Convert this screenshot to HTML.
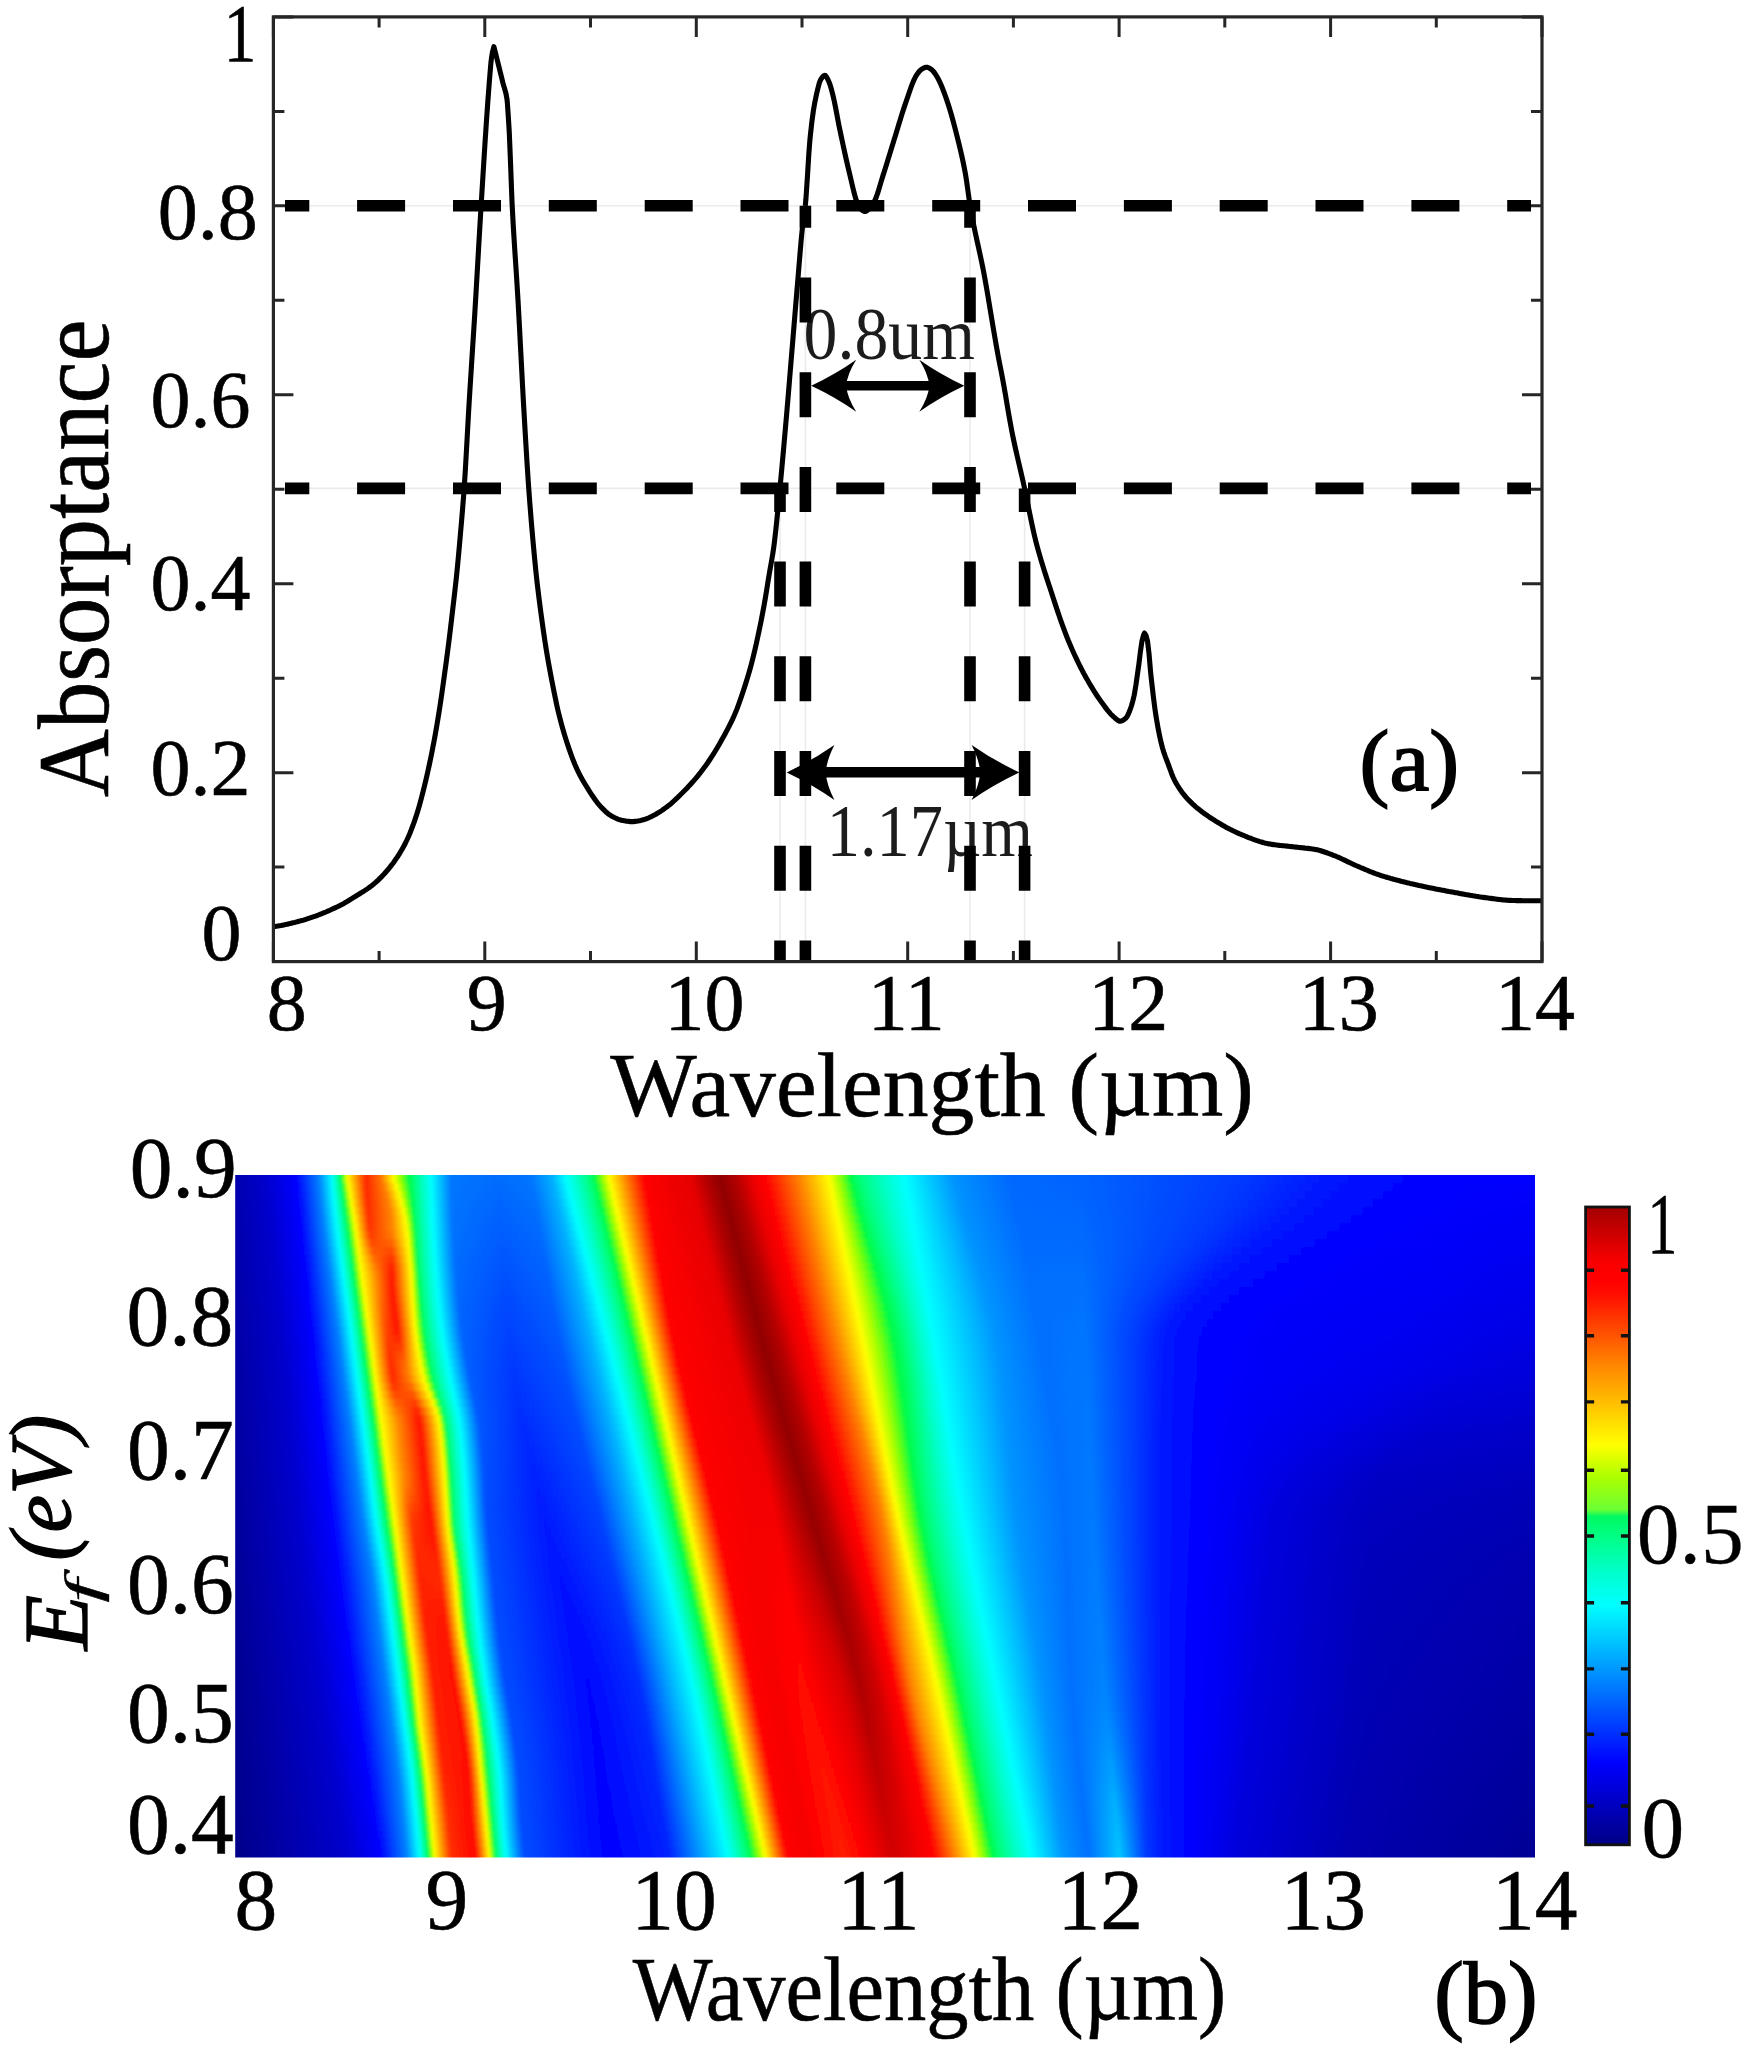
<!DOCTYPE html>
<html lang="en"><head><meta charset="utf-8"><title>Absorptance figure</title>
<style>html,body{margin:0;padding:0;background:#fff}svg{display:block;filter:blur(0.55px)}</style></head>
<body>
<svg width="1747" height="2051" viewBox="0 0 1747 2051" font-family='"Liberation Serif", serif'>
<defs>
<clipPath id="hclip"><rect x="235.2" y="1175.0" width="1299.8" height="682.4"/></clipPath>
<filter id="hblur" x="-2%" y="-4%" width="104%" height="108%"><feGaussianBlur stdDeviation="1.6"/></filter>
<linearGradient id="h0"><stop offset="0.0061" stop-color="#0000ae"/><stop offset="0.0293" stop-color="#0000cd"/><stop offset="0.0521" stop-color="#0000ff"/><stop offset="0.0697" stop-color="#0080ff"/><stop offset="0.0796" stop-color="#00ffff"/><stop offset="0.0822" stop-color="#00ffc8"/><stop offset="0.0848" stop-color="#00ff82"/><stop offset="0.0854" stop-color="#00fe6f"/><stop offset="0.0869" stop-color="#00fc46"/><stop offset="0.0883" stop-color="#5fff14"/><stop offset="0.0897" stop-color="#afff00"/><stop offset="0.0913" stop-color="#ffff00"/><stop offset="0.1055" stop-color="#ff2400"/><stop offset="0.1172" stop-color="#ff7500"/><stop offset="0.1264" stop-color="#ffff00"/><stop offset="0.1306" stop-color="#afff00"/><stop offset="0.1342" stop-color="#5fff14"/><stop offset="0.1378" stop-color="#00fc46"/><stop offset="0.1414" stop-color="#00fe6f"/><stop offset="0.1429" stop-color="#00ff82"/><stop offset="0.1490" stop-color="#00ffc8"/><stop offset="0.1550" stop-color="#00ffff"/><stop offset="0.1702" stop-color="#0075ff"/><stop offset="0.2062" stop-color="#006cff"/><stop offset="0.2310" stop-color="#0074ff"/><stop offset="0.2475" stop-color="#00b2ff"/><stop offset="0.2575" stop-color="#00ffff"/><stop offset="0.2658" stop-color="#00ffc8"/><stop offset="0.2742" stop-color="#00ff82"/><stop offset="0.2763" stop-color="#00fe6f"/><stop offset="0.2797" stop-color="#00fc46"/><stop offset="0.2831" stop-color="#5fff14"/><stop offset="0.2865" stop-color="#afff00"/><stop offset="0.2905" stop-color="#ffff00"/><stop offset="0.3034" stop-color="#ff8000"/><stop offset="0.3168" stop-color="#ff0000"/><stop offset="0.3368" stop-color="#ef0000"/><stop offset="0.3530" stop-color="#e50000"/><stop offset="0.3641" stop-color="#b30000"/><stop offset="0.3748" stop-color="#8f0000"/><stop offset="0.3868" stop-color="#b30000"/><stop offset="0.3990" stop-color="#eb0000"/><stop offset="0.4088" stop-color="#ff0000"/><stop offset="0.4344" stop-color="#ff8000"/><stop offset="0.4577" stop-color="#ffff00"/><stop offset="0.4637" stop-color="#afff00"/><stop offset="0.4689" stop-color="#5fff14"/><stop offset="0.4740" stop-color="#00fc46"/><stop offset="0.4792" stop-color="#00fe6f"/><stop offset="0.4832" stop-color="#00ff82"/><stop offset="0.4993" stop-color="#00ffc8"/><stop offset="0.5151" stop-color="#00ffff"/><stop offset="0.5518" stop-color="#0094ff"/><stop offset="0.5958" stop-color="#0068ff"/><stop offset="0.6474" stop-color="#0064ff"/><stop offset="0.7728" stop-color="#0038ff"/><stop offset="0.8312" stop-color="#0019ff"/><stop offset="0.8725" stop-color="#000aff"/><stop offset="0.9128" stop-color="#0003ff"/><stop offset="0.9400" stop-color="#0000ff"/><stop offset="0.9420" stop-color="#0000ff"/><stop offset="0.9526" stop-color="#0000fe"/><stop offset="0.9696" stop-color="#0000fe"/><stop offset="0.9939" stop-color="#0000fe"/></linearGradient>
<linearGradient id="h1"><stop offset="0.0061" stop-color="#0000ad"/><stop offset="0.0299" stop-color="#0000cd"/><stop offset="0.0527" stop-color="#0000ff"/><stop offset="0.0703" stop-color="#0080ff"/><stop offset="0.0801" stop-color="#00ffff"/><stop offset="0.0828" stop-color="#00ffc8"/><stop offset="0.0856" stop-color="#00ff82"/><stop offset="0.0863" stop-color="#00fe6f"/><stop offset="0.0877" stop-color="#00fc46"/><stop offset="0.0892" stop-color="#5fff14"/><stop offset="0.0907" stop-color="#afff00"/><stop offset="0.0924" stop-color="#ffff00"/><stop offset="0.1057" stop-color="#ff2400"/><stop offset="0.1193" stop-color="#ff7c00"/><stop offset="0.1286" stop-color="#ffff00"/><stop offset="0.1323" stop-color="#afff00"/><stop offset="0.1355" stop-color="#5fff14"/><stop offset="0.1387" stop-color="#00fc46"/><stop offset="0.1418" stop-color="#00fe6f"/><stop offset="0.1433" stop-color="#00ff82"/><stop offset="0.1493" stop-color="#00ffc8"/><stop offset="0.1552" stop-color="#00ffff"/><stop offset="0.1703" stop-color="#0075ff"/><stop offset="0.2066" stop-color="#006aff"/><stop offset="0.2321" stop-color="#0073ff"/><stop offset="0.2489" stop-color="#00b2ff"/><stop offset="0.2591" stop-color="#00ffff"/><stop offset="0.2673" stop-color="#00ffc8"/><stop offset="0.2757" stop-color="#00ff82"/><stop offset="0.2778" stop-color="#00fe6f"/><stop offset="0.2812" stop-color="#00fc46"/><stop offset="0.2845" stop-color="#5fff14"/><stop offset="0.2879" stop-color="#afff00"/><stop offset="0.2919" stop-color="#ffff00"/><stop offset="0.3047" stop-color="#ff8000"/><stop offset="0.3179" stop-color="#ff0000"/><stop offset="0.3381" stop-color="#ef0000"/><stop offset="0.3545" stop-color="#e50000"/><stop offset="0.3657" stop-color="#b30000"/><stop offset="0.3763" stop-color="#8f0000"/><stop offset="0.3884" stop-color="#b30000"/><stop offset="0.4006" stop-color="#eb0000"/><stop offset="0.4104" stop-color="#ff0000"/><stop offset="0.4359" stop-color="#ff8000"/><stop offset="0.4590" stop-color="#ffff00"/><stop offset="0.4651" stop-color="#afff00"/><stop offset="0.4704" stop-color="#5fff14"/><stop offset="0.4756" stop-color="#00fc46"/><stop offset="0.4809" stop-color="#00fe6f"/><stop offset="0.4848" stop-color="#00ff82"/><stop offset="0.5007" stop-color="#00ffc8"/><stop offset="0.5162" stop-color="#00ffff"/><stop offset="0.5534" stop-color="#0094ff"/><stop offset="0.5969" stop-color="#0068ff"/><stop offset="0.6477" stop-color="#0065ff"/><stop offset="0.7689" stop-color="#0038ff"/><stop offset="0.8254" stop-color="#0019ff"/><stop offset="0.8655" stop-color="#000aff"/><stop offset="0.9050" stop-color="#0003ff"/><stop offset="0.9304" stop-color="#0000ff"/><stop offset="0.9347" stop-color="#0000fe"/><stop offset="0.9497" stop-color="#0000fd"/><stop offset="0.9688" stop-color="#0000fd"/><stop offset="0.9939" stop-color="#0000fc"/></linearGradient>
<linearGradient id="h2"><stop offset="0.0061" stop-color="#0000ad"/><stop offset="0.0305" stop-color="#0000cd"/><stop offset="0.0533" stop-color="#0000ff"/><stop offset="0.0708" stop-color="#0080ff"/><stop offset="0.0807" stop-color="#00ffff"/><stop offset="0.0835" stop-color="#00ffc8"/><stop offset="0.0864" stop-color="#00ff82"/><stop offset="0.0871" stop-color="#00fe6f"/><stop offset="0.0886" stop-color="#00fc46"/><stop offset="0.0901" stop-color="#5fff14"/><stop offset="0.0916" stop-color="#afff00"/><stop offset="0.0934" stop-color="#ffff00"/><stop offset="0.1060" stop-color="#ff2600"/><stop offset="0.1213" stop-color="#ff8000"/><stop offset="0.1306" stop-color="#ffff00"/><stop offset="0.1339" stop-color="#afff00"/><stop offset="0.1367" stop-color="#5fff14"/><stop offset="0.1395" stop-color="#00fc46"/><stop offset="0.1422" stop-color="#00fe6f"/><stop offset="0.1437" stop-color="#00ff82"/><stop offset="0.1496" stop-color="#00ffc8"/><stop offset="0.1554" stop-color="#00ffff"/><stop offset="0.1705" stop-color="#0074ff"/><stop offset="0.2070" stop-color="#0068ff"/><stop offset="0.2331" stop-color="#0071ff"/><stop offset="0.2503" stop-color="#00b2ff"/><stop offset="0.2606" stop-color="#00ffff"/><stop offset="0.2688" stop-color="#00ffc8"/><stop offset="0.2771" stop-color="#00ff82"/><stop offset="0.2792" stop-color="#00fe6f"/><stop offset="0.2826" stop-color="#00fc46"/><stop offset="0.2860" stop-color="#5fff14"/><stop offset="0.2893" stop-color="#afff00"/><stop offset="0.2933" stop-color="#ffff00"/><stop offset="0.3059" stop-color="#ff8000"/><stop offset="0.3190" stop-color="#ff0000"/><stop offset="0.3394" stop-color="#f00000"/><stop offset="0.3559" stop-color="#e50000"/><stop offset="0.3673" stop-color="#b30000"/><stop offset="0.3779" stop-color="#8f0000"/><stop offset="0.3900" stop-color="#b30000"/><stop offset="0.4022" stop-color="#eb0000"/><stop offset="0.4120" stop-color="#ff0000"/><stop offset="0.4373" stop-color="#ff8000"/><stop offset="0.4602" stop-color="#ffff00"/><stop offset="0.4665" stop-color="#afff00"/><stop offset="0.4718" stop-color="#5fff14"/><stop offset="0.4772" stop-color="#00fc46"/><stop offset="0.4826" stop-color="#00fe6f"/><stop offset="0.4864" stop-color="#00ff82"/><stop offset="0.5020" stop-color="#00ffc8"/><stop offset="0.5173" stop-color="#00ffff"/><stop offset="0.5550" stop-color="#0094ff"/><stop offset="0.5979" stop-color="#0069ff"/><stop offset="0.6479" stop-color="#0065ff"/><stop offset="0.7650" stop-color="#0038ff"/><stop offset="0.8197" stop-color="#0019ff"/><stop offset="0.8585" stop-color="#000aff"/><stop offset="0.8972" stop-color="#0003ff"/><stop offset="0.9210" stop-color="#0000ff"/><stop offset="0.9273" stop-color="#0000fe"/><stop offset="0.9467" stop-color="#0000fd"/><stop offset="0.9680" stop-color="#0000fc"/><stop offset="0.9939" stop-color="#0000fb"/></linearGradient>
<linearGradient id="h3"><stop offset="0.0061" stop-color="#0000ad"/><stop offset="0.0312" stop-color="#0000cd"/><stop offset="0.0540" stop-color="#0000ff"/><stop offset="0.0715" stop-color="#0080ff"/><stop offset="0.0813" stop-color="#00ffff"/><stop offset="0.0842" stop-color="#00ffc8"/><stop offset="0.0871" stop-color="#00ff82"/><stop offset="0.0879" stop-color="#00fe6f"/><stop offset="0.0895" stop-color="#00fc46"/><stop offset="0.0910" stop-color="#5fff14"/><stop offset="0.0926" stop-color="#afff00"/><stop offset="0.0944" stop-color="#ffff00"/><stop offset="0.1064" stop-color="#ff2700"/><stop offset="0.1230" stop-color="#ff8300"/><stop offset="0.1325" stop-color="#ffff00"/><stop offset="0.1353" stop-color="#afff00"/><stop offset="0.1378" stop-color="#5fff14"/><stop offset="0.1402" stop-color="#00fc46"/><stop offset="0.1427" stop-color="#00fe6f"/><stop offset="0.1441" stop-color="#00ff82"/><stop offset="0.1499" stop-color="#00ffc8"/><stop offset="0.1556" stop-color="#00ffff"/><stop offset="0.1708" stop-color="#0074ff"/><stop offset="0.2074" stop-color="#0065ff"/><stop offset="0.2342" stop-color="#0070ff"/><stop offset="0.2518" stop-color="#00b2ff"/><stop offset="0.2622" stop-color="#00ffff"/><stop offset="0.2703" stop-color="#00ffc8"/><stop offset="0.2786" stop-color="#00ff82"/><stop offset="0.2806" stop-color="#00fe6f"/><stop offset="0.2840" stop-color="#00fc46"/><stop offset="0.2874" stop-color="#5fff14"/><stop offset="0.2908" stop-color="#afff00"/><stop offset="0.2947" stop-color="#ffff00"/><stop offset="0.3072" stop-color="#ff8000"/><stop offset="0.3201" stop-color="#ff0000"/><stop offset="0.3406" stop-color="#f00000"/><stop offset="0.3574" stop-color="#e60000"/><stop offset="0.3688" stop-color="#b30000"/><stop offset="0.3795" stop-color="#8f0000"/><stop offset="0.3916" stop-color="#b30000"/><stop offset="0.4038" stop-color="#eb0000"/><stop offset="0.4135" stop-color="#ff0000"/><stop offset="0.4387" stop-color="#ff8000"/><stop offset="0.4615" stop-color="#ffff00"/><stop offset="0.4679" stop-color="#afff00"/><stop offset="0.4733" stop-color="#5fff14"/><stop offset="0.4788" stop-color="#00fc46"/><stop offset="0.4842" stop-color="#00fe6f"/><stop offset="0.4881" stop-color="#00ff82"/><stop offset="0.5034" stop-color="#00ffc8"/><stop offset="0.5184" stop-color="#00ffff"/><stop offset="0.5566" stop-color="#0094ff"/><stop offset="0.5990" stop-color="#0069ff"/><stop offset="0.6482" stop-color="#0066ff"/><stop offset="0.7611" stop-color="#0038ff"/><stop offset="0.8139" stop-color="#0019ff"/><stop offset="0.8516" stop-color="#000aff"/><stop offset="0.8893" stop-color="#0003ff"/><stop offset="0.9118" stop-color="#0000ff"/><stop offset="0.9199" stop-color="#0000fe"/><stop offset="0.9438" stop-color="#0000fc"/><stop offset="0.9671" stop-color="#0000fb"/><stop offset="0.9939" stop-color="#0000fa"/></linearGradient>
<linearGradient id="h4"><stop offset="0.0061" stop-color="#0000ac"/><stop offset="0.0318" stop-color="#0000cd"/><stop offset="0.0546" stop-color="#0000ff"/><stop offset="0.0721" stop-color="#0080ff"/><stop offset="0.0820" stop-color="#00ffff"/><stop offset="0.0849" stop-color="#00ffc8"/><stop offset="0.0879" stop-color="#00ff82"/><stop offset="0.0887" stop-color="#00fe6f"/><stop offset="0.0903" stop-color="#00fc46"/><stop offset="0.0919" stop-color="#5fff14"/><stop offset="0.0935" stop-color="#afff00"/><stop offset="0.0954" stop-color="#ffff00"/><stop offset="0.1069" stop-color="#ff2900"/><stop offset="0.1243" stop-color="#ff8400"/><stop offset="0.1341" stop-color="#ffff00"/><stop offset="0.1366" stop-color="#afff00"/><stop offset="0.1388" stop-color="#5fff14"/><stop offset="0.1409" stop-color="#00fc46"/><stop offset="0.1431" stop-color="#00fe6f"/><stop offset="0.1445" stop-color="#00ff82"/><stop offset="0.1503" stop-color="#00ffc8"/><stop offset="0.1559" stop-color="#00ffff"/><stop offset="0.1710" stop-color="#0073ff"/><stop offset="0.2078" stop-color="#0063ff"/><stop offset="0.2352" stop-color="#006eff"/><stop offset="0.2532" stop-color="#00b2ff"/><stop offset="0.2638" stop-color="#00ffff"/><stop offset="0.2718" stop-color="#00ffc8"/><stop offset="0.2800" stop-color="#00ff82"/><stop offset="0.2821" stop-color="#00fe6f"/><stop offset="0.2854" stop-color="#00fc46"/><stop offset="0.2888" stop-color="#5fff14"/><stop offset="0.2922" stop-color="#afff00"/><stop offset="0.2961" stop-color="#ffff00"/><stop offset="0.3085" stop-color="#ff8000"/><stop offset="0.3212" stop-color="#ff0000"/><stop offset="0.3419" stop-color="#f00000"/><stop offset="0.3589" stop-color="#e60000"/><stop offset="0.3704" stop-color="#b30000"/><stop offset="0.3810" stop-color="#8f0000"/><stop offset="0.3932" stop-color="#b30000"/><stop offset="0.4054" stop-color="#eb0000"/><stop offset="0.4151" stop-color="#ff0000"/><stop offset="0.4402" stop-color="#ff8000"/><stop offset="0.4627" stop-color="#ffff00"/><stop offset="0.4692" stop-color="#afff00"/><stop offset="0.4748" stop-color="#5fff14"/><stop offset="0.4804" stop-color="#00fc46"/><stop offset="0.4860" stop-color="#00fe6f"/><stop offset="0.4897" stop-color="#00ff82"/><stop offset="0.5048" stop-color="#00ffc8"/><stop offset="0.5195" stop-color="#00ffff"/><stop offset="0.5582" stop-color="#0094ff"/><stop offset="0.6001" stop-color="#006aff"/><stop offset="0.6484" stop-color="#0067ff"/><stop offset="0.7570" stop-color="#0038ff"/><stop offset="0.8076" stop-color="#0019ff"/><stop offset="0.8441" stop-color="#000aff"/><stop offset="0.8810" stop-color="#0003ff"/><stop offset="0.9023" stop-color="#0000ff"/><stop offset="0.9120" stop-color="#0000fe"/><stop offset="0.9409" stop-color="#0000fb"/><stop offset="0.9663" stop-color="#0000fa"/><stop offset="0.9939" stop-color="#0000f8"/></linearGradient>
<linearGradient id="h5"><stop offset="0.0061" stop-color="#0000ac"/><stop offset="0.0324" stop-color="#0000cd"/><stop offset="0.0552" stop-color="#0000ff"/><stop offset="0.0728" stop-color="#0080ff"/><stop offset="0.0826" stop-color="#00ffff"/><stop offset="0.0857" stop-color="#00ffc8"/><stop offset="0.0887" stop-color="#00ff82"/><stop offset="0.0895" stop-color="#00fe6f"/><stop offset="0.0911" stop-color="#00fc46"/><stop offset="0.0928" stop-color="#5fff14"/><stop offset="0.0944" stop-color="#afff00"/><stop offset="0.0964" stop-color="#ffff00"/><stop offset="0.1074" stop-color="#ff2c00"/><stop offset="0.1251" stop-color="#ff8500"/><stop offset="0.1354" stop-color="#ffff00"/><stop offset="0.1377" stop-color="#afff00"/><stop offset="0.1396" stop-color="#5fff14"/><stop offset="0.1415" stop-color="#00fc46"/><stop offset="0.1435" stop-color="#00fe6f"/><stop offset="0.1449" stop-color="#00ff82"/><stop offset="0.1506" stop-color="#00ffc8"/><stop offset="0.1562" stop-color="#00ffff"/><stop offset="0.1713" stop-color="#0072ff"/><stop offset="0.2082" stop-color="#0061ff"/><stop offset="0.2363" stop-color="#006dff"/><stop offset="0.2546" stop-color="#00b2ff"/><stop offset="0.2654" stop-color="#00ffff"/><stop offset="0.2734" stop-color="#00ffc8"/><stop offset="0.2815" stop-color="#00ff82"/><stop offset="0.2835" stop-color="#00fe6f"/><stop offset="0.2869" stop-color="#00fc46"/><stop offset="0.2902" stop-color="#5fff14"/><stop offset="0.2936" stop-color="#afff00"/><stop offset="0.2975" stop-color="#ffff00"/><stop offset="0.3097" stop-color="#ff8000"/><stop offset="0.3222" stop-color="#ff0000"/><stop offset="0.3432" stop-color="#f00000"/><stop offset="0.3604" stop-color="#e60000"/><stop offset="0.3719" stop-color="#b30000"/><stop offset="0.3826" stop-color="#8f0000"/><stop offset="0.3948" stop-color="#b30000"/><stop offset="0.4070" stop-color="#eb0000"/><stop offset="0.4167" stop-color="#ff0000"/><stop offset="0.4416" stop-color="#ff8000"/><stop offset="0.4640" stop-color="#ffff00"/><stop offset="0.4706" stop-color="#afff00"/><stop offset="0.4763" stop-color="#5fff14"/><stop offset="0.4820" stop-color="#00fc46"/><stop offset="0.4877" stop-color="#00fe6f"/><stop offset="0.4914" stop-color="#00ff82"/><stop offset="0.5062" stop-color="#00ffc8"/><stop offset="0.5206" stop-color="#00ffff"/><stop offset="0.5599" stop-color="#0094ff"/><stop offset="0.6011" stop-color="#006aff"/><stop offset="0.6487" stop-color="#0068ff"/><stop offset="0.7524" stop-color="#0038ff"/><stop offset="0.8009" stop-color="#0019ff"/><stop offset="0.8360" stop-color="#000aff"/><stop offset="0.8720" stop-color="#0003ff"/><stop offset="0.8923" stop-color="#0000ff"/><stop offset="0.9037" stop-color="#0000fd"/><stop offset="0.9380" stop-color="#0000fb"/><stop offset="0.9655" stop-color="#0000f8"/><stop offset="0.9939" stop-color="#0000f7"/></linearGradient>
<linearGradient id="h6"><stop offset="0.0061" stop-color="#0000ab"/><stop offset="0.0331" stop-color="#0000cd"/><stop offset="0.0559" stop-color="#0000ff"/><stop offset="0.0734" stop-color="#0080ff"/><stop offset="0.0833" stop-color="#00ffff"/><stop offset="0.0864" stop-color="#00ffc8"/><stop offset="0.0895" stop-color="#00ff82"/><stop offset="0.0903" stop-color="#00fe6f"/><stop offset="0.0920" stop-color="#00fc46"/><stop offset="0.0936" stop-color="#5fff14"/><stop offset="0.0953" stop-color="#afff00"/><stop offset="0.0973" stop-color="#ffff00"/><stop offset="0.1079" stop-color="#ff2f00"/><stop offset="0.1252" stop-color="#ff8400"/><stop offset="0.1364" stop-color="#ffff00"/><stop offset="0.1385" stop-color="#afff00"/><stop offset="0.1403" stop-color="#5fff14"/><stop offset="0.1421" stop-color="#00fc46"/><stop offset="0.1439" stop-color="#00fe6f"/><stop offset="0.1453" stop-color="#00ff82"/><stop offset="0.1509" stop-color="#00ffc8"/><stop offset="0.1565" stop-color="#00ffff"/><stop offset="0.1716" stop-color="#0072ff"/><stop offset="0.2086" stop-color="#005eff"/><stop offset="0.2373" stop-color="#006bff"/><stop offset="0.2561" stop-color="#00b2ff"/><stop offset="0.2669" stop-color="#00ffff"/><stop offset="0.2749" stop-color="#00ffc8"/><stop offset="0.2829" stop-color="#00ff82"/><stop offset="0.2850" stop-color="#00fe6f"/><stop offset="0.2883" stop-color="#00fc46"/><stop offset="0.2917" stop-color="#5fff14"/><stop offset="0.2950" stop-color="#afff00"/><stop offset="0.2989" stop-color="#ffff00"/><stop offset="0.3110" stop-color="#ff8000"/><stop offset="0.3233" stop-color="#ff0000"/><stop offset="0.3444" stop-color="#f10000"/><stop offset="0.3618" stop-color="#e60000"/><stop offset="0.3735" stop-color="#b30000"/><stop offset="0.3842" stop-color="#8f0000"/><stop offset="0.3964" stop-color="#b30000"/><stop offset="0.4086" stop-color="#eb0000"/><stop offset="0.4182" stop-color="#ff0000"/><stop offset="0.4430" stop-color="#ff8000"/><stop offset="0.4653" stop-color="#ffff00"/><stop offset="0.4721" stop-color="#afff00"/><stop offset="0.4779" stop-color="#5fff14"/><stop offset="0.4837" stop-color="#00fc46"/><stop offset="0.4896" stop-color="#00fe6f"/><stop offset="0.4932" stop-color="#00ff82"/><stop offset="0.5076" stop-color="#00ffc8"/><stop offset="0.5218" stop-color="#00ffff"/><stop offset="0.5616" stop-color="#0094ff"/><stop offset="0.6022" stop-color="#006bff"/><stop offset="0.6489" stop-color="#0069ff"/><stop offset="0.7476" stop-color="#0038ff"/><stop offset="0.7938" stop-color="#0019ff"/><stop offset="0.8274" stop-color="#000aff"/><stop offset="0.8625" stop-color="#0003ff"/><stop offset="0.8820" stop-color="#0000ff"/><stop offset="0.8951" stop-color="#0000fd"/><stop offset="0.9352" stop-color="#0000fa"/><stop offset="0.9648" stop-color="#0000f7"/><stop offset="0.9939" stop-color="#0000f6"/></linearGradient>
<linearGradient id="h7"><stop offset="0.0061" stop-color="#0000ab"/><stop offset="0.0337" stop-color="#0000cd"/><stop offset="0.0565" stop-color="#0000ff"/><stop offset="0.0742" stop-color="#0080ff"/><stop offset="0.0841" stop-color="#00ffff"/><stop offset="0.0872" stop-color="#00ffc8"/><stop offset="0.0903" stop-color="#00ff82"/><stop offset="0.0911" stop-color="#00fe6f"/><stop offset="0.0928" stop-color="#00fc46"/><stop offset="0.0945" stop-color="#5fff14"/><stop offset="0.0962" stop-color="#afff00"/><stop offset="0.0981" stop-color="#ffff00"/><stop offset="0.1086" stop-color="#ff3900"/><stop offset="0.1252" stop-color="#ff7900"/><stop offset="0.1372" stop-color="#ffff00"/><stop offset="0.1392" stop-color="#afff00"/><stop offset="0.1409" stop-color="#5fff14"/><stop offset="0.1426" stop-color="#00fc46"/><stop offset="0.1443" stop-color="#00fe6f"/><stop offset="0.1457" stop-color="#00ff82"/><stop offset="0.1513" stop-color="#00ffc8"/><stop offset="0.1568" stop-color="#00ffff"/><stop offset="0.1719" stop-color="#0071ff"/><stop offset="0.2090" stop-color="#005cff"/><stop offset="0.2383" stop-color="#006aff"/><stop offset="0.2575" stop-color="#00b2ff"/><stop offset="0.2685" stop-color="#00ffff"/><stop offset="0.2764" stop-color="#00ffc8"/><stop offset="0.2844" stop-color="#00ff82"/><stop offset="0.2864" stop-color="#00fe6f"/><stop offset="0.2897" stop-color="#00fc46"/><stop offset="0.2931" stop-color="#5fff14"/><stop offset="0.2965" stop-color="#afff00"/><stop offset="0.3004" stop-color="#ffff00"/><stop offset="0.3122" stop-color="#ff8000"/><stop offset="0.3244" stop-color="#ff0000"/><stop offset="0.3457" stop-color="#f10000"/><stop offset="0.3633" stop-color="#e70000"/><stop offset="0.3750" stop-color="#b30000"/><stop offset="0.3857" stop-color="#8f0000"/><stop offset="0.3980" stop-color="#b30000"/><stop offset="0.4102" stop-color="#eb0000"/><stop offset="0.4198" stop-color="#ff0000"/><stop offset="0.4444" stop-color="#ff8000"/><stop offset="0.4665" stop-color="#ffff00"/><stop offset="0.4735" stop-color="#afff00"/><stop offset="0.4795" stop-color="#5fff14"/><stop offset="0.4854" stop-color="#00fc46"/><stop offset="0.4914" stop-color="#00fe6f"/><stop offset="0.4949" stop-color="#00ff82"/><stop offset="0.5090" stop-color="#00ffc8"/><stop offset="0.5229" stop-color="#00ffff"/><stop offset="0.5634" stop-color="#0094ff"/><stop offset="0.6033" stop-color="#006bff"/><stop offset="0.6492" stop-color="#006aff"/><stop offset="0.7426" stop-color="#0038ff"/><stop offset="0.7865" stop-color="#0019ff"/><stop offset="0.8185" stop-color="#000aff"/><stop offset="0.8527" stop-color="#0003ff"/><stop offset="0.8715" stop-color="#0000ff"/><stop offset="0.8861" stop-color="#0000fd"/><stop offset="0.9324" stop-color="#0000f9"/><stop offset="0.9641" stop-color="#0000f6"/><stop offset="0.9939" stop-color="#0000f4"/></linearGradient>
<linearGradient id="h8"><stop offset="0.0061" stop-color="#0000aa"/><stop offset="0.0344" stop-color="#0000cd"/><stop offset="0.0571" stop-color="#0000ff"/><stop offset="0.0750" stop-color="#0080ff"/><stop offset="0.0848" stop-color="#00ffff"/><stop offset="0.0879" stop-color="#00ffc8"/><stop offset="0.0911" stop-color="#00ff82"/><stop offset="0.0919" stop-color="#00fe6f"/><stop offset="0.0936" stop-color="#00fc46"/><stop offset="0.0953" stop-color="#5fff14"/><stop offset="0.0970" stop-color="#afff00"/><stop offset="0.0989" stop-color="#ffff00"/><stop offset="0.1095" stop-color="#ff4900"/><stop offset="0.1252" stop-color="#ff6400"/><stop offset="0.1379" stop-color="#ffff00"/><stop offset="0.1398" stop-color="#afff00"/><stop offset="0.1414" stop-color="#5fff14"/><stop offset="0.1430" stop-color="#00fc46"/><stop offset="0.1447" stop-color="#00fe6f"/><stop offset="0.1461" stop-color="#00ff82"/><stop offset="0.1517" stop-color="#00ffc8"/><stop offset="0.1572" stop-color="#00ffff"/><stop offset="0.1722" stop-color="#0070ff"/><stop offset="0.2093" stop-color="#005aff"/><stop offset="0.2393" stop-color="#0068ff"/><stop offset="0.2589" stop-color="#00b2ff"/><stop offset="0.2701" stop-color="#00ffff"/><stop offset="0.2779" stop-color="#00ffc8"/><stop offset="0.2858" stop-color="#00ff82"/><stop offset="0.2878" stop-color="#00fe6f"/><stop offset="0.2912" stop-color="#00fc46"/><stop offset="0.2945" stop-color="#5fff14"/><stop offset="0.2979" stop-color="#afff00"/><stop offset="0.3018" stop-color="#ffff00"/><stop offset="0.3135" stop-color="#ff8000"/><stop offset="0.3254" stop-color="#ff0000"/><stop offset="0.3469" stop-color="#f20000"/><stop offset="0.3648" stop-color="#e70000"/><stop offset="0.3766" stop-color="#b30000"/><stop offset="0.3873" stop-color="#8f0000"/><stop offset="0.3996" stop-color="#b30000"/><stop offset="0.4118" stop-color="#eb0000"/><stop offset="0.4214" stop-color="#ff0000"/><stop offset="0.4458" stop-color="#ff8000"/><stop offset="0.4678" stop-color="#ffff00"/><stop offset="0.4749" stop-color="#afff00"/><stop offset="0.4810" stop-color="#5fff14"/><stop offset="0.4872" stop-color="#00fc46"/><stop offset="0.4933" stop-color="#00fe6f"/><stop offset="0.4967" stop-color="#00ff82"/><stop offset="0.5105" stop-color="#00ffc8"/><stop offset="0.5240" stop-color="#00ffff"/><stop offset="0.5652" stop-color="#0094ff"/><stop offset="0.6044" stop-color="#006cff"/><stop offset="0.6495" stop-color="#006bff"/><stop offset="0.7375" stop-color="#0038ff"/><stop offset="0.7789" stop-color="#0019ff"/><stop offset="0.8094" stop-color="#000aff"/><stop offset="0.8426" stop-color="#0003ff"/><stop offset="0.8608" stop-color="#0000ff"/><stop offset="0.8770" stop-color="#0000fd"/><stop offset="0.9296" stop-color="#0000f9"/><stop offset="0.9635" stop-color="#0000f5"/><stop offset="0.9939" stop-color="#0000f3"/></linearGradient>
<linearGradient id="h9"><stop offset="0.0061" stop-color="#0000aa"/><stop offset="0.0350" stop-color="#0000cd"/><stop offset="0.0577" stop-color="#0000ff"/><stop offset="0.0758" stop-color="#0080ff"/><stop offset="0.0857" stop-color="#00ffff"/><stop offset="0.0888" stop-color="#00ffc8"/><stop offset="0.0919" stop-color="#00ff82"/><stop offset="0.0927" stop-color="#00fe6f"/><stop offset="0.0944" stop-color="#00fc46"/><stop offset="0.0961" stop-color="#5fff14"/><stop offset="0.0978" stop-color="#afff00"/><stop offset="0.0997" stop-color="#ffff00"/><stop offset="0.1106" stop-color="#ff5b00"/><stop offset="0.1252" stop-color="#ff4a00"/><stop offset="0.1385" stop-color="#ffff00"/><stop offset="0.1403" stop-color="#afff00"/><stop offset="0.1419" stop-color="#5fff14"/><stop offset="0.1435" stop-color="#00fc46"/><stop offset="0.1450" stop-color="#00fe6f"/><stop offset="0.1464" stop-color="#00ff82"/><stop offset="0.1521" stop-color="#00ffc8"/><stop offset="0.1576" stop-color="#00ffff"/><stop offset="0.1726" stop-color="#006fff"/><stop offset="0.2097" stop-color="#0057ff"/><stop offset="0.2403" stop-color="#0067ff"/><stop offset="0.2604" stop-color="#00b2ff"/><stop offset="0.2717" stop-color="#00ffff"/><stop offset="0.2794" stop-color="#00ffc8"/><stop offset="0.2873" stop-color="#00ff82"/><stop offset="0.2893" stop-color="#00fe6f"/><stop offset="0.2926" stop-color="#00fc46"/><stop offset="0.2960" stop-color="#5fff14"/><stop offset="0.2993" stop-color="#afff00"/><stop offset="0.3032" stop-color="#ffff00"/><stop offset="0.3147" stop-color="#ff8000"/><stop offset="0.3265" stop-color="#ff0000"/><stop offset="0.3481" stop-color="#f20000"/><stop offset="0.3662" stop-color="#e70000"/><stop offset="0.3781" stop-color="#b30000"/><stop offset="0.3888" stop-color="#8f0000"/><stop offset="0.4012" stop-color="#b30000"/><stop offset="0.4134" stop-color="#eb0000"/><stop offset="0.4229" stop-color="#ff0000"/><stop offset="0.4473" stop-color="#ff8000"/><stop offset="0.4691" stop-color="#ffff00"/><stop offset="0.4764" stop-color="#afff00"/><stop offset="0.4826" stop-color="#5fff14"/><stop offset="0.4889" stop-color="#00fc46"/><stop offset="0.4951" stop-color="#00fe6f"/><stop offset="0.4985" stop-color="#00ff82"/><stop offset="0.5119" stop-color="#00ffc8"/><stop offset="0.5251" stop-color="#00ffff"/><stop offset="0.5670" stop-color="#0094ff"/><stop offset="0.6055" stop-color="#006cff"/><stop offset="0.6497" stop-color="#006cff"/><stop offset="0.7323" stop-color="#0038ff"/><stop offset="0.7713" stop-color="#0019ff"/><stop offset="0.8002" stop-color="#000aff"/><stop offset="0.8324" stop-color="#0003ff"/><stop offset="0.8500" stop-color="#0000ff"/><stop offset="0.8678" stop-color="#0000fc"/><stop offset="0.9269" stop-color="#0000f8"/><stop offset="0.9628" stop-color="#0000f4"/><stop offset="0.9939" stop-color="#0000f2"/></linearGradient>
<linearGradient id="h10"><stop offset="0.0061" stop-color="#0000a9"/><stop offset="0.0357" stop-color="#0000cd"/><stop offset="0.0584" stop-color="#0000ff"/><stop offset="0.0766" stop-color="#0080ff"/><stop offset="0.0865" stop-color="#00ffff"/><stop offset="0.0896" stop-color="#00ffc8"/><stop offset="0.0927" stop-color="#00ff82"/><stop offset="0.0935" stop-color="#00fe6f"/><stop offset="0.0952" stop-color="#00fc46"/><stop offset="0.0969" stop-color="#5fff14"/><stop offset="0.0985" stop-color="#afff00"/><stop offset="0.1005" stop-color="#ffff00"/><stop offset="0.1117" stop-color="#ff6d00"/><stop offset="0.1252" stop-color="#ff3100"/><stop offset="0.1390" stop-color="#ffff00"/><stop offset="0.1408" stop-color="#afff00"/><stop offset="0.1423" stop-color="#5fff14"/><stop offset="0.1439" stop-color="#00fc46"/><stop offset="0.1454" stop-color="#00fe6f"/><stop offset="0.1468" stop-color="#00ff82"/><stop offset="0.1525" stop-color="#00ffc8"/><stop offset="0.1580" stop-color="#00ffff"/><stop offset="0.1730" stop-color="#006dff"/><stop offset="0.2100" stop-color="#0055ff"/><stop offset="0.2413" stop-color="#0065ff"/><stop offset="0.2618" stop-color="#00b2ff"/><stop offset="0.2733" stop-color="#00ffff"/><stop offset="0.2809" stop-color="#00ffc8"/><stop offset="0.2888" stop-color="#00ff82"/><stop offset="0.2907" stop-color="#00fe6f"/><stop offset="0.2940" stop-color="#00fc46"/><stop offset="0.2974" stop-color="#5fff14"/><stop offset="0.3007" stop-color="#afff00"/><stop offset="0.3046" stop-color="#ffff00"/><stop offset="0.3159" stop-color="#ff8000"/><stop offset="0.3275" stop-color="#ff0000"/><stop offset="0.3494" stop-color="#f20000"/><stop offset="0.3677" stop-color="#e80000"/><stop offset="0.3797" stop-color="#b30000"/><stop offset="0.3904" stop-color="#8f0000"/><stop offset="0.4028" stop-color="#b30000"/><stop offset="0.4150" stop-color="#eb0000"/><stop offset="0.4245" stop-color="#ff0000"/><stop offset="0.4487" stop-color="#ff8000"/><stop offset="0.4703" stop-color="#ffff00"/><stop offset="0.4778" stop-color="#afff00"/><stop offset="0.4842" stop-color="#5fff14"/><stop offset="0.4906" stop-color="#00fc46"/><stop offset="0.4970" stop-color="#00fe6f"/><stop offset="0.5003" stop-color="#00ff82"/><stop offset="0.5134" stop-color="#00ffc8"/><stop offset="0.5262" stop-color="#00ffff"/><stop offset="0.5688" stop-color="#0094ff"/><stop offset="0.6066" stop-color="#006dff"/><stop offset="0.6500" stop-color="#006dff"/><stop offset="0.7272" stop-color="#0038ff"/><stop offset="0.7637" stop-color="#0019ff"/><stop offset="0.7910" stop-color="#000aff"/><stop offset="0.8223" stop-color="#0003ff"/><stop offset="0.8393" stop-color="#0000ff"/><stop offset="0.8586" stop-color="#0000fc"/><stop offset="0.9241" stop-color="#0000f7"/><stop offset="0.9621" stop-color="#0000f3"/><stop offset="0.9939" stop-color="#0000f1"/></linearGradient>
<linearGradient id="h11"><stop offset="0.0061" stop-color="#0000a9"/><stop offset="0.0363" stop-color="#0000cd"/><stop offset="0.0590" stop-color="#0000ff"/><stop offset="0.0775" stop-color="#0080ff"/><stop offset="0.0873" stop-color="#00ffff"/><stop offset="0.0904" stop-color="#00ffc8"/><stop offset="0.0935" stop-color="#00ff82"/><stop offset="0.0943" stop-color="#00fe6f"/><stop offset="0.0960" stop-color="#00fc46"/><stop offset="0.0976" stop-color="#5fff14"/><stop offset="0.0993" stop-color="#afff00"/><stop offset="0.1013" stop-color="#ffff00"/><stop offset="0.1128" stop-color="#ff7a00"/><stop offset="0.1252" stop-color="#ff1d00"/><stop offset="0.1395" stop-color="#ffff00"/><stop offset="0.1413" stop-color="#afff00"/><stop offset="0.1428" stop-color="#5fff14"/><stop offset="0.1443" stop-color="#00fc46"/><stop offset="0.1458" stop-color="#00fe6f"/><stop offset="0.1473" stop-color="#00ff82"/><stop offset="0.1529" stop-color="#00ffc8"/><stop offset="0.1584" stop-color="#00ffff"/><stop offset="0.1734" stop-color="#006cff"/><stop offset="0.2104" stop-color="#0053ff"/><stop offset="0.2423" stop-color="#0064ff"/><stop offset="0.2632" stop-color="#00b2ff"/><stop offset="0.2749" stop-color="#00ffff"/><stop offset="0.2825" stop-color="#00ffc8"/><stop offset="0.2902" stop-color="#00ff82"/><stop offset="0.2921" stop-color="#00fe6f"/><stop offset="0.2955" stop-color="#00fc46"/><stop offset="0.2988" stop-color="#5fff14"/><stop offset="0.3022" stop-color="#afff00"/><stop offset="0.3060" stop-color="#ffff00"/><stop offset="0.3172" stop-color="#ff8000"/><stop offset="0.3286" stop-color="#ff0000"/><stop offset="0.3506" stop-color="#f30000"/><stop offset="0.3692" stop-color="#e80000"/><stop offset="0.3812" stop-color="#b30000"/><stop offset="0.3919" stop-color="#8f0000"/><stop offset="0.4044" stop-color="#b30000"/><stop offset="0.4166" stop-color="#eb0000"/><stop offset="0.4261" stop-color="#ff0000"/><stop offset="0.4501" stop-color="#ff8000"/><stop offset="0.4716" stop-color="#ffff00"/><stop offset="0.4792" stop-color="#afff00"/><stop offset="0.4858" stop-color="#5fff14"/><stop offset="0.4923" stop-color="#00fc46"/><stop offset="0.4989" stop-color="#00fe6f"/><stop offset="0.5021" stop-color="#00ff82"/><stop offset="0.5148" stop-color="#00ffc8"/><stop offset="0.5273" stop-color="#00ffff"/><stop offset="0.5706" stop-color="#0094ff"/><stop offset="0.6077" stop-color="#006dff"/><stop offset="0.6502" stop-color="#006eff"/><stop offset="0.7221" stop-color="#0038ff"/><stop offset="0.7562" stop-color="#0019ff"/><stop offset="0.7819" stop-color="#000aff"/><stop offset="0.8123" stop-color="#0003ff"/><stop offset="0.8288" stop-color="#0000ff"/><stop offset="0.8495" stop-color="#0000fc"/><stop offset="0.9213" stop-color="#0000f7"/><stop offset="0.9614" stop-color="#0000f2"/><stop offset="0.9939" stop-color="#0000ef"/></linearGradient>
<linearGradient id="h12"><stop offset="0.0061" stop-color="#0000a9"/><stop offset="0.0370" stop-color="#0000cd"/><stop offset="0.0596" stop-color="#0000ff"/><stop offset="0.0783" stop-color="#0080ff"/><stop offset="0.0882" stop-color="#00ffff"/><stop offset="0.0912" stop-color="#00ffc8"/><stop offset="0.0943" stop-color="#00ff82"/><stop offset="0.0951" stop-color="#00fe6f"/><stop offset="0.0968" stop-color="#00fc46"/><stop offset="0.0985" stop-color="#5fff14"/><stop offset="0.1001" stop-color="#afff00"/><stop offset="0.1021" stop-color="#ffff00"/><stop offset="0.1138" stop-color="#ff8000"/><stop offset="0.1252" stop-color="#ff1400"/><stop offset="0.1400" stop-color="#ffff00"/><stop offset="0.1418" stop-color="#afff00"/><stop offset="0.1433" stop-color="#5fff14"/><stop offset="0.1448" stop-color="#00fc46"/><stop offset="0.1463" stop-color="#00fe6f"/><stop offset="0.1477" stop-color="#00ff82"/><stop offset="0.1534" stop-color="#00ffc8"/><stop offset="0.1589" stop-color="#00ffff"/><stop offset="0.1739" stop-color="#006bff"/><stop offset="0.2108" stop-color="#0050ff"/><stop offset="0.2433" stop-color="#0062ff"/><stop offset="0.2647" stop-color="#00b2ff"/><stop offset="0.2765" stop-color="#00ffff"/><stop offset="0.2840" stop-color="#00ffc8"/><stop offset="0.2917" stop-color="#00ff82"/><stop offset="0.2936" stop-color="#00fe6f"/><stop offset="0.2969" stop-color="#00fc46"/><stop offset="0.3002" stop-color="#5fff14"/><stop offset="0.3036" stop-color="#afff00"/><stop offset="0.3075" stop-color="#ffff00"/><stop offset="0.3184" stop-color="#ff8000"/><stop offset="0.3296" stop-color="#ff0000"/><stop offset="0.3519" stop-color="#f30000"/><stop offset="0.3707" stop-color="#e80000"/><stop offset="0.3827" stop-color="#b30000"/><stop offset="0.3935" stop-color="#8f0000"/><stop offset="0.4060" stop-color="#b30000"/><stop offset="0.4182" stop-color="#eb0000"/><stop offset="0.4276" stop-color="#ff0000"/><stop offset="0.4515" stop-color="#ff8000"/><stop offset="0.4729" stop-color="#ffff00"/><stop offset="0.4807" stop-color="#afff00"/><stop offset="0.4873" stop-color="#5fff14"/><stop offset="0.4940" stop-color="#00fc46"/><stop offset="0.5007" stop-color="#00fe6f"/><stop offset="0.5038" stop-color="#00ff82"/><stop offset="0.5162" stop-color="#00ffc8"/><stop offset="0.5284" stop-color="#00ffff"/><stop offset="0.5723" stop-color="#0094ff"/><stop offset="0.6088" stop-color="#006eff"/><stop offset="0.6505" stop-color="#006fff"/><stop offset="0.7172" stop-color="#0038ff"/><stop offset="0.7489" stop-color="#0019ff"/><stop offset="0.7732" stop-color="#000aff"/><stop offset="0.8026" stop-color="#0003ff"/><stop offset="0.8186" stop-color="#0000ff"/><stop offset="0.8407" stop-color="#0000fc"/><stop offset="0.9185" stop-color="#0000f6"/><stop offset="0.9607" stop-color="#0000f1"/><stop offset="0.9939" stop-color="#0000ee"/></linearGradient>
<linearGradient id="h13"><stop offset="0.0061" stop-color="#0000a8"/><stop offset="0.0376" stop-color="#0000cd"/><stop offset="0.0603" stop-color="#0000ff"/><stop offset="0.0791" stop-color="#0080ff"/><stop offset="0.0890" stop-color="#00ffff"/><stop offset="0.0920" stop-color="#00ffc8"/><stop offset="0.0952" stop-color="#00ff82"/><stop offset="0.0959" stop-color="#00fe6f"/><stop offset="0.0976" stop-color="#00fc46"/><stop offset="0.0993" stop-color="#5fff14"/><stop offset="0.1009" stop-color="#afff00"/><stop offset="0.1029" stop-color="#ffff00"/><stop offset="0.1148" stop-color="#ff7d00"/><stop offset="0.1254" stop-color="#ff1300"/><stop offset="0.1404" stop-color="#ffff00"/><stop offset="0.1422" stop-color="#afff00"/><stop offset="0.1437" stop-color="#5fff14"/><stop offset="0.1453" stop-color="#00fc46"/><stop offset="0.1468" stop-color="#00fe6f"/><stop offset="0.1482" stop-color="#00ff82"/><stop offset="0.1539" stop-color="#00ffc8"/><stop offset="0.1594" stop-color="#00ffff"/><stop offset="0.1744" stop-color="#006aff"/><stop offset="0.2112" stop-color="#004eff"/><stop offset="0.2444" stop-color="#0061ff"/><stop offset="0.2661" stop-color="#00b2ff"/><stop offset="0.2780" stop-color="#00ffff"/><stop offset="0.2855" stop-color="#00ffc8"/><stop offset="0.2931" stop-color="#00ff82"/><stop offset="0.2950" stop-color="#00fe6f"/><stop offset="0.2983" stop-color="#00fc46"/><stop offset="0.3017" stop-color="#5fff14"/><stop offset="0.3050" stop-color="#afff00"/><stop offset="0.3089" stop-color="#ffff00"/><stop offset="0.3197" stop-color="#ff8000"/><stop offset="0.3307" stop-color="#ff0000"/><stop offset="0.3531" stop-color="#f30000"/><stop offset="0.3721" stop-color="#e80000"/><stop offset="0.3843" stop-color="#b30000"/><stop offset="0.3951" stop-color="#8f0000"/><stop offset="0.4076" stop-color="#b30000"/><stop offset="0.4198" stop-color="#eb0000"/><stop offset="0.4292" stop-color="#ff0000"/><stop offset="0.4529" stop-color="#ff8000"/><stop offset="0.4741" stop-color="#ffff00"/><stop offset="0.4821" stop-color="#afff00"/><stop offset="0.4889" stop-color="#5fff14"/><stop offset="0.4957" stop-color="#00fc46"/><stop offset="0.5025" stop-color="#00fe6f"/><stop offset="0.5055" stop-color="#00ff82"/><stop offset="0.5177" stop-color="#00ffc8"/><stop offset="0.5295" stop-color="#00ffff"/><stop offset="0.5741" stop-color="#0094ff"/><stop offset="0.6098" stop-color="#006eff"/><stop offset="0.6507" stop-color="#0070ff"/><stop offset="0.7125" stop-color="#0038ff"/><stop offset="0.7420" stop-color="#0019ff"/><stop offset="0.7648" stop-color="#000aff"/><stop offset="0.7934" stop-color="#0003ff"/><stop offset="0.8088" stop-color="#0000ff"/><stop offset="0.8322" stop-color="#0000fb"/><stop offset="0.9157" stop-color="#0000f6"/><stop offset="0.9600" stop-color="#0000f0"/><stop offset="0.9939" stop-color="#0000ed"/></linearGradient>
<linearGradient id="h14"><stop offset="0.0061" stop-color="#0000a8"/><stop offset="0.0383" stop-color="#0000cd"/><stop offset="0.0609" stop-color="#0000ff"/><stop offset="0.0799" stop-color="#0080ff"/><stop offset="0.0898" stop-color="#00ffff"/><stop offset="0.0929" stop-color="#00ffc8"/><stop offset="0.0960" stop-color="#00ff82"/><stop offset="0.0967" stop-color="#00fe6f"/><stop offset="0.0984" stop-color="#00fc46"/><stop offset="0.1001" stop-color="#5fff14"/><stop offset="0.1017" stop-color="#afff00"/><stop offset="0.1037" stop-color="#ffff00"/><stop offset="0.1158" stop-color="#ff7600"/><stop offset="0.1258" stop-color="#ff1200"/><stop offset="0.1408" stop-color="#ffff00"/><stop offset="0.1426" stop-color="#afff00"/><stop offset="0.1442" stop-color="#5fff14"/><stop offset="0.1458" stop-color="#00fc46"/><stop offset="0.1473" stop-color="#00fe6f"/><stop offset="0.1487" stop-color="#00ff82"/><stop offset="0.1544" stop-color="#00ffc8"/><stop offset="0.1599" stop-color="#00ffff"/><stop offset="0.1749" stop-color="#0069ff"/><stop offset="0.2116" stop-color="#004cff"/><stop offset="0.2454" stop-color="#0060ff"/><stop offset="0.2675" stop-color="#00b2ff"/><stop offset="0.2796" stop-color="#00ffff"/><stop offset="0.2870" stop-color="#00ffc8"/><stop offset="0.2946" stop-color="#00ff82"/><stop offset="0.2965" stop-color="#00fe6f"/><stop offset="0.2998" stop-color="#00fc46"/><stop offset="0.3031" stop-color="#5fff14"/><stop offset="0.3064" stop-color="#afff00"/><stop offset="0.3103" stop-color="#ffff00"/><stop offset="0.3209" stop-color="#ff8000"/><stop offset="0.3318" stop-color="#ff0000"/><stop offset="0.3544" stop-color="#f40000"/><stop offset="0.3736" stop-color="#e90000"/><stop offset="0.3858" stop-color="#b30000"/><stop offset="0.3966" stop-color="#8f0000"/><stop offset="0.4092" stop-color="#b30000"/><stop offset="0.4214" stop-color="#eb0000"/><stop offset="0.4308" stop-color="#ff0000"/><stop offset="0.4544" stop-color="#ff8000"/><stop offset="0.4754" stop-color="#ffff00"/><stop offset="0.4835" stop-color="#afff00"/><stop offset="0.4904" stop-color="#5fff14"/><stop offset="0.4973" stop-color="#00fc46"/><stop offset="0.5043" stop-color="#00fe6f"/><stop offset="0.5072" stop-color="#00ff82"/><stop offset="0.5190" stop-color="#00ffc8"/><stop offset="0.5307" stop-color="#00ffff"/><stop offset="0.5757" stop-color="#0094ff"/><stop offset="0.6109" stop-color="#006fff"/><stop offset="0.6510" stop-color="#0071ff"/><stop offset="0.7082" stop-color="#0038ff"/><stop offset="0.7356" stop-color="#0019ff"/><stop offset="0.7570" stop-color="#000aff"/><stop offset="0.7847" stop-color="#0002ff"/><stop offset="0.7995" stop-color="#0000ff"/><stop offset="0.8241" stop-color="#0000fb"/><stop offset="0.9128" stop-color="#0000f5"/><stop offset="0.9592" stop-color="#0000ef"/><stop offset="0.9939" stop-color="#0000eb"/></linearGradient>
<linearGradient id="h15"><stop offset="0.0061" stop-color="#0000a7"/><stop offset="0.0389" stop-color="#0000cd"/><stop offset="0.0615" stop-color="#0000ff"/><stop offset="0.0808" stop-color="#0080ff"/><stop offset="0.0906" stop-color="#00ffff"/><stop offset="0.0937" stop-color="#00ffc8"/><stop offset="0.0968" stop-color="#00ff82"/><stop offset="0.0976" stop-color="#00fe6f"/><stop offset="0.0992" stop-color="#00fc46"/><stop offset="0.1009" stop-color="#5fff14"/><stop offset="0.1026" stop-color="#afff00"/><stop offset="0.1045" stop-color="#ffff00"/><stop offset="0.1168" stop-color="#ff6d00"/><stop offset="0.1264" stop-color="#ff1100"/><stop offset="0.1411" stop-color="#ffff00"/><stop offset="0.1430" stop-color="#afff00"/><stop offset="0.1447" stop-color="#5fff14"/><stop offset="0.1463" stop-color="#00fc46"/><stop offset="0.1479" stop-color="#00fe6f"/><stop offset="0.1493" stop-color="#00ff82"/><stop offset="0.1550" stop-color="#00ffc8"/><stop offset="0.1605" stop-color="#00ffff"/><stop offset="0.1755" stop-color="#0067ff"/><stop offset="0.2120" stop-color="#0049ff"/><stop offset="0.2465" stop-color="#005eff"/><stop offset="0.2690" stop-color="#00b2ff"/><stop offset="0.2812" stop-color="#00ffff"/><stop offset="0.2885" stop-color="#00ffc8"/><stop offset="0.2960" stop-color="#00ff82"/><stop offset="0.2979" stop-color="#00fe6f"/><stop offset="0.3012" stop-color="#00fc46"/><stop offset="0.3045" stop-color="#5fff14"/><stop offset="0.3078" stop-color="#afff00"/><stop offset="0.3117" stop-color="#ffff00"/><stop offset="0.3222" stop-color="#ff8000"/><stop offset="0.3329" stop-color="#ff0000"/><stop offset="0.3557" stop-color="#f40000"/><stop offset="0.3751" stop-color="#e90000"/><stop offset="0.3874" stop-color="#b30000"/><stop offset="0.3982" stop-color="#8f0000"/><stop offset="0.4108" stop-color="#b30000"/><stop offset="0.4230" stop-color="#eb0000"/><stop offset="0.4324" stop-color="#ff0000"/><stop offset="0.4558" stop-color="#ff8000"/><stop offset="0.4766" stop-color="#ffff00"/><stop offset="0.4848" stop-color="#afff00"/><stop offset="0.4919" stop-color="#5fff14"/><stop offset="0.4989" stop-color="#00fc46"/><stop offset="0.5060" stop-color="#00fe6f"/><stop offset="0.5089" stop-color="#00ff82"/><stop offset="0.5204" stop-color="#00ffc8"/><stop offset="0.5318" stop-color="#00ffff"/><stop offset="0.5773" stop-color="#0094ff"/><stop offset="0.6120" stop-color="#006fff"/><stop offset="0.6512" stop-color="#0072ff"/><stop offset="0.7042" stop-color="#0038ff"/><stop offset="0.7296" stop-color="#0019ff"/><stop offset="0.7499" stop-color="#000aff"/><stop offset="0.7767" stop-color="#0002ff"/><stop offset="0.7908" stop-color="#0000ff"/><stop offset="0.8166" stop-color="#0000fb"/><stop offset="0.9098" stop-color="#0000f4"/><stop offset="0.9584" stop-color="#0000ee"/><stop offset="0.9939" stop-color="#0000ea"/></linearGradient>
<linearGradient id="h16"><stop offset="0.0061" stop-color="#0000a7"/><stop offset="0.0395" stop-color="#0000cd"/><stop offset="0.0622" stop-color="#0000ff"/><stop offset="0.0816" stop-color="#0080ff"/><stop offset="0.0915" stop-color="#00ffff"/><stop offset="0.0945" stop-color="#00ffc8"/><stop offset="0.0976" stop-color="#00ff82"/><stop offset="0.0984" stop-color="#00fe6f"/><stop offset="0.1001" stop-color="#00fc46"/><stop offset="0.1017" stop-color="#5fff14"/><stop offset="0.1034" stop-color="#afff00"/><stop offset="0.1053" stop-color="#ffff00"/><stop offset="0.1178" stop-color="#ff6200"/><stop offset="0.1272" stop-color="#ff1000"/><stop offset="0.1415" stop-color="#ffff00"/><stop offset="0.1435" stop-color="#afff00"/><stop offset="0.1451" stop-color="#5fff14"/><stop offset="0.1468" stop-color="#00fc46"/><stop offset="0.1485" stop-color="#00fe6f"/><stop offset="0.1499" stop-color="#00ff82"/><stop offset="0.1556" stop-color="#00ffc8"/><stop offset="0.1611" stop-color="#00ffff"/><stop offset="0.1761" stop-color="#0066ff"/><stop offset="0.2124" stop-color="#0047ff"/><stop offset="0.2475" stop-color="#005dff"/><stop offset="0.2704" stop-color="#00b2ff"/><stop offset="0.2828" stop-color="#00ffff"/><stop offset="0.2900" stop-color="#00ffc8"/><stop offset="0.2975" stop-color="#00ff82"/><stop offset="0.2993" stop-color="#00fe6f"/><stop offset="0.3026" stop-color="#00fc46"/><stop offset="0.3059" stop-color="#5fff14"/><stop offset="0.3093" stop-color="#afff00"/><stop offset="0.3131" stop-color="#ffff00"/><stop offset="0.3235" stop-color="#ff8000"/><stop offset="0.3340" stop-color="#ff0000"/><stop offset="0.3569" stop-color="#f40000"/><stop offset="0.3766" stop-color="#e90000"/><stop offset="0.3890" stop-color="#b30000"/><stop offset="0.3998" stop-color="#8f0000"/><stop offset="0.4124" stop-color="#b30000"/><stop offset="0.4246" stop-color="#eb0000"/><stop offset="0.4339" stop-color="#ff0000"/><stop offset="0.4572" stop-color="#ff8000"/><stop offset="0.4779" stop-color="#ffff00"/><stop offset="0.4862" stop-color="#afff00"/><stop offset="0.4933" stop-color="#5fff14"/><stop offset="0.5005" stop-color="#00fc46"/><stop offset="0.5076" stop-color="#00fe6f"/><stop offset="0.5104" stop-color="#00ff82"/><stop offset="0.5217" stop-color="#00ffc8"/><stop offset="0.5328" stop-color="#00ffff"/><stop offset="0.5789" stop-color="#0094ff"/><stop offset="0.6130" stop-color="#006fff"/><stop offset="0.6515" stop-color="#0072ff"/><stop offset="0.7007" stop-color="#0038ff"/><stop offset="0.7243" stop-color="#0019ff"/><stop offset="0.7435" stop-color="#000aff"/><stop offset="0.7695" stop-color="#0002ff"/><stop offset="0.7830" stop-color="#0000ff"/><stop offset="0.8097" stop-color="#0000fa"/><stop offset="0.9068" stop-color="#0000f4"/><stop offset="0.9575" stop-color="#0000ec"/><stop offset="0.9939" stop-color="#0000e8"/></linearGradient>
<linearGradient id="h17"><stop offset="0.0061" stop-color="#0000a6"/><stop offset="0.0402" stop-color="#0000cd"/><stop offset="0.0628" stop-color="#0000ff"/><stop offset="0.0824" stop-color="#0080ff"/><stop offset="0.0923" stop-color="#00ffff"/><stop offset="0.0953" stop-color="#00ffc8"/><stop offset="0.0984" stop-color="#00ff82"/><stop offset="0.0992" stop-color="#00fe6f"/><stop offset="0.1009" stop-color="#00fc46"/><stop offset="0.1025" stop-color="#5fff14"/><stop offset="0.1042" stop-color="#afff00"/><stop offset="0.1061" stop-color="#ffff00"/><stop offset="0.1188" stop-color="#ff5800"/><stop offset="0.1280" stop-color="#ff1000"/><stop offset="0.1419" stop-color="#ffff00"/><stop offset="0.1439" stop-color="#afff00"/><stop offset="0.1457" stop-color="#5fff14"/><stop offset="0.1474" stop-color="#00fc46"/><stop offset="0.1492" stop-color="#00fe6f"/><stop offset="0.1506" stop-color="#00ff82"/><stop offset="0.1563" stop-color="#00ffc8"/><stop offset="0.1618" stop-color="#00ffff"/><stop offset="0.1767" stop-color="#0065ff"/><stop offset="0.2129" stop-color="#0045ff"/><stop offset="0.2486" stop-color="#005bff"/><stop offset="0.2718" stop-color="#00b2ff"/><stop offset="0.2843" stop-color="#00ffff"/><stop offset="0.2916" stop-color="#00ffc8"/><stop offset="0.2989" stop-color="#00ff82"/><stop offset="0.3008" stop-color="#00fe6f"/><stop offset="0.3041" stop-color="#00fc46"/><stop offset="0.3074" stop-color="#5fff14"/><stop offset="0.3107" stop-color="#afff00"/><stop offset="0.3145" stop-color="#ffff00"/><stop offset="0.3248" stop-color="#ff8000"/><stop offset="0.3351" stop-color="#ff0000"/><stop offset="0.3582" stop-color="#f40000"/><stop offset="0.3780" stop-color="#e90000"/><stop offset="0.3905" stop-color="#b30000"/><stop offset="0.4014" stop-color="#8f0000"/><stop offset="0.4140" stop-color="#b30000"/><stop offset="0.4262" stop-color="#eb0000"/><stop offset="0.4355" stop-color="#ff0000"/><stop offset="0.4587" stop-color="#ff8000"/><stop offset="0.4791" stop-color="#ffff00"/><stop offset="0.4875" stop-color="#afff00"/><stop offset="0.4947" stop-color="#5fff14"/><stop offset="0.5019" stop-color="#00fc46"/><stop offset="0.5091" stop-color="#00fe6f"/><stop offset="0.5119" stop-color="#00ff82"/><stop offset="0.5230" stop-color="#00ffc8"/><stop offset="0.5339" stop-color="#00ffff"/><stop offset="0.5803" stop-color="#0094ff"/><stop offset="0.6140" stop-color="#0070ff"/><stop offset="0.6517" stop-color="#0073ff"/><stop offset="0.6976" stop-color="#0038ff"/><stop offset="0.7198" stop-color="#0019ff"/><stop offset="0.7381" stop-color="#000aff"/><stop offset="0.7633" stop-color="#0002ff"/><stop offset="0.7760" stop-color="#0000ff"/><stop offset="0.8035" stop-color="#0000fa"/><stop offset="0.9037" stop-color="#0000f3"/><stop offset="0.9565" stop-color="#0000eb"/><stop offset="0.9939" stop-color="#0000e7"/></linearGradient>
<linearGradient id="h18"><stop offset="0.0061" stop-color="#0000a6"/><stop offset="0.0408" stop-color="#0000cd"/><stop offset="0.0634" stop-color="#0000ff"/><stop offset="0.0832" stop-color="#0080ff"/><stop offset="0.0931" stop-color="#00ffff"/><stop offset="0.0962" stop-color="#00ffc8"/><stop offset="0.0993" stop-color="#00ff82"/><stop offset="0.1000" stop-color="#00fe6f"/><stop offset="0.1017" stop-color="#00fc46"/><stop offset="0.1034" stop-color="#5fff14"/><stop offset="0.1050" stop-color="#afff00"/><stop offset="0.1070" stop-color="#ffff00"/><stop offset="0.1197" stop-color="#ff4e00"/><stop offset="0.1288" stop-color="#ff0f00"/><stop offset="0.1424" stop-color="#ffff00"/><stop offset="0.1445" stop-color="#afff00"/><stop offset="0.1463" stop-color="#5fff14"/><stop offset="0.1481" stop-color="#00fc46"/><stop offset="0.1499" stop-color="#00fe6f"/><stop offset="0.1513" stop-color="#00ff82"/><stop offset="0.1570" stop-color="#00ffc8"/><stop offset="0.1625" stop-color="#00ffff"/><stop offset="0.1774" stop-color="#0064ff"/><stop offset="0.2134" stop-color="#0043ff"/><stop offset="0.2497" stop-color="#005aff"/><stop offset="0.2733" stop-color="#00b2ff"/><stop offset="0.2859" stop-color="#00ffff"/><stop offset="0.2931" stop-color="#00ffc8"/><stop offset="0.3004" stop-color="#00ff82"/><stop offset="0.3022" stop-color="#00fe6f"/><stop offset="0.3055" stop-color="#00fc46"/><stop offset="0.3088" stop-color="#5fff14"/><stop offset="0.3121" stop-color="#afff00"/><stop offset="0.3159" stop-color="#ffff00"/><stop offset="0.3261" stop-color="#ff8000"/><stop offset="0.3363" stop-color="#ff0000"/><stop offset="0.3595" stop-color="#f50000"/><stop offset="0.3795" stop-color="#ea0000"/><stop offset="0.3921" stop-color="#b30000"/><stop offset="0.4030" stop-color="#8f0000"/><stop offset="0.4156" stop-color="#b30000"/><stop offset="0.4278" stop-color="#eb0000"/><stop offset="0.4371" stop-color="#ff0000"/><stop offset="0.4601" stop-color="#ff8000"/><stop offset="0.4804" stop-color="#ffff00"/><stop offset="0.4889" stop-color="#afff00"/><stop offset="0.4961" stop-color="#5fff14"/><stop offset="0.5034" stop-color="#00fc46"/><stop offset="0.5106" stop-color="#00fe6f"/><stop offset="0.5133" stop-color="#00ff82"/><stop offset="0.5243" stop-color="#00ffc8"/><stop offset="0.5350" stop-color="#00ffff"/><stop offset="0.5817" stop-color="#0094ff"/><stop offset="0.6151" stop-color="#0070ff"/><stop offset="0.6520" stop-color="#0074ff"/><stop offset="0.6952" stop-color="#0038ff"/><stop offset="0.7161" stop-color="#0019ff"/><stop offset="0.7337" stop-color="#000aff"/><stop offset="0.7582" stop-color="#0002ff"/><stop offset="0.7701" stop-color="#0000ff"/><stop offset="0.7982" stop-color="#0000fa"/><stop offset="0.9006" stop-color="#0000f2"/><stop offset="0.9555" stop-color="#0000ea"/><stop offset="0.9939" stop-color="#0000e6"/></linearGradient>
<linearGradient id="h19"><stop offset="0.0061" stop-color="#0000a6"/><stop offset="0.0414" stop-color="#0000cd"/><stop offset="0.0641" stop-color="#0000ff"/><stop offset="0.0841" stop-color="#0080ff"/><stop offset="0.0939" stop-color="#00ffff"/><stop offset="0.0970" stop-color="#00ffc8"/><stop offset="0.1001" stop-color="#00ff82"/><stop offset="0.1009" stop-color="#00fe6f"/><stop offset="0.1025" stop-color="#00fc46"/><stop offset="0.1042" stop-color="#5fff14"/><stop offset="0.1058" stop-color="#afff00"/><stop offset="0.1078" stop-color="#ffff00"/><stop offset="0.1206" stop-color="#ff4700"/><stop offset="0.1298" stop-color="#ff1400"/><stop offset="0.1430" stop-color="#ffff00"/><stop offset="0.1451" stop-color="#afff00"/><stop offset="0.1470" stop-color="#5fff14"/><stop offset="0.1488" stop-color="#00fc46"/><stop offset="0.1507" stop-color="#00fe6f"/><stop offset="0.1521" stop-color="#00ff82"/><stop offset="0.1578" stop-color="#00ffc8"/><stop offset="0.1633" stop-color="#00ffff"/><stop offset="0.1782" stop-color="#0063ff"/><stop offset="0.2139" stop-color="#0041ff"/><stop offset="0.2509" stop-color="#0059ff"/><stop offset="0.2747" stop-color="#00b2ff"/><stop offset="0.2874" stop-color="#00ffff"/><stop offset="0.2946" stop-color="#00ffc8"/><stop offset="0.3018" stop-color="#00ff82"/><stop offset="0.3036" stop-color="#00fe6f"/><stop offset="0.3069" stop-color="#00fc46"/><stop offset="0.3102" stop-color="#5fff14"/><stop offset="0.3135" stop-color="#afff00"/><stop offset="0.3173" stop-color="#ffff00"/><stop offset="0.3274" stop-color="#ff8000"/><stop offset="0.3374" stop-color="#ff0000"/><stop offset="0.3608" stop-color="#f50000"/><stop offset="0.3810" stop-color="#ea0000"/><stop offset="0.3937" stop-color="#b30000"/><stop offset="0.4046" stop-color="#8f0000"/><stop offset="0.4172" stop-color="#b30000"/><stop offset="0.4295" stop-color="#eb0000"/><stop offset="0.4386" stop-color="#ff0000"/><stop offset="0.4616" stop-color="#ff8000"/><stop offset="0.4816" stop-color="#ffff00"/><stop offset="0.4901" stop-color="#afff00"/><stop offset="0.4974" stop-color="#5fff14"/><stop offset="0.5047" stop-color="#00fc46"/><stop offset="0.5120" stop-color="#00fe6f"/><stop offset="0.5147" stop-color="#00ff82"/><stop offset="0.5255" stop-color="#00ffc8"/><stop offset="0.5361" stop-color="#00ffff"/><stop offset="0.5829" stop-color="#0094ff"/><stop offset="0.6160" stop-color="#0070ff"/><stop offset="0.6522" stop-color="#0074ff"/><stop offset="0.6935" stop-color="#0038ff"/><stop offset="0.7134" stop-color="#0019ff"/><stop offset="0.7304" stop-color="#000aff"/><stop offset="0.7542" stop-color="#0002ff"/><stop offset="0.7653" stop-color="#0000ff"/><stop offset="0.7938" stop-color="#0000fa"/><stop offset="0.8973" stop-color="#0000f1"/><stop offset="0.9543" stop-color="#0000e9"/><stop offset="0.9939" stop-color="#0000e4"/></linearGradient>
<linearGradient id="h20"><stop offset="0.0061" stop-color="#0000a5"/><stop offset="0.0420" stop-color="#0000cd"/><stop offset="0.0647" stop-color="#0000ff"/><stop offset="0.0849" stop-color="#0080ff"/><stop offset="0.0947" stop-color="#00ffff"/><stop offset="0.0978" stop-color="#00ffc8"/><stop offset="0.1009" stop-color="#00ff82"/><stop offset="0.1017" stop-color="#00fe6f"/><stop offset="0.1033" stop-color="#00fc46"/><stop offset="0.1050" stop-color="#5fff14"/><stop offset="0.1066" stop-color="#afff00"/><stop offset="0.1086" stop-color="#ffff00"/><stop offset="0.1215" stop-color="#ff3e00"/><stop offset="0.1309" stop-color="#ff2400"/><stop offset="0.1438" stop-color="#ffff00"/><stop offset="0.1459" stop-color="#afff00"/><stop offset="0.1478" stop-color="#5fff14"/><stop offset="0.1497" stop-color="#00fc46"/><stop offset="0.1516" stop-color="#00fe6f"/><stop offset="0.1530" stop-color="#00ff82"/><stop offset="0.1587" stop-color="#00ffc8"/><stop offset="0.1642" stop-color="#00ffff"/><stop offset="0.1791" stop-color="#0062ff"/><stop offset="0.2145" stop-color="#003fff"/><stop offset="0.2520" stop-color="#0058ff"/><stop offset="0.2762" stop-color="#00b2ff"/><stop offset="0.2890" stop-color="#00ffff"/><stop offset="0.2961" stop-color="#00ffc8"/><stop offset="0.3033" stop-color="#00ff82"/><stop offset="0.3051" stop-color="#00fe6f"/><stop offset="0.3083" stop-color="#00fc46"/><stop offset="0.3116" stop-color="#5fff14"/><stop offset="0.3149" stop-color="#afff00"/><stop offset="0.3188" stop-color="#ffff00"/><stop offset="0.3287" stop-color="#ff8000"/><stop offset="0.3386" stop-color="#ff0000"/><stop offset="0.3621" stop-color="#f50000"/><stop offset="0.3825" stop-color="#ea0000"/><stop offset="0.3953" stop-color="#b30000"/><stop offset="0.4062" stop-color="#8f0000"/><stop offset="0.4189" stop-color="#b30000"/><stop offset="0.4311" stop-color="#eb0000"/><stop offset="0.4402" stop-color="#ff0000"/><stop offset="0.4631" stop-color="#ff8000"/><stop offset="0.4829" stop-color="#ffff00"/><stop offset="0.4914" stop-color="#afff00"/><stop offset="0.4987" stop-color="#5fff14"/><stop offset="0.5059" stop-color="#00fc46"/><stop offset="0.5132" stop-color="#00fe6f"/><stop offset="0.5159" stop-color="#00ff82"/><stop offset="0.5266" stop-color="#00ffc8"/><stop offset="0.5371" stop-color="#00ffff"/><stop offset="0.5840" stop-color="#0094ff"/><stop offset="0.6170" stop-color="#0070ff"/><stop offset="0.6525" stop-color="#0075ff"/><stop offset="0.6924" stop-color="#0038ff"/><stop offset="0.7117" stop-color="#0019ff"/><stop offset="0.7285" stop-color="#000aff"/><stop offset="0.7517" stop-color="#0002ff"/><stop offset="0.7619" stop-color="#0000ff"/><stop offset="0.7905" stop-color="#0000f9"/><stop offset="0.8939" stop-color="#0000f1"/><stop offset="0.9531" stop-color="#0000e7"/><stop offset="0.9939" stop-color="#0000e2"/></linearGradient>
<linearGradient id="h21"><stop offset="0.0061" stop-color="#0000a5"/><stop offset="0.0426" stop-color="#0000cd"/><stop offset="0.0654" stop-color="#0000ff"/><stop offset="0.0856" stop-color="#0080ff"/><stop offset="0.0955" stop-color="#00ffff"/><stop offset="0.0986" stop-color="#00ffc8"/><stop offset="0.1017" stop-color="#00ff82"/><stop offset="0.1025" stop-color="#00fe6f"/><stop offset="0.1041" stop-color="#00fc46"/><stop offset="0.1058" stop-color="#5fff14"/><stop offset="0.1074" stop-color="#afff00"/><stop offset="0.1094" stop-color="#ffff00"/><stop offset="0.1224" stop-color="#ff3500"/><stop offset="0.1323" stop-color="#ff3c00"/><stop offset="0.1447" stop-color="#ffff00"/><stop offset="0.1469" stop-color="#afff00"/><stop offset="0.1488" stop-color="#5fff14"/><stop offset="0.1506" stop-color="#00fc46"/><stop offset="0.1525" stop-color="#00fe6f"/><stop offset="0.1539" stop-color="#00ff82"/><stop offset="0.1596" stop-color="#00ffc8"/><stop offset="0.1652" stop-color="#00ffff"/><stop offset="0.1801" stop-color="#0061ff"/><stop offset="0.2151" stop-color="#003dff"/><stop offset="0.2532" stop-color="#0056ff"/><stop offset="0.2776" stop-color="#00b2ff"/><stop offset="0.2906" stop-color="#00ffff"/><stop offset="0.2976" stop-color="#00ffc8"/><stop offset="0.3047" stop-color="#00ff82"/><stop offset="0.3065" stop-color="#00fe6f"/><stop offset="0.3098" stop-color="#00fc46"/><stop offset="0.3130" stop-color="#5fff14"/><stop offset="0.3163" stop-color="#afff00"/><stop offset="0.3202" stop-color="#ffff00"/><stop offset="0.3300" stop-color="#ff8000"/><stop offset="0.3399" stop-color="#ff0000"/><stop offset="0.3635" stop-color="#f50000"/><stop offset="0.3840" stop-color="#eb0000"/><stop offset="0.3970" stop-color="#b30000"/><stop offset="0.4078" stop-color="#8f0000"/><stop offset="0.4205" stop-color="#b30000"/><stop offset="0.4327" stop-color="#eb0000"/><stop offset="0.4418" stop-color="#ff0000"/><stop offset="0.4646" stop-color="#ff8000"/><stop offset="0.4841" stop-color="#ffff00"/><stop offset="0.4926" stop-color="#afff00"/><stop offset="0.4998" stop-color="#5fff14"/><stop offset="0.5071" stop-color="#00fc46"/><stop offset="0.5143" stop-color="#00fe6f"/><stop offset="0.5170" stop-color="#00ff82"/><stop offset="0.5277" stop-color="#00ffc8"/><stop offset="0.5382" stop-color="#00ffff"/><stop offset="0.5850" stop-color="#0094ff"/><stop offset="0.6180" stop-color="#0070ff"/><stop offset="0.6527" stop-color="#0075ff"/><stop offset="0.6922" stop-color="#0038ff"/><stop offset="0.7111" stop-color="#0019ff"/><stop offset="0.7279" stop-color="#000aff"/><stop offset="0.7505" stop-color="#0002ff"/><stop offset="0.7598" stop-color="#0000ff"/><stop offset="0.7882" stop-color="#0000f9"/><stop offset="0.8904" stop-color="#0000f0"/><stop offset="0.9518" stop-color="#0000e6"/><stop offset="0.9939" stop-color="#0000e1"/></linearGradient>
<linearGradient id="h22"><stop offset="0.0061" stop-color="#0000a4"/><stop offset="0.0431" stop-color="#0000cd"/><stop offset="0.0660" stop-color="#0000ff"/><stop offset="0.0864" stop-color="#0080ff"/><stop offset="0.0963" stop-color="#00ffff"/><stop offset="0.0994" stop-color="#00ffc8"/><stop offset="0.1025" stop-color="#00ff82"/><stop offset="0.1033" stop-color="#00fe6f"/><stop offset="0.1049" stop-color="#00fc46"/><stop offset="0.1066" stop-color="#5fff14"/><stop offset="0.1083" stop-color="#afff00"/><stop offset="0.1102" stop-color="#ffff00"/><stop offset="0.1232" stop-color="#ff2d00"/><stop offset="0.1338" stop-color="#ff5600"/><stop offset="0.1458" stop-color="#ffff00"/><stop offset="0.1479" stop-color="#afff00"/><stop offset="0.1498" stop-color="#5fff14"/><stop offset="0.1517" stop-color="#00fc46"/><stop offset="0.1536" stop-color="#00fe6f"/><stop offset="0.1550" stop-color="#00ff82"/><stop offset="0.1607" stop-color="#00ffc8"/><stop offset="0.1663" stop-color="#00ffff"/><stop offset="0.1811" stop-color="#0060ff"/><stop offset="0.2158" stop-color="#003bff"/><stop offset="0.2545" stop-color="#0055ff"/><stop offset="0.2791" stop-color="#00b2ff"/><stop offset="0.2921" stop-color="#00ffff"/><stop offset="0.2991" stop-color="#00ffc8"/><stop offset="0.3061" stop-color="#00ff82"/><stop offset="0.3079" stop-color="#00fe6f"/><stop offset="0.3112" stop-color="#00fc46"/><stop offset="0.3145" stop-color="#5fff14"/><stop offset="0.3177" stop-color="#afff00"/><stop offset="0.3216" stop-color="#ffff00"/><stop offset="0.3314" stop-color="#ff8000"/><stop offset="0.3412" stop-color="#ff0000"/><stop offset="0.3648" stop-color="#f50000"/><stop offset="0.3855" stop-color="#eb0000"/><stop offset="0.3986" stop-color="#b30000"/><stop offset="0.4095" stop-color="#8f0000"/><stop offset="0.4222" stop-color="#b30000"/><stop offset="0.4343" stop-color="#eb0000"/><stop offset="0.4434" stop-color="#ff0000"/><stop offset="0.4661" stop-color="#ff8000"/><stop offset="0.4854" stop-color="#ffff00"/><stop offset="0.4938" stop-color="#afff00"/><stop offset="0.5010" stop-color="#5fff14"/><stop offset="0.5082" stop-color="#00fc46"/><stop offset="0.5154" stop-color="#00fe6f"/><stop offset="0.5180" stop-color="#00ff82"/><stop offset="0.5287" stop-color="#00ffc8"/><stop offset="0.5392" stop-color="#00ffff"/><stop offset="0.5859" stop-color="#0094ff"/><stop offset="0.6189" stop-color="#0070ff"/><stop offset="0.6530" stop-color="#0076ff"/><stop offset="0.6922" stop-color="#0038ff"/><stop offset="0.7109" stop-color="#0019ff"/><stop offset="0.7277" stop-color="#000aff"/><stop offset="0.7499" stop-color="#0002ff"/><stop offset="0.7582" stop-color="#0000ff"/><stop offset="0.7864" stop-color="#0000f9"/><stop offset="0.8866" stop-color="#0000ef"/><stop offset="0.9498" stop-color="#0000e4"/><stop offset="0.9939" stop-color="#0000df"/></linearGradient>
<linearGradient id="h23"><stop offset="0.0061" stop-color="#0000a4"/><stop offset="0.0437" stop-color="#0000cd"/><stop offset="0.0667" stop-color="#0000ff"/><stop offset="0.0872" stop-color="#0080ff"/><stop offset="0.0971" stop-color="#00ffff"/><stop offset="0.1002" stop-color="#00ffc8"/><stop offset="0.1033" stop-color="#00ff82"/><stop offset="0.1041" stop-color="#00fe6f"/><stop offset="0.1057" stop-color="#00fc46"/><stop offset="0.1074" stop-color="#5fff14"/><stop offset="0.1091" stop-color="#afff00"/><stop offset="0.1110" stop-color="#ffff00"/><stop offset="0.1241" stop-color="#ff2700"/><stop offset="0.1353" stop-color="#ff6c00"/><stop offset="0.1469" stop-color="#ffff00"/><stop offset="0.1491" stop-color="#afff00"/><stop offset="0.1510" stop-color="#5fff14"/><stop offset="0.1528" stop-color="#00fc46"/><stop offset="0.1547" stop-color="#00fe6f"/><stop offset="0.1561" stop-color="#00ff82"/><stop offset="0.1618" stop-color="#00ffc8"/><stop offset="0.1674" stop-color="#00ffff"/><stop offset="0.1822" stop-color="#005fff"/><stop offset="0.2165" stop-color="#0039ff"/><stop offset="0.2557" stop-color="#0054ff"/><stop offset="0.2805" stop-color="#00b2ff"/><stop offset="0.2936" stop-color="#00ffff"/><stop offset="0.3005" stop-color="#00ffc8"/><stop offset="0.3076" stop-color="#00ff82"/><stop offset="0.3093" stop-color="#00fe6f"/><stop offset="0.3126" stop-color="#00fc46"/><stop offset="0.3159" stop-color="#5fff14"/><stop offset="0.3191" stop-color="#afff00"/><stop offset="0.3230" stop-color="#ffff00"/><stop offset="0.3327" stop-color="#ff8000"/><stop offset="0.3425" stop-color="#ff0000"/><stop offset="0.3662" stop-color="#f50000"/><stop offset="0.3871" stop-color="#eb0000"/><stop offset="0.4003" stop-color="#b30000"/><stop offset="0.4112" stop-color="#8f0000"/><stop offset="0.4239" stop-color="#b30000"/><stop offset="0.4359" stop-color="#eb0000"/><stop offset="0.4450" stop-color="#ff0000"/><stop offset="0.4677" stop-color="#ff8000"/><stop offset="0.4866" stop-color="#ffff00"/><stop offset="0.4949" stop-color="#afff00"/><stop offset="0.5021" stop-color="#5fff14"/><stop offset="0.5092" stop-color="#00fc46"/><stop offset="0.5163" stop-color="#00fe6f"/><stop offset="0.5190" stop-color="#00ff82"/><stop offset="0.5297" stop-color="#00ffc8"/><stop offset="0.5402" stop-color="#00ffff"/><stop offset="0.5867" stop-color="#0094ff"/><stop offset="0.6199" stop-color="#0070ff"/><stop offset="0.6532" stop-color="#0076ff"/><stop offset="0.6922" stop-color="#0038ff"/><stop offset="0.7107" stop-color="#0019ff"/><stop offset="0.7276" stop-color="#000aff"/><stop offset="0.7493" stop-color="#0002ff"/><stop offset="0.7567" stop-color="#0000ff"/><stop offset="0.7847" stop-color="#0000f8"/><stop offset="0.8823" stop-color="#0000ee"/><stop offset="0.9470" stop-color="#0000e3"/><stop offset="0.9939" stop-color="#0000dd"/></linearGradient>
<linearGradient id="h24"><stop offset="0.0061" stop-color="#0000a3"/><stop offset="0.0442" stop-color="#0000cd"/><stop offset="0.0673" stop-color="#0000ff"/><stop offset="0.0880" stop-color="#0080ff"/><stop offset="0.0979" stop-color="#00ffff"/><stop offset="0.1010" stop-color="#00ffc8"/><stop offset="0.1041" stop-color="#00ff82"/><stop offset="0.1049" stop-color="#00fe6f"/><stop offset="0.1065" stop-color="#00fc46"/><stop offset="0.1082" stop-color="#5fff14"/><stop offset="0.1099" stop-color="#afff00"/><stop offset="0.1118" stop-color="#ffff00"/><stop offset="0.1249" stop-color="#ff2400"/><stop offset="0.1368" stop-color="#ff7900"/><stop offset="0.1482" stop-color="#ffff00"/><stop offset="0.1504" stop-color="#afff00"/><stop offset="0.1522" stop-color="#5fff14"/><stop offset="0.1540" stop-color="#00fc46"/><stop offset="0.1559" stop-color="#00fe6f"/><stop offset="0.1573" stop-color="#00ff82"/><stop offset="0.1630" stop-color="#00ffc8"/><stop offset="0.1685" stop-color="#00ffff"/><stop offset="0.1833" stop-color="#005eff"/><stop offset="0.2174" stop-color="#0037ff"/><stop offset="0.2570" stop-color="#0053ff"/><stop offset="0.2820" stop-color="#00b2ff"/><stop offset="0.2952" stop-color="#00ffff"/><stop offset="0.3020" stop-color="#00ffc8"/><stop offset="0.3090" stop-color="#00ff82"/><stop offset="0.3108" stop-color="#00fe6f"/><stop offset="0.3140" stop-color="#00fc46"/><stop offset="0.3173" stop-color="#5fff14"/><stop offset="0.3205" stop-color="#afff00"/><stop offset="0.3243" stop-color="#ffff00"/><stop offset="0.3341" stop-color="#ff8000"/><stop offset="0.3438" stop-color="#ff0000"/><stop offset="0.3676" stop-color="#f50000"/><stop offset="0.3887" stop-color="#ec0000"/><stop offset="0.4020" stop-color="#b30000"/><stop offset="0.4128" stop-color="#8f0000"/><stop offset="0.4255" stop-color="#b30000"/><stop offset="0.4376" stop-color="#eb0000"/><stop offset="0.4466" stop-color="#ff0000"/><stop offset="0.4693" stop-color="#ff8000"/><stop offset="0.4878" stop-color="#ffff00"/><stop offset="0.4960" stop-color="#afff00"/><stop offset="0.5031" stop-color="#5fff14"/><stop offset="0.5102" stop-color="#00fc46"/><stop offset="0.5173" stop-color="#00fe6f"/><stop offset="0.5199" stop-color="#00ff82"/><stop offset="0.5307" stop-color="#00ffc8"/><stop offset="0.5412" stop-color="#00ffff"/><stop offset="0.5875" stop-color="#0094ff"/><stop offset="0.6209" stop-color="#0070ff"/><stop offset="0.6535" stop-color="#0076ff"/><stop offset="0.6922" stop-color="#0038ff"/><stop offset="0.7106" stop-color="#0019ff"/><stop offset="0.7274" stop-color="#000aff"/><stop offset="0.7487" stop-color="#0002ff"/><stop offset="0.7552" stop-color="#0000ff"/><stop offset="0.7831" stop-color="#0000f8"/><stop offset="0.8777" stop-color="#0000ed"/><stop offset="0.9437" stop-color="#0000e1"/><stop offset="0.9939" stop-color="#0000db"/></linearGradient>
<linearGradient id="h25"><stop offset="0.0061" stop-color="#0000a3"/><stop offset="0.0447" stop-color="#0000cd"/><stop offset="0.0679" stop-color="#0000ff"/><stop offset="0.0888" stop-color="#0080ff"/><stop offset="0.0987" stop-color="#00ffff"/><stop offset="0.1018" stop-color="#00ffc8"/><stop offset="0.1049" stop-color="#00ff82"/><stop offset="0.1057" stop-color="#00fe6f"/><stop offset="0.1073" stop-color="#00fc46"/><stop offset="0.1090" stop-color="#5fff14"/><stop offset="0.1107" stop-color="#afff00"/><stop offset="0.1126" stop-color="#ffff00"/><stop offset="0.1257" stop-color="#ff2600"/><stop offset="0.1382" stop-color="#ff7800"/><stop offset="0.1497" stop-color="#ffff00"/><stop offset="0.1518" stop-color="#afff00"/><stop offset="0.1536" stop-color="#5fff14"/><stop offset="0.1554" stop-color="#00fc46"/><stop offset="0.1572" stop-color="#00fe6f"/><stop offset="0.1586" stop-color="#00ff82"/><stop offset="0.1642" stop-color="#00ffc8"/><stop offset="0.1697" stop-color="#00ffff"/><stop offset="0.1844" stop-color="#005dff"/><stop offset="0.2183" stop-color="#0035ff"/><stop offset="0.2584" stop-color="#0052ff"/><stop offset="0.2834" stop-color="#00b2ff"/><stop offset="0.2967" stop-color="#00ffff"/><stop offset="0.3035" stop-color="#00ffc8"/><stop offset="0.3105" stop-color="#00ff82"/><stop offset="0.3122" stop-color="#00fe6f"/><stop offset="0.3154" stop-color="#00fc46"/><stop offset="0.3187" stop-color="#5fff14"/><stop offset="0.3219" stop-color="#afff00"/><stop offset="0.3257" stop-color="#ffff00"/><stop offset="0.3355" stop-color="#ff8000"/><stop offset="0.3452" stop-color="#ff0000"/><stop offset="0.3691" stop-color="#f50000"/><stop offset="0.3903" stop-color="#ec0000"/><stop offset="0.4036" stop-color="#b30000"/><stop offset="0.4145" stop-color="#8f0000"/><stop offset="0.4272" stop-color="#b30000"/><stop offset="0.4392" stop-color="#eb0000"/><stop offset="0.4481" stop-color="#ff0000"/><stop offset="0.4709" stop-color="#ff8000"/><stop offset="0.4890" stop-color="#ffff00"/><stop offset="0.4971" stop-color="#afff00"/><stop offset="0.5041" stop-color="#5fff14"/><stop offset="0.5111" stop-color="#00fc46"/><stop offset="0.5181" stop-color="#00fe6f"/><stop offset="0.5208" stop-color="#00ff82"/><stop offset="0.5316" stop-color="#00ffc8"/><stop offset="0.5422" stop-color="#00ffff"/><stop offset="0.5882" stop-color="#0094ff"/><stop offset="0.6219" stop-color="#0070ff"/><stop offset="0.6537" stop-color="#0077ff"/><stop offset="0.6922" stop-color="#0038ff"/><stop offset="0.7104" stop-color="#0019ff"/><stop offset="0.7273" stop-color="#000aff"/><stop offset="0.7482" stop-color="#0002ff"/><stop offset="0.7538" stop-color="#0000ff"/><stop offset="0.7816" stop-color="#0000f8"/><stop offset="0.8728" stop-color="#0000ec"/><stop offset="0.9397" stop-color="#0000df"/><stop offset="0.9939" stop-color="#0000d9"/></linearGradient>
<linearGradient id="h26"><stop offset="0.0061" stop-color="#0000a2"/><stop offset="0.0452" stop-color="#0000cd"/><stop offset="0.0686" stop-color="#0000ff"/><stop offset="0.0897" stop-color="#0080ff"/><stop offset="0.0995" stop-color="#00ffff"/><stop offset="0.1026" stop-color="#00ffc8"/><stop offset="0.1057" stop-color="#00ff82"/><stop offset="0.1065" stop-color="#00fe6f"/><stop offset="0.1082" stop-color="#00fc46"/><stop offset="0.1098" stop-color="#5fff14"/><stop offset="0.1115" stop-color="#afff00"/><stop offset="0.1135" stop-color="#ffff00"/><stop offset="0.1265" stop-color="#ff3400"/><stop offset="0.1398" stop-color="#ff6900"/><stop offset="0.1517" stop-color="#ffff00"/><stop offset="0.1537" stop-color="#afff00"/><stop offset="0.1554" stop-color="#5fff14"/><stop offset="0.1571" stop-color="#00fc46"/><stop offset="0.1588" stop-color="#00fe6f"/><stop offset="0.1602" stop-color="#00ff82"/><stop offset="0.1656" stop-color="#00ffc8"/><stop offset="0.1710" stop-color="#00ffff"/><stop offset="0.1857" stop-color="#005cff"/><stop offset="0.2193" stop-color="#0033ff"/><stop offset="0.2597" stop-color="#0051ff"/><stop offset="0.2849" stop-color="#00b2ff"/><stop offset="0.2982" stop-color="#00ffff"/><stop offset="0.3050" stop-color="#00ffc8"/><stop offset="0.3119" stop-color="#00ff82"/><stop offset="0.3136" stop-color="#00fe6f"/><stop offset="0.3169" stop-color="#00fc46"/><stop offset="0.3201" stop-color="#5fff14"/><stop offset="0.3233" stop-color="#afff00"/><stop offset="0.3271" stop-color="#ffff00"/><stop offset="0.3369" stop-color="#ff8000"/><stop offset="0.3467" stop-color="#ff0000"/><stop offset="0.3705" stop-color="#f50000"/><stop offset="0.3919" stop-color="#ed0000"/><stop offset="0.4053" stop-color="#b30000"/><stop offset="0.4162" stop-color="#900000"/><stop offset="0.4289" stop-color="#b30000"/><stop offset="0.4408" stop-color="#eb0000"/><stop offset="0.4497" stop-color="#ff0000"/><stop offset="0.4725" stop-color="#ff8000"/><stop offset="0.4902" stop-color="#ffff00"/><stop offset="0.4982" stop-color="#afff00"/><stop offset="0.5051" stop-color="#5fff14"/><stop offset="0.5120" stop-color="#00fc46"/><stop offset="0.5189" stop-color="#00fe6f"/><stop offset="0.5217" stop-color="#00ff82"/><stop offset="0.5325" stop-color="#00ffc8"/><stop offset="0.5432" stop-color="#00ffff"/><stop offset="0.5889" stop-color="#0094ff"/><stop offset="0.6228" stop-color="#0070ff"/><stop offset="0.6539" stop-color="#0077ff"/><stop offset="0.6922" stop-color="#0038ff"/><stop offset="0.7102" stop-color="#0019ff"/><stop offset="0.7272" stop-color="#000aff"/><stop offset="0.7478" stop-color="#0001ff"/><stop offset="0.7526" stop-color="#0000ff"/><stop offset="0.7802" stop-color="#0000f7"/><stop offset="0.8676" stop-color="#0000eb"/><stop offset="0.9352" stop-color="#0000dd"/><stop offset="0.9939" stop-color="#0000d7"/></linearGradient>
<linearGradient id="h27"><stop offset="0.0061" stop-color="#0000a2"/><stop offset="0.0458" stop-color="#0000cd"/><stop offset="0.0692" stop-color="#0000ff"/><stop offset="0.0905" stop-color="#0080ff"/><stop offset="0.1004" stop-color="#00ffff"/><stop offset="0.1034" stop-color="#00ffc8"/><stop offset="0.1066" stop-color="#00ff82"/><stop offset="0.1073" stop-color="#00fe6f"/><stop offset="0.1090" stop-color="#00fc46"/><stop offset="0.1107" stop-color="#5fff14"/><stop offset="0.1123" stop-color="#afff00"/><stop offset="0.1143" stop-color="#ffff00"/><stop offset="0.1272" stop-color="#ff4a00"/><stop offset="0.1415" stop-color="#ff5300"/><stop offset="0.1542" stop-color="#ffff00"/><stop offset="0.1560" stop-color="#afff00"/><stop offset="0.1576" stop-color="#5fff14"/><stop offset="0.1591" stop-color="#00fc46"/><stop offset="0.1607" stop-color="#00fe6f"/><stop offset="0.1620" stop-color="#00ff82"/><stop offset="0.1672" stop-color="#00ffc8"/><stop offset="0.1723" stop-color="#00ffff"/><stop offset="0.1870" stop-color="#005bff"/><stop offset="0.2204" stop-color="#0031ff"/><stop offset="0.2611" stop-color="#0050ff"/><stop offset="0.2864" stop-color="#00b2ff"/><stop offset="0.2998" stop-color="#00ffff"/><stop offset="0.3065" stop-color="#00ffc8"/><stop offset="0.3133" stop-color="#00ff82"/><stop offset="0.3150" stop-color="#00fe6f"/><stop offset="0.3183" stop-color="#00fc46"/><stop offset="0.3215" stop-color="#5fff14"/><stop offset="0.3247" stop-color="#afff00"/><stop offset="0.3285" stop-color="#ffff00"/><stop offset="0.3384" stop-color="#ff8000"/><stop offset="0.3481" stop-color="#ff0000"/><stop offset="0.3720" stop-color="#f50000"/><stop offset="0.3935" stop-color="#ed0000"/><stop offset="0.4071" stop-color="#b30000"/><stop offset="0.4179" stop-color="#900000"/><stop offset="0.4306" stop-color="#b30000"/><stop offset="0.4425" stop-color="#eb0000"/><stop offset="0.4513" stop-color="#ff0000"/><stop offset="0.4742" stop-color="#ff8000"/><stop offset="0.4914" stop-color="#ffff00"/><stop offset="0.4993" stop-color="#afff00"/><stop offset="0.5061" stop-color="#5fff14"/><stop offset="0.5129" stop-color="#00fc46"/><stop offset="0.5197" stop-color="#00fe6f"/><stop offset="0.5224" stop-color="#00ff82"/><stop offset="0.5334" stop-color="#00ffc8"/><stop offset="0.5442" stop-color="#00ffff"/><stop offset="0.5896" stop-color="#0094ff"/><stop offset="0.6238" stop-color="#0070ff"/><stop offset="0.6542" stop-color="#0077ff"/><stop offset="0.6922" stop-color="#0038ff"/><stop offset="0.7101" stop-color="#0019ff"/><stop offset="0.7271" stop-color="#000aff"/><stop offset="0.7473" stop-color="#0001ff"/><stop offset="0.7514" stop-color="#0000ff"/><stop offset="0.7789" stop-color="#0000f7"/><stop offset="0.8623" stop-color="#0000ea"/><stop offset="0.9304" stop-color="#0000db"/><stop offset="0.9939" stop-color="#0000d4"/></linearGradient>
<linearGradient id="h28"><stop offset="0.0061" stop-color="#0000a1"/><stop offset="0.0463" stop-color="#0000cd"/><stop offset="0.0699" stop-color="#0000ff"/><stop offset="0.0913" stop-color="#0080ff"/><stop offset="0.1012" stop-color="#00ffff"/><stop offset="0.1043" stop-color="#00ffc8"/><stop offset="0.1074" stop-color="#00ff82"/><stop offset="0.1082" stop-color="#00fe6f"/><stop offset="0.1098" stop-color="#00fc46"/><stop offset="0.1115" stop-color="#5fff14"/><stop offset="0.1132" stop-color="#afff00"/><stop offset="0.1151" stop-color="#ffff00"/><stop offset="0.1280" stop-color="#ff6200"/><stop offset="0.1431" stop-color="#ff3900"/><stop offset="0.1567" stop-color="#ffff00"/><stop offset="0.1583" stop-color="#afff00"/><stop offset="0.1598" stop-color="#5fff14"/><stop offset="0.1612" stop-color="#00fc46"/><stop offset="0.1626" stop-color="#00fe6f"/><stop offset="0.1639" stop-color="#00ff82"/><stop offset="0.1688" stop-color="#00ffc8"/><stop offset="0.1737" stop-color="#00ffff"/><stop offset="0.1884" stop-color="#005aff"/><stop offset="0.2215" stop-color="#0030ff"/><stop offset="0.2625" stop-color="#004fff"/><stop offset="0.2878" stop-color="#00b2ff"/><stop offset="0.3013" stop-color="#00ffff"/><stop offset="0.3080" stop-color="#00ffc8"/><stop offset="0.3148" stop-color="#00ff82"/><stop offset="0.3165" stop-color="#00fe6f"/><stop offset="0.3197" stop-color="#00fc46"/><stop offset="0.3229" stop-color="#5fff14"/><stop offset="0.3261" stop-color="#afff00"/><stop offset="0.3299" stop-color="#ffff00"/><stop offset="0.3398" stop-color="#ff8000"/><stop offset="0.3496" stop-color="#ff0000"/><stop offset="0.3735" stop-color="#f50000"/><stop offset="0.3951" stop-color="#ed0000"/><stop offset="0.4088" stop-color="#b30000"/><stop offset="0.4197" stop-color="#900000"/><stop offset="0.4323" stop-color="#b40000"/><stop offset="0.4441" stop-color="#eb0000"/><stop offset="0.4529" stop-color="#ff0000"/><stop offset="0.4758" stop-color="#ff8000"/><stop offset="0.4926" stop-color="#ffff00"/><stop offset="0.5004" stop-color="#afff00"/><stop offset="0.5071" stop-color="#5fff14"/><stop offset="0.5138" stop-color="#00fc46"/><stop offset="0.5204" stop-color="#00fe6f"/><stop offset="0.5232" stop-color="#00ff82"/><stop offset="0.5343" stop-color="#00ffc8"/><stop offset="0.5451" stop-color="#00ffff"/><stop offset="0.5902" stop-color="#0094ff"/><stop offset="0.6248" stop-color="#0070ff"/><stop offset="0.6544" stop-color="#0077ff"/><stop offset="0.6922" stop-color="#0038ff"/><stop offset="0.7099" stop-color="#0019ff"/><stop offset="0.7271" stop-color="#000aff"/><stop offset="0.7470" stop-color="#0001ff"/><stop offset="0.7503" stop-color="#0000ff"/><stop offset="0.7777" stop-color="#0000f6"/><stop offset="0.8568" stop-color="#0000e8"/><stop offset="0.9252" stop-color="#0000d8"/><stop offset="0.9939" stop-color="#0000d2"/></linearGradient>
<linearGradient id="h29"><stop offset="0.0061" stop-color="#0000a1"/><stop offset="0.0468" stop-color="#0000cd"/><stop offset="0.0705" stop-color="#0000ff"/><stop offset="0.0921" stop-color="#0080ff"/><stop offset="0.1020" stop-color="#00ffff"/><stop offset="0.1051" stop-color="#00ffc8"/><stop offset="0.1082" stop-color="#00ff82"/><stop offset="0.1090" stop-color="#00fe6f"/><stop offset="0.1107" stop-color="#00fc46"/><stop offset="0.1123" stop-color="#5fff14"/><stop offset="0.1140" stop-color="#afff00"/><stop offset="0.1159" stop-color="#ffff00"/><stop offset="0.1287" stop-color="#ff7800"/><stop offset="0.1447" stop-color="#ff2200"/><stop offset="0.1589" stop-color="#ffff00"/><stop offset="0.1605" stop-color="#afff00"/><stop offset="0.1618" stop-color="#5fff14"/><stop offset="0.1631" stop-color="#00fc46"/><stop offset="0.1644" stop-color="#00fe6f"/><stop offset="0.1656" stop-color="#00ff82"/><stop offset="0.1703" stop-color="#00ffc8"/><stop offset="0.1750" stop-color="#00ffff"/><stop offset="0.1896" stop-color="#0059ff"/><stop offset="0.2227" stop-color="#002eff"/><stop offset="0.2640" stop-color="#004eff"/><stop offset="0.2893" stop-color="#00b2ff"/><stop offset="0.3028" stop-color="#00ffff"/><stop offset="0.3095" stop-color="#00ffc8"/><stop offset="0.3162" stop-color="#00ff82"/><stop offset="0.3179" stop-color="#00fe6f"/><stop offset="0.3211" stop-color="#00fc46"/><stop offset="0.3243" stop-color="#5fff14"/><stop offset="0.3275" stop-color="#afff00"/><stop offset="0.3313" stop-color="#ffff00"/><stop offset="0.3412" stop-color="#ff8000"/><stop offset="0.3511" stop-color="#ff0000"/><stop offset="0.3750" stop-color="#f50000"/><stop offset="0.3967" stop-color="#ee0000"/><stop offset="0.4105" stop-color="#b40000"/><stop offset="0.4214" stop-color="#900000"/><stop offset="0.4340" stop-color="#b40000"/><stop offset="0.4458" stop-color="#eb0000"/><stop offset="0.4545" stop-color="#ff0000"/><stop offset="0.4775" stop-color="#ff8000"/><stop offset="0.4937" stop-color="#ffff00"/><stop offset="0.5014" stop-color="#afff00"/><stop offset="0.5080" stop-color="#5fff14"/><stop offset="0.5146" stop-color="#00fc46"/><stop offset="0.5212" stop-color="#00fe6f"/><stop offset="0.5240" stop-color="#00ff82"/><stop offset="0.5351" stop-color="#00ffc8"/><stop offset="0.5461" stop-color="#00ffff"/><stop offset="0.5908" stop-color="#0094ff"/><stop offset="0.6258" stop-color="#0070ff"/><stop offset="0.6546" stop-color="#0078ff"/><stop offset="0.6922" stop-color="#0038ff"/><stop offset="0.7098" stop-color="#0019ff"/><stop offset="0.7270" stop-color="#000aff"/><stop offset="0.7466" stop-color="#0001ff"/><stop offset="0.7492" stop-color="#0000ff"/><stop offset="0.7765" stop-color="#0000f6"/><stop offset="0.8513" stop-color="#0000e7"/><stop offset="0.9198" stop-color="#0000d6"/><stop offset="0.9939" stop-color="#0000cf"/></linearGradient>
<linearGradient id="h30"><stop offset="0.0061" stop-color="#0000a0"/><stop offset="0.0472" stop-color="#0000cd"/><stop offset="0.0712" stop-color="#0000ff"/><stop offset="0.0930" stop-color="#0080ff"/><stop offset="0.1028" stop-color="#00ffff"/><stop offset="0.1059" stop-color="#00ffc8"/><stop offset="0.1090" stop-color="#00ff82"/><stop offset="0.1098" stop-color="#00fe6f"/><stop offset="0.1115" stop-color="#00fc46"/><stop offset="0.1131" stop-color="#5fff14"/><stop offset="0.1148" stop-color="#afff00"/><stop offset="0.1168" stop-color="#ffff00"/><stop offset="0.1294" stop-color="#ff8700"/><stop offset="0.1459" stop-color="#ff1200"/><stop offset="0.1607" stop-color="#ffff00"/><stop offset="0.1622" stop-color="#afff00"/><stop offset="0.1634" stop-color="#5fff14"/><stop offset="0.1646" stop-color="#00fc46"/><stop offset="0.1658" stop-color="#00fe6f"/><stop offset="0.1670" stop-color="#00ff82"/><stop offset="0.1716" stop-color="#00ffc8"/><stop offset="0.1761" stop-color="#00ffff"/><stop offset="0.1907" stop-color="#0058ff"/><stop offset="0.2240" stop-color="#002cff"/><stop offset="0.2654" stop-color="#004dff"/><stop offset="0.2908" stop-color="#00b2ff"/><stop offset="0.3044" stop-color="#00ffff"/><stop offset="0.3109" stop-color="#00ffc8"/><stop offset="0.3176" stop-color="#00ff82"/><stop offset="0.3193" stop-color="#00fe6f"/><stop offset="0.3225" stop-color="#00fc46"/><stop offset="0.3257" stop-color="#5fff14"/><stop offset="0.3289" stop-color="#afff00"/><stop offset="0.3327" stop-color="#ffff00"/><stop offset="0.3427" stop-color="#ff8000"/><stop offset="0.3526" stop-color="#ff0000"/><stop offset="0.3765" stop-color="#f50000"/><stop offset="0.3984" stop-color="#ee0000"/><stop offset="0.4122" stop-color="#b40000"/><stop offset="0.4231" stop-color="#900000"/><stop offset="0.4357" stop-color="#b40000"/><stop offset="0.4474" stop-color="#eb0000"/><stop offset="0.4561" stop-color="#ff0000"/><stop offset="0.4792" stop-color="#ff8000"/><stop offset="0.4949" stop-color="#ffff00"/><stop offset="0.5025" stop-color="#afff00"/><stop offset="0.5089" stop-color="#5fff14"/><stop offset="0.5154" stop-color="#00fc46"/><stop offset="0.5219" stop-color="#00fe6f"/><stop offset="0.5247" stop-color="#00ff82"/><stop offset="0.5360" stop-color="#00ffc8"/><stop offset="0.5471" stop-color="#00ffff"/><stop offset="0.5914" stop-color="#0094ff"/><stop offset="0.6268" stop-color="#0070ff"/><stop offset="0.6549" stop-color="#0078ff"/><stop offset="0.6922" stop-color="#0038ff"/><stop offset="0.7096" stop-color="#0019ff"/><stop offset="0.7269" stop-color="#000aff"/><stop offset="0.7463" stop-color="#0001ff"/><stop offset="0.7483" stop-color="#0000ff"/><stop offset="0.7754" stop-color="#0000f5"/><stop offset="0.8457" stop-color="#0000e6"/><stop offset="0.9142" stop-color="#0000d4"/><stop offset="0.9939" stop-color="#0000cd"/></linearGradient>
<linearGradient id="h31"><stop offset="0.0061" stop-color="#0000a0"/><stop offset="0.0477" stop-color="#0000cd"/><stop offset="0.0718" stop-color="#0000ff"/><stop offset="0.0938" stop-color="#0080ff"/><stop offset="0.1037" stop-color="#00ffff"/><stop offset="0.1067" stop-color="#00ffc8"/><stop offset="0.1098" stop-color="#00ff82"/><stop offset="0.1106" stop-color="#00fe6f"/><stop offset="0.1123" stop-color="#00fc46"/><stop offset="0.1140" stop-color="#5fff14"/><stop offset="0.1156" stop-color="#afff00"/><stop offset="0.1176" stop-color="#ffff00"/><stop offset="0.1301" stop-color="#ff8a00"/><stop offset="0.1468" stop-color="#ff0f00"/><stop offset="0.1618" stop-color="#ffff00"/><stop offset="0.1632" stop-color="#afff00"/><stop offset="0.1644" stop-color="#5fff14"/><stop offset="0.1656" stop-color="#00fc46"/><stop offset="0.1668" stop-color="#00fe6f"/><stop offset="0.1680" stop-color="#00ff82"/><stop offset="0.1725" stop-color="#00ffc8"/><stop offset="0.1769" stop-color="#00ffff"/><stop offset="0.1916" stop-color="#0057ff"/><stop offset="0.2253" stop-color="#002aff"/><stop offset="0.2669" stop-color="#004cff"/><stop offset="0.2922" stop-color="#00b2ff"/><stop offset="0.3059" stop-color="#00ffff"/><stop offset="0.3124" stop-color="#00ffc8"/><stop offset="0.3191" stop-color="#00ff82"/><stop offset="0.3207" stop-color="#00fe6f"/><stop offset="0.3239" stop-color="#00fc46"/><stop offset="0.3271" stop-color="#5fff14"/><stop offset="0.3303" stop-color="#afff00"/><stop offset="0.3340" stop-color="#ffff00"/><stop offset="0.3441" stop-color="#ff8000"/><stop offset="0.3541" stop-color="#ff0000"/><stop offset="0.3780" stop-color="#f50000"/><stop offset="0.4000" stop-color="#ef0000"/><stop offset="0.4140" stop-color="#b40000"/><stop offset="0.4248" stop-color="#910000"/><stop offset="0.4375" stop-color="#b40000"/><stop offset="0.4490" stop-color="#eb0000"/><stop offset="0.4577" stop-color="#ff0000"/><stop offset="0.4809" stop-color="#ff8000"/><stop offset="0.4961" stop-color="#ffff00"/><stop offset="0.5035" stop-color="#afff00"/><stop offset="0.5099" stop-color="#5fff14"/><stop offset="0.5162" stop-color="#00fc46"/><stop offset="0.5225" stop-color="#00fe6f"/><stop offset="0.5254" stop-color="#00ff82"/><stop offset="0.5368" stop-color="#00ffc8"/><stop offset="0.5480" stop-color="#00ffff"/><stop offset="0.5919" stop-color="#0094ff"/><stop offset="0.6277" stop-color="#0070ff"/><stop offset="0.6551" stop-color="#0078ff"/><stop offset="0.6922" stop-color="#0038ff"/><stop offset="0.7095" stop-color="#0019ff"/><stop offset="0.7268" stop-color="#000aff"/><stop offset="0.7460" stop-color="#0001ff"/><stop offset="0.7474" stop-color="#0000ff"/><stop offset="0.7744" stop-color="#0000f5"/><stop offset="0.8402" stop-color="#0000e5"/><stop offset="0.9086" stop-color="#0000d2"/><stop offset="0.9939" stop-color="#0000ca"/></linearGradient>
<linearGradient id="h32"><stop offset="0.0061" stop-color="#0000a0"/><stop offset="0.0482" stop-color="#0000cd"/><stop offset="0.0725" stop-color="#0000ff"/><stop offset="0.0946" stop-color="#0080ff"/><stop offset="0.1045" stop-color="#00ffff"/><stop offset="0.1075" stop-color="#00ffc8"/><stop offset="0.1106" stop-color="#00ff82"/><stop offset="0.1114" stop-color="#00fe6f"/><stop offset="0.1131" stop-color="#00fc46"/><stop offset="0.1148" stop-color="#5fff14"/><stop offset="0.1164" stop-color="#afff00"/><stop offset="0.1184" stop-color="#ffff00"/><stop offset="0.1307" stop-color="#ff8a00"/><stop offset="0.1476" stop-color="#ff0f00"/><stop offset="0.1626" stop-color="#ffff00"/><stop offset="0.1640" stop-color="#afff00"/><stop offset="0.1652" stop-color="#5fff14"/><stop offset="0.1664" stop-color="#00fc46"/><stop offset="0.1676" stop-color="#00fe6f"/><stop offset="0.1687" stop-color="#00ff82"/><stop offset="0.1732" stop-color="#00ffc8"/><stop offset="0.1777" stop-color="#00ffff"/><stop offset="0.1923" stop-color="#0056ff"/><stop offset="0.2266" stop-color="#0028ff"/><stop offset="0.2684" stop-color="#004bff"/><stop offset="0.2937" stop-color="#00b2ff"/><stop offset="0.3074" stop-color="#00ffff"/><stop offset="0.3139" stop-color="#00ffc8"/><stop offset="0.3205" stop-color="#00ff82"/><stop offset="0.3221" stop-color="#00fe6f"/><stop offset="0.3253" stop-color="#00fc46"/><stop offset="0.3285" stop-color="#5fff14"/><stop offset="0.3317" stop-color="#afff00"/><stop offset="0.3354" stop-color="#ffff00"/><stop offset="0.3456" stop-color="#ff8000"/><stop offset="0.3556" stop-color="#ff0000"/><stop offset="0.3795" stop-color="#f50000"/><stop offset="0.4016" stop-color="#ef0000"/><stop offset="0.4157" stop-color="#b40000"/><stop offset="0.4266" stop-color="#910000"/><stop offset="0.4392" stop-color="#b40000"/><stop offset="0.4507" stop-color="#eb0000"/><stop offset="0.4593" stop-color="#ff0000"/><stop offset="0.4825" stop-color="#ff8000"/><stop offset="0.4973" stop-color="#ffff00"/><stop offset="0.5046" stop-color="#afff00"/><stop offset="0.5108" stop-color="#5fff14"/><stop offset="0.5170" stop-color="#00fc46"/><stop offset="0.5232" stop-color="#00fe6f"/><stop offset="0.5261" stop-color="#00ff82"/><stop offset="0.5376" stop-color="#00ffc8"/><stop offset="0.5490" stop-color="#00ffff"/><stop offset="0.5925" stop-color="#0094ff"/><stop offset="0.6286" stop-color="#0070ff"/><stop offset="0.6553" stop-color="#0078ff"/><stop offset="0.6922" stop-color="#0038ff"/><stop offset="0.7094" stop-color="#0019ff"/><stop offset="0.7268" stop-color="#000aff"/><stop offset="0.7457" stop-color="#0000ff"/><stop offset="0.7467" stop-color="#0000ff"/><stop offset="0.7734" stop-color="#0000f5"/><stop offset="0.8347" stop-color="#0000e3"/><stop offset="0.9030" stop-color="#0000cf"/><stop offset="0.9939" stop-color="#0000c8"/></linearGradient>
<linearGradient id="h33"><stop offset="0.0061" stop-color="#00009f"/><stop offset="0.0487" stop-color="#0000cd"/><stop offset="0.0731" stop-color="#0000ff"/><stop offset="0.0954" stop-color="#0080ff"/><stop offset="0.1053" stop-color="#00ffff"/><stop offset="0.1083" stop-color="#00ffc8"/><stop offset="0.1114" stop-color="#00ff82"/><stop offset="0.1122" stop-color="#00fe6f"/><stop offset="0.1139" stop-color="#00fc46"/><stop offset="0.1155" stop-color="#5fff14"/><stop offset="0.1172" stop-color="#afff00"/><stop offset="0.1191" stop-color="#ffff00"/><stop offset="0.1312" stop-color="#ff8a00"/><stop offset="0.1481" stop-color="#ff0f00"/><stop offset="0.1633" stop-color="#ffff00"/><stop offset="0.1647" stop-color="#afff00"/><stop offset="0.1659" stop-color="#5fff14"/><stop offset="0.1671" stop-color="#00fc46"/><stop offset="0.1683" stop-color="#00fe6f"/><stop offset="0.1694" stop-color="#00ff82"/><stop offset="0.1739" stop-color="#00ffc8"/><stop offset="0.1783" stop-color="#00ffff"/><stop offset="0.1929" stop-color="#0055ff"/><stop offset="0.2279" stop-color="#0027ff"/><stop offset="0.2699" stop-color="#004bff"/><stop offset="0.2952" stop-color="#00b2ff"/><stop offset="0.3089" stop-color="#00ffff"/><stop offset="0.3154" stop-color="#00ffc8"/><stop offset="0.3219" stop-color="#00ff82"/><stop offset="0.3236" stop-color="#00fe6f"/><stop offset="0.3267" stop-color="#00fc46"/><stop offset="0.3299" stop-color="#5fff14"/><stop offset="0.3331" stop-color="#afff00"/><stop offset="0.3368" stop-color="#ffff00"/><stop offset="0.3470" stop-color="#ff8000"/><stop offset="0.3572" stop-color="#ff0000"/><stop offset="0.3810" stop-color="#f50000"/><stop offset="0.4032" stop-color="#f00000"/><stop offset="0.4174" stop-color="#b50000"/><stop offset="0.4283" stop-color="#910000"/><stop offset="0.4409" stop-color="#b50000"/><stop offset="0.4523" stop-color="#eb0000"/><stop offset="0.4609" stop-color="#ff0000"/><stop offset="0.4842" stop-color="#ff8000"/><stop offset="0.4985" stop-color="#ffff00"/><stop offset="0.5056" stop-color="#afff00"/><stop offset="0.5117" stop-color="#5fff14"/><stop offset="0.5178" stop-color="#00fc46"/><stop offset="0.5239" stop-color="#00fe6f"/><stop offset="0.5268" stop-color="#00ff82"/><stop offset="0.5385" stop-color="#00ffc8"/><stop offset="0.5500" stop-color="#00ffff"/><stop offset="0.5930" stop-color="#0094ff"/><stop offset="0.6295" stop-color="#0070ff"/><stop offset="0.6556" stop-color="#0078ff"/><stop offset="0.6922" stop-color="#0038ff"/><stop offset="0.7093" stop-color="#0019ff"/><stop offset="0.7267" stop-color="#000aff"/><stop offset="0.7454" stop-color="#0000ff"/><stop offset="0.7459" stop-color="#0000ff"/><stop offset="0.7725" stop-color="#0000f4"/><stop offset="0.8294" stop-color="#0000e2"/><stop offset="0.8976" stop-color="#0000cd"/><stop offset="0.9939" stop-color="#0000c6"/></linearGradient>
<linearGradient id="h34"><stop offset="0.0061" stop-color="#00009f"/><stop offset="0.0492" stop-color="#0000cd"/><stop offset="0.0738" stop-color="#0000ff"/><stop offset="0.0962" stop-color="#0080ff"/><stop offset="0.1061" stop-color="#00ffff"/><stop offset="0.1091" stop-color="#00ffc8"/><stop offset="0.1122" stop-color="#00ff82"/><stop offset="0.1130" stop-color="#00fe6f"/><stop offset="0.1147" stop-color="#00fc46"/><stop offset="0.1163" stop-color="#5fff14"/><stop offset="0.1180" stop-color="#afff00"/><stop offset="0.1199" stop-color="#ffff00"/><stop offset="0.1318" stop-color="#ff8a00"/><stop offset="0.1487" stop-color="#ff0f00"/><stop offset="0.1638" stop-color="#ffff00"/><stop offset="0.1652" stop-color="#afff00"/><stop offset="0.1665" stop-color="#5fff14"/><stop offset="0.1677" stop-color="#00fc46"/><stop offset="0.1689" stop-color="#00fe6f"/><stop offset="0.1700" stop-color="#00ff82"/><stop offset="0.1745" stop-color="#00ffc8"/><stop offset="0.1789" stop-color="#00ffff"/><stop offset="0.1935" stop-color="#0054ff"/><stop offset="0.2293" stop-color="#0025ff"/><stop offset="0.2713" stop-color="#004aff"/><stop offset="0.2966" stop-color="#00b2ff"/><stop offset="0.3104" stop-color="#00ffff"/><stop offset="0.3168" stop-color="#00ffc8"/><stop offset="0.3233" stop-color="#00ff82"/><stop offset="0.3250" stop-color="#00fe6f"/><stop offset="0.3281" stop-color="#00fc46"/><stop offset="0.3313" stop-color="#5fff14"/><stop offset="0.3345" stop-color="#afff00"/><stop offset="0.3382" stop-color="#ffff00"/><stop offset="0.3485" stop-color="#ff8000"/><stop offset="0.3587" stop-color="#ff0000"/><stop offset="0.3824" stop-color="#f50000"/><stop offset="0.4048" stop-color="#f00000"/><stop offset="0.4192" stop-color="#b50000"/><stop offset="0.4301" stop-color="#910000"/><stop offset="0.4426" stop-color="#b50000"/><stop offset="0.4540" stop-color="#eb0000"/><stop offset="0.4625" stop-color="#ff0000"/><stop offset="0.4858" stop-color="#ff8000"/><stop offset="0.4997" stop-color="#ffff00"/><stop offset="0.5067" stop-color="#afff00"/><stop offset="0.5126" stop-color="#5fff14"/><stop offset="0.5186" stop-color="#00fc46"/><stop offset="0.5246" stop-color="#00fe6f"/><stop offset="0.5275" stop-color="#00ff82"/><stop offset="0.5393" stop-color="#00ffc8"/><stop offset="0.5509" stop-color="#00ffff"/><stop offset="0.5936" stop-color="#0094ff"/><stop offset="0.6304" stop-color="#0070ff"/><stop offset="0.6558" stop-color="#0078ff"/><stop offset="0.6922" stop-color="#0038ff"/><stop offset="0.7092" stop-color="#0019ff"/><stop offset="0.7267" stop-color="#000aff"/><stop offset="0.7452" stop-color="#0000ff"/><stop offset="0.7453" stop-color="#0000ff"/><stop offset="0.7717" stop-color="#0000f4"/><stop offset="0.8243" stop-color="#0000e1"/><stop offset="0.8923" stop-color="#0000cb"/><stop offset="0.9939" stop-color="#0000c3"/></linearGradient>
<linearGradient id="h35"><stop offset="0.0061" stop-color="#00009e"/><stop offset="0.0498" stop-color="#0000cd"/><stop offset="0.0745" stop-color="#0000ff"/><stop offset="0.0970" stop-color="#0080ff"/><stop offset="0.1069" stop-color="#00ffff"/><stop offset="0.1099" stop-color="#00ffc8"/><stop offset="0.1130" stop-color="#00ff82"/><stop offset="0.1138" stop-color="#00fe6f"/><stop offset="0.1155" stop-color="#00fc46"/><stop offset="0.1171" stop-color="#5fff14"/><stop offset="0.1188" stop-color="#afff00"/><stop offset="0.1207" stop-color="#ffff00"/><stop offset="0.1323" stop-color="#ff8a00"/><stop offset="0.1492" stop-color="#ff0f00"/><stop offset="0.1643" stop-color="#ffff00"/><stop offset="0.1658" stop-color="#afff00"/><stop offset="0.1670" stop-color="#5fff14"/><stop offset="0.1682" stop-color="#00fc46"/><stop offset="0.1694" stop-color="#00fe6f"/><stop offset="0.1705" stop-color="#00ff82"/><stop offset="0.1750" stop-color="#00ffc8"/><stop offset="0.1795" stop-color="#00ffff"/><stop offset="0.1941" stop-color="#0053ff"/><stop offset="0.2307" stop-color="#0024ff"/><stop offset="0.2728" stop-color="#0049ff"/><stop offset="0.2981" stop-color="#00b2ff"/><stop offset="0.3119" stop-color="#00ffff"/><stop offset="0.3183" stop-color="#00ffc8"/><stop offset="0.3248" stop-color="#00ff82"/><stop offset="0.3264" stop-color="#00fe6f"/><stop offset="0.3296" stop-color="#00fc46"/><stop offset="0.3327" stop-color="#5fff14"/><stop offset="0.3359" stop-color="#afff00"/><stop offset="0.3396" stop-color="#ffff00"/><stop offset="0.3499" stop-color="#ff8000"/><stop offset="0.3602" stop-color="#ff0000"/><stop offset="0.3839" stop-color="#f50000"/><stop offset="0.4063" stop-color="#f10000"/><stop offset="0.4209" stop-color="#b50000"/><stop offset="0.4318" stop-color="#920000"/><stop offset="0.4443" stop-color="#b50000"/><stop offset="0.4556" stop-color="#eb0000"/><stop offset="0.4641" stop-color="#ff0000"/><stop offset="0.4874" stop-color="#ff8000"/><stop offset="0.5009" stop-color="#ffff00"/><stop offset="0.5077" stop-color="#afff00"/><stop offset="0.5136" stop-color="#5fff14"/><stop offset="0.5194" stop-color="#00fc46"/><stop offset="0.5252" stop-color="#00fe6f"/><stop offset="0.5282" stop-color="#00ff82"/><stop offset="0.5402" stop-color="#00ffc8"/><stop offset="0.5519" stop-color="#00ffff"/><stop offset="0.5941" stop-color="#0094ff"/><stop offset="0.6312" stop-color="#0070ff"/><stop offset="0.6560" stop-color="#0079ff"/><stop offset="0.6922" stop-color="#0038ff"/><stop offset="0.7092" stop-color="#0019ff"/><stop offset="0.7266" stop-color="#000aff"/><stop offset="0.7447" stop-color="#0000ff"/><stop offset="0.7449" stop-color="#0000ff"/><stop offset="0.7709" stop-color="#0000f3"/><stop offset="0.8194" stop-color="#0000e0"/><stop offset="0.8873" stop-color="#0000c9"/><stop offset="0.9939" stop-color="#0000c1"/></linearGradient>
<linearGradient id="h36"><stop offset="0.0061" stop-color="#00009e"/><stop offset="0.0503" stop-color="#0000cd"/><stop offset="0.0751" stop-color="#0000ff"/><stop offset="0.0978" stop-color="#0080ff"/><stop offset="0.1077" stop-color="#00ffff"/><stop offset="0.1107" stop-color="#00ffc8"/><stop offset="0.1138" stop-color="#00ff82"/><stop offset="0.1146" stop-color="#00fe6f"/><stop offset="0.1162" stop-color="#00fc46"/><stop offset="0.1179" stop-color="#5fff14"/><stop offset="0.1196" stop-color="#afff00"/><stop offset="0.1215" stop-color="#ffff00"/><stop offset="0.1330" stop-color="#ff8a00"/><stop offset="0.1498" stop-color="#ff0f00"/><stop offset="0.1648" stop-color="#ffff00"/><stop offset="0.1662" stop-color="#afff00"/><stop offset="0.1675" stop-color="#5fff14"/><stop offset="0.1687" stop-color="#00fc46"/><stop offset="0.1699" stop-color="#00fe6f"/><stop offset="0.1710" stop-color="#00ff82"/><stop offset="0.1755" stop-color="#00ffc8"/><stop offset="0.1800" stop-color="#00ffff"/><stop offset="0.1946" stop-color="#0052ff"/><stop offset="0.2321" stop-color="#0022ff"/><stop offset="0.2743" stop-color="#0048ff"/><stop offset="0.2996" stop-color="#00b2ff"/><stop offset="0.3134" stop-color="#00ffff"/><stop offset="0.3198" stop-color="#00ffc8"/><stop offset="0.3262" stop-color="#00ff82"/><stop offset="0.3278" stop-color="#00fe6f"/><stop offset="0.3310" stop-color="#00fc46"/><stop offset="0.3341" stop-color="#5fff14"/><stop offset="0.3373" stop-color="#afff00"/><stop offset="0.3410" stop-color="#ffff00"/><stop offset="0.3514" stop-color="#ff8000"/><stop offset="0.3618" stop-color="#ff0000"/><stop offset="0.3853" stop-color="#f50000"/><stop offset="0.4078" stop-color="#f10000"/><stop offset="0.4227" stop-color="#b60000"/><stop offset="0.4336" stop-color="#920000"/><stop offset="0.4461" stop-color="#b60000"/><stop offset="0.4572" stop-color="#eb0000"/><stop offset="0.4657" stop-color="#ff0000"/><stop offset="0.4890" stop-color="#ff8000"/><stop offset="0.5021" stop-color="#ffff00"/><stop offset="0.5088" stop-color="#afff00"/><stop offset="0.5145" stop-color="#5fff14"/><stop offset="0.5202" stop-color="#00fc46"/><stop offset="0.5260" stop-color="#00fe6f"/><stop offset="0.5290" stop-color="#00ff82"/><stop offset="0.5410" stop-color="#00ffc8"/><stop offset="0.5529" stop-color="#00ffff"/><stop offset="0.5947" stop-color="#0094ff"/><stop offset="0.6320" stop-color="#0070ff"/><stop offset="0.6563" stop-color="#0079ff"/><stop offset="0.6922" stop-color="#0038ff"/><stop offset="0.7091" stop-color="#0019ff"/><stop offset="0.7266" stop-color="#000aff"/><stop offset="0.7442" stop-color="#0000ff"/><stop offset="0.7447" stop-color="#0000ff"/><stop offset="0.7701" stop-color="#0000f3"/><stop offset="0.8149" stop-color="#0000df"/><stop offset="0.8827" stop-color="#0000c7"/><stop offset="0.9939" stop-color="#0000bf"/></linearGradient>
<linearGradient id="h37"><stop offset="0.0061" stop-color="#00009d"/><stop offset="0.0508" stop-color="#0000cd"/><stop offset="0.0758" stop-color="#0000ff"/><stop offset="0.0986" stop-color="#0080ff"/><stop offset="0.1085" stop-color="#00ffff"/><stop offset="0.1115" stop-color="#00ffc8"/><stop offset="0.1146" stop-color="#00ff82"/><stop offset="0.1154" stop-color="#00fe6f"/><stop offset="0.1171" stop-color="#00fc46"/><stop offset="0.1187" stop-color="#5fff14"/><stop offset="0.1204" stop-color="#afff00"/><stop offset="0.1223" stop-color="#ffff00"/><stop offset="0.1337" stop-color="#ff8a00"/><stop offset="0.1504" stop-color="#ff0f00"/><stop offset="0.1653" stop-color="#ffff00"/><stop offset="0.1667" stop-color="#afff00"/><stop offset="0.1679" stop-color="#5fff14"/><stop offset="0.1692" stop-color="#00fc46"/><stop offset="0.1704" stop-color="#00fe6f"/><stop offset="0.1715" stop-color="#00ff82"/><stop offset="0.1760" stop-color="#00ffc8"/><stop offset="0.1805" stop-color="#00ffff"/><stop offset="0.1950" stop-color="#0051ff"/><stop offset="0.2335" stop-color="#0020ff"/><stop offset="0.2758" stop-color="#0047ff"/><stop offset="0.3010" stop-color="#00b2ff"/><stop offset="0.3149" stop-color="#00ffff"/><stop offset="0.3212" stop-color="#00ffc8"/><stop offset="0.3276" stop-color="#00ff82"/><stop offset="0.3292" stop-color="#00fe6f"/><stop offset="0.3324" stop-color="#00fc46"/><stop offset="0.3355" stop-color="#5fff14"/><stop offset="0.3387" stop-color="#afff00"/><stop offset="0.3423" stop-color="#ffff00"/><stop offset="0.3528" stop-color="#ff8000"/><stop offset="0.3633" stop-color="#ff0000"/><stop offset="0.3867" stop-color="#f50000"/><stop offset="0.4093" stop-color="#f20000"/><stop offset="0.4244" stop-color="#b60000"/><stop offset="0.4353" stop-color="#920000"/><stop offset="0.4478" stop-color="#b60000"/><stop offset="0.4589" stop-color="#eb0000"/><stop offset="0.4673" stop-color="#ff0000"/><stop offset="0.4905" stop-color="#ff8000"/><stop offset="0.5033" stop-color="#ffff00"/><stop offset="0.5099" stop-color="#afff00"/><stop offset="0.5155" stop-color="#5fff14"/><stop offset="0.5211" stop-color="#00fc46"/><stop offset="0.5267" stop-color="#00fe6f"/><stop offset="0.5297" stop-color="#00ff82"/><stop offset="0.5419" stop-color="#00ffc8"/><stop offset="0.5539" stop-color="#00ffff"/><stop offset="0.5953" stop-color="#0094ff"/><stop offset="0.6327" stop-color="#0070ff"/><stop offset="0.6565" stop-color="#0079ff"/><stop offset="0.6922" stop-color="#0038ff"/><stop offset="0.7091" stop-color="#0019ff"/><stop offset="0.7265" stop-color="#000aff"/><stop offset="0.7437" stop-color="#0000ff"/><stop offset="0.7444" stop-color="#0000ff"/><stop offset="0.7694" stop-color="#0000f3"/><stop offset="0.8107" stop-color="#0000de"/><stop offset="0.8785" stop-color="#0000c5"/><stop offset="0.9939" stop-color="#0000bd"/></linearGradient>
<linearGradient id="h38"><stop offset="0.0061" stop-color="#00009d"/><stop offset="0.0514" stop-color="#0000cd"/><stop offset="0.0765" stop-color="#0000ff"/><stop offset="0.0994" stop-color="#0080ff"/><stop offset="0.1093" stop-color="#00ffff"/><stop offset="0.1123" stop-color="#00ffc8"/><stop offset="0.1154" stop-color="#00ff82"/><stop offset="0.1162" stop-color="#00fe6f"/><stop offset="0.1179" stop-color="#00fc46"/><stop offset="0.1195" stop-color="#5fff14"/><stop offset="0.1212" stop-color="#afff00"/><stop offset="0.1231" stop-color="#ffff00"/><stop offset="0.1346" stop-color="#ff8400"/><stop offset="0.1512" stop-color="#ff0f00"/><stop offset="0.1657" stop-color="#ffff00"/><stop offset="0.1671" stop-color="#afff00"/><stop offset="0.1684" stop-color="#5fff14"/><stop offset="0.1696" stop-color="#00fc46"/><stop offset="0.1708" stop-color="#00fe6f"/><stop offset="0.1719" stop-color="#00ff82"/><stop offset="0.1765" stop-color="#00ffc8"/><stop offset="0.1809" stop-color="#00ffff"/><stop offset="0.1955" stop-color="#0050ff"/><stop offset="0.2350" stop-color="#001fff"/><stop offset="0.2773" stop-color="#0046ff"/><stop offset="0.3025" stop-color="#00b2ff"/><stop offset="0.3164" stop-color="#00ffff"/><stop offset="0.3227" stop-color="#00ffc8"/><stop offset="0.3291" stop-color="#00ff82"/><stop offset="0.3307" stop-color="#00fe6f"/><stop offset="0.3338" stop-color="#00fc46"/><stop offset="0.3369" stop-color="#5fff14"/><stop offset="0.3401" stop-color="#afff00"/><stop offset="0.3437" stop-color="#ffff00"/><stop offset="0.3543" stop-color="#ff8000"/><stop offset="0.3648" stop-color="#ff0000"/><stop offset="0.3881" stop-color="#f50000"/><stop offset="0.4108" stop-color="#f20000"/><stop offset="0.4261" stop-color="#b60000"/><stop offset="0.4371" stop-color="#930000"/><stop offset="0.4495" stop-color="#b60000"/><stop offset="0.4605" stop-color="#eb0000"/><stop offset="0.4688" stop-color="#ff0000"/><stop offset="0.4920" stop-color="#ff8000"/><stop offset="0.5046" stop-color="#ffff00"/><stop offset="0.5110" stop-color="#afff00"/><stop offset="0.5165" stop-color="#5fff14"/><stop offset="0.5220" stop-color="#00fc46"/><stop offset="0.5275" stop-color="#00fe6f"/><stop offset="0.5305" stop-color="#00ff82"/><stop offset="0.5428" stop-color="#00ffc8"/><stop offset="0.5549" stop-color="#00ffff"/><stop offset="0.5959" stop-color="#0094ff"/><stop offset="0.6334" stop-color="#0070ff"/><stop offset="0.6568" stop-color="#0079ff"/><stop offset="0.6922" stop-color="#0038ff"/><stop offset="0.7090" stop-color="#0019ff"/><stop offset="0.7264" stop-color="#000aff"/><stop offset="0.7432" stop-color="#0000ff"/><stop offset="0.7442" stop-color="#0000fe"/><stop offset="0.7687" stop-color="#0000f3"/><stop offset="0.8069" stop-color="#0000de"/><stop offset="0.8749" stop-color="#0000c3"/><stop offset="0.9939" stop-color="#0000bb"/></linearGradient>
<linearGradient id="h39"><stop offset="0.0061" stop-color="#00009c"/><stop offset="0.0519" stop-color="#0000cd"/><stop offset="0.0772" stop-color="#0000ff"/><stop offset="0.1002" stop-color="#0080ff"/><stop offset="0.1101" stop-color="#00ffff"/><stop offset="0.1131" stop-color="#00ffc8"/><stop offset="0.1162" stop-color="#00ff82"/><stop offset="0.1170" stop-color="#00fe6f"/><stop offset="0.1187" stop-color="#00fc46"/><stop offset="0.1203" stop-color="#5fff14"/><stop offset="0.1220" stop-color="#afff00"/><stop offset="0.1240" stop-color="#ffff00"/><stop offset="0.1357" stop-color="#ff7600"/><stop offset="0.1520" stop-color="#ff0f00"/><stop offset="0.1661" stop-color="#ffff00"/><stop offset="0.1675" stop-color="#afff00"/><stop offset="0.1687" stop-color="#5fff14"/><stop offset="0.1700" stop-color="#00fc46"/><stop offset="0.1712" stop-color="#00fe6f"/><stop offset="0.1723" stop-color="#00ff82"/><stop offset="0.1769" stop-color="#00ffc8"/><stop offset="0.1813" stop-color="#00ffff"/><stop offset="0.1958" stop-color="#004fff"/><stop offset="0.2364" stop-color="#001eff"/><stop offset="0.2788" stop-color="#0045ff"/><stop offset="0.3039" stop-color="#00b2ff"/><stop offset="0.3179" stop-color="#00ffff"/><stop offset="0.3242" stop-color="#00ffc8"/><stop offset="0.3305" stop-color="#00ff82"/><stop offset="0.3321" stop-color="#00fe6f"/><stop offset="0.3352" stop-color="#00fc46"/><stop offset="0.3383" stop-color="#5fff14"/><stop offset="0.3415" stop-color="#afff00"/><stop offset="0.3451" stop-color="#ffff00"/><stop offset="0.3557" stop-color="#ff8000"/><stop offset="0.3662" stop-color="#ff0000"/><stop offset="0.3895" stop-color="#f50000"/><stop offset="0.4122" stop-color="#f30000"/><stop offset="0.4278" stop-color="#b70000"/><stop offset="0.4388" stop-color="#930000"/><stop offset="0.4512" stop-color="#b70000"/><stop offset="0.4622" stop-color="#eb0000"/><stop offset="0.4704" stop-color="#ff0000"/><stop offset="0.4935" stop-color="#ff8000"/><stop offset="0.5058" stop-color="#ffff00"/><stop offset="0.5121" stop-color="#afff00"/><stop offset="0.5175" stop-color="#5fff14"/><stop offset="0.5229" stop-color="#00fc46"/><stop offset="0.5283" stop-color="#00fe6f"/><stop offset="0.5314" stop-color="#00ff82"/><stop offset="0.5437" stop-color="#00ffc8"/><stop offset="0.5559" stop-color="#00ffff"/><stop offset="0.5965" stop-color="#0094ff"/><stop offset="0.6341" stop-color="#0070ff"/><stop offset="0.6571" stop-color="#007aff"/><stop offset="0.6922" stop-color="#0038ff"/><stop offset="0.7090" stop-color="#0019ff"/><stop offset="0.7264" stop-color="#000aff"/><stop offset="0.7428" stop-color="#0000ff"/><stop offset="0.7440" stop-color="#0000fe"/><stop offset="0.7680" stop-color="#0000f2"/><stop offset="0.8036" stop-color="#0000dd"/><stop offset="0.8719" stop-color="#0000c2"/><stop offset="0.9939" stop-color="#0000b9"/></linearGradient>
<linearGradient id="h40"><stop offset="0.0061" stop-color="#00009c"/><stop offset="0.0525" stop-color="#0000cd"/><stop offset="0.0779" stop-color="#0000ff"/><stop offset="0.1010" stop-color="#0080ff"/><stop offset="0.1108" stop-color="#00ffff"/><stop offset="0.1139" stop-color="#00ffc8"/><stop offset="0.1170" stop-color="#00ff82"/><stop offset="0.1178" stop-color="#00fe6f"/><stop offset="0.1195" stop-color="#00fc46"/><stop offset="0.1212" stop-color="#5fff14"/><stop offset="0.1228" stop-color="#afff00"/><stop offset="0.1248" stop-color="#ffff00"/><stop offset="0.1369" stop-color="#ff6500"/><stop offset="0.1528" stop-color="#ff0f00"/><stop offset="0.1665" stop-color="#ffff00"/><stop offset="0.1679" stop-color="#afff00"/><stop offset="0.1691" stop-color="#5fff14"/><stop offset="0.1703" stop-color="#00fc46"/><stop offset="0.1715" stop-color="#00fe6f"/><stop offset="0.1727" stop-color="#00ff82"/><stop offset="0.1772" stop-color="#00ffc8"/><stop offset="0.1817" stop-color="#00ffff"/><stop offset="0.1962" stop-color="#004eff"/><stop offset="0.2378" stop-color="#001cff"/><stop offset="0.2803" stop-color="#0044ff"/><stop offset="0.3054" stop-color="#00b2ff"/><stop offset="0.3194" stop-color="#00ffff"/><stop offset="0.3256" stop-color="#00ffc8"/><stop offset="0.3319" stop-color="#00ff82"/><stop offset="0.3335" stop-color="#00fe6f"/><stop offset="0.3366" stop-color="#00fc46"/><stop offset="0.3397" stop-color="#5fff14"/><stop offset="0.3429" stop-color="#afff00"/><stop offset="0.3465" stop-color="#ffff00"/><stop offset="0.3571" stop-color="#ff8000"/><stop offset="0.3677" stop-color="#ff0000"/><stop offset="0.3908" stop-color="#f50000"/><stop offset="0.4136" stop-color="#f40000"/><stop offset="0.4295" stop-color="#b70000"/><stop offset="0.4405" stop-color="#930000"/><stop offset="0.4530" stop-color="#b70000"/><stop offset="0.4638" stop-color="#eb0000"/><stop offset="0.4720" stop-color="#ff0000"/><stop offset="0.4949" stop-color="#ff8000"/><stop offset="0.5071" stop-color="#ffff00"/><stop offset="0.5132" stop-color="#afff00"/><stop offset="0.5185" stop-color="#5fff14"/><stop offset="0.5238" stop-color="#00fc46"/><stop offset="0.5291" stop-color="#00fe6f"/><stop offset="0.5322" stop-color="#00ff82"/><stop offset="0.5447" stop-color="#00ffc8"/><stop offset="0.5569" stop-color="#00ffff"/><stop offset="0.5972" stop-color="#0094ff"/><stop offset="0.6346" stop-color="#0070ff"/><stop offset="0.6574" stop-color="#007aff"/><stop offset="0.6922" stop-color="#0038ff"/><stop offset="0.7089" stop-color="#0019ff"/><stop offset="0.7263" stop-color="#000aff"/><stop offset="0.7424" stop-color="#0000ff"/><stop offset="0.7437" stop-color="#0000fe"/><stop offset="0.7673" stop-color="#0000f2"/><stop offset="0.8008" stop-color="#0000dd"/><stop offset="0.8696" stop-color="#0000c1"/><stop offset="0.9939" stop-color="#0000b7"/></linearGradient>
<linearGradient id="h41"><stop offset="0.0061" stop-color="#00009b"/><stop offset="0.0531" stop-color="#0000cd"/><stop offset="0.0786" stop-color="#0000ff"/><stop offset="0.1018" stop-color="#0080ff"/><stop offset="0.1117" stop-color="#00ffff"/><stop offset="0.1147" stop-color="#00ffc8"/><stop offset="0.1179" stop-color="#00ff82"/><stop offset="0.1186" stop-color="#00fe6f"/><stop offset="0.1203" stop-color="#00fc46"/><stop offset="0.1220" stop-color="#5fff14"/><stop offset="0.1237" stop-color="#afff00"/><stop offset="0.1256" stop-color="#ffff00"/><stop offset="0.1381" stop-color="#ff5300"/><stop offset="0.1537" stop-color="#ff0f00"/><stop offset="0.1668" stop-color="#ffff00"/><stop offset="0.1682" stop-color="#afff00"/><stop offset="0.1695" stop-color="#5fff14"/><stop offset="0.1707" stop-color="#00fc46"/><stop offset="0.1719" stop-color="#00fe6f"/><stop offset="0.1730" stop-color="#00ff82"/><stop offset="0.1776" stop-color="#00ffc8"/><stop offset="0.1821" stop-color="#00ffff"/><stop offset="0.1966" stop-color="#004dff"/><stop offset="0.2392" stop-color="#001bff"/><stop offset="0.2817" stop-color="#0043ff"/><stop offset="0.3068" stop-color="#00b2ff"/><stop offset="0.3209" stop-color="#00ffff"/><stop offset="0.3271" stop-color="#00ffc8"/><stop offset="0.3334" stop-color="#00ff82"/><stop offset="0.3349" stop-color="#00fe6f"/><stop offset="0.3380" stop-color="#00fc46"/><stop offset="0.3411" stop-color="#5fff14"/><stop offset="0.3443" stop-color="#afff00"/><stop offset="0.3479" stop-color="#ffff00"/><stop offset="0.3585" stop-color="#ff8000"/><stop offset="0.3691" stop-color="#ff0000"/><stop offset="0.3921" stop-color="#f50000"/><stop offset="0.4149" stop-color="#f40000"/><stop offset="0.4312" stop-color="#b70000"/><stop offset="0.4423" stop-color="#940000"/><stop offset="0.4547" stop-color="#b70000"/><stop offset="0.4654" stop-color="#eb0000"/><stop offset="0.4736" stop-color="#ff0000"/><stop offset="0.4962" stop-color="#ff8000"/><stop offset="0.5084" stop-color="#ffff00"/><stop offset="0.5144" stop-color="#afff00"/><stop offset="0.5196" stop-color="#5fff14"/><stop offset="0.5248" stop-color="#00fc46"/><stop offset="0.5300" stop-color="#00fe6f"/><stop offset="0.5331" stop-color="#00ff82"/><stop offset="0.5457" stop-color="#00ffc8"/><stop offset="0.5580" stop-color="#00ffff"/><stop offset="0.5979" stop-color="#0094ff"/><stop offset="0.6352" stop-color="#0070ff"/><stop offset="0.6577" stop-color="#007aff"/><stop offset="0.6922" stop-color="#0038ff"/><stop offset="0.7089" stop-color="#0019ff"/><stop offset="0.7262" stop-color="#000aff"/><stop offset="0.7420" stop-color="#0000ff"/><stop offset="0.7434" stop-color="#0000fe"/><stop offset="0.7667" stop-color="#0000f2"/><stop offset="0.7986" stop-color="#0000dc"/><stop offset="0.8681" stop-color="#0000c0"/><stop offset="0.9939" stop-color="#0000b6"/></linearGradient>
<linearGradient id="h42"><stop offset="0.0061" stop-color="#00009b"/><stop offset="0.0537" stop-color="#0000cd"/><stop offset="0.0793" stop-color="#0000ff"/><stop offset="0.1026" stop-color="#0080ff"/><stop offset="0.1125" stop-color="#00ffff"/><stop offset="0.1156" stop-color="#00ffc8"/><stop offset="0.1187" stop-color="#00ff82"/><stop offset="0.1195" stop-color="#00fe6f"/><stop offset="0.1211" stop-color="#00fc46"/><stop offset="0.1228" stop-color="#5fff14"/><stop offset="0.1245" stop-color="#afff00"/><stop offset="0.1265" stop-color="#ffff00"/><stop offset="0.1393" stop-color="#ff4300"/><stop offset="0.1546" stop-color="#ff0f00"/><stop offset="0.1673" stop-color="#ffff00"/><stop offset="0.1687" stop-color="#afff00"/><stop offset="0.1699" stop-color="#5fff14"/><stop offset="0.1711" stop-color="#00fc46"/><stop offset="0.1723" stop-color="#00fe6f"/><stop offset="0.1734" stop-color="#00ff82"/><stop offset="0.1780" stop-color="#00ffc8"/><stop offset="0.1825" stop-color="#00ffff"/><stop offset="0.1970" stop-color="#004dff"/><stop offset="0.2406" stop-color="#001aff"/><stop offset="0.2831" stop-color="#0042ff"/><stop offset="0.3082" stop-color="#00b2ff"/><stop offset="0.3224" stop-color="#00ffff"/><stop offset="0.3286" stop-color="#00ffc8"/><stop offset="0.3348" stop-color="#00ff82"/><stop offset="0.3363" stop-color="#00fe6f"/><stop offset="0.3394" stop-color="#00fc46"/><stop offset="0.3426" stop-color="#5fff14"/><stop offset="0.3457" stop-color="#afff00"/><stop offset="0.3493" stop-color="#ffff00"/><stop offset="0.3599" stop-color="#ff8000"/><stop offset="0.3706" stop-color="#ff0000"/><stop offset="0.3934" stop-color="#f50000"/><stop offset="0.4162" stop-color="#f50000"/><stop offset="0.4328" stop-color="#b80000"/><stop offset="0.4440" stop-color="#940000"/><stop offset="0.4564" stop-color="#b80000"/><stop offset="0.4670" stop-color="#eb0000"/><stop offset="0.4751" stop-color="#ff0000"/><stop offset="0.4975" stop-color="#ff8000"/><stop offset="0.5096" stop-color="#ffff00"/><stop offset="0.5156" stop-color="#afff00"/><stop offset="0.5207" stop-color="#5fff14"/><stop offset="0.5258" stop-color="#00fc46"/><stop offset="0.5310" stop-color="#00fe6f"/><stop offset="0.5341" stop-color="#00ff82"/><stop offset="0.5467" stop-color="#00ffc8"/><stop offset="0.5591" stop-color="#00ffff"/><stop offset="0.5986" stop-color="#0094ff"/><stop offset="0.6356" stop-color="#0070ff"/><stop offset="0.6580" stop-color="#007aff"/><stop offset="0.6922" stop-color="#0038ff"/><stop offset="0.7089" stop-color="#0019ff"/><stop offset="0.7261" stop-color="#000aff"/><stop offset="0.7416" stop-color="#0000ff"/><stop offset="0.7432" stop-color="#0000fe"/><stop offset="0.7660" stop-color="#0000f2"/><stop offset="0.7970" stop-color="#0000dc"/><stop offset="0.8675" stop-color="#0000bf"/><stop offset="0.9939" stop-color="#0000b5"/></linearGradient>
<linearGradient id="h43"><stop offset="0.0061" stop-color="#00009a"/><stop offset="0.0544" stop-color="#0000cd"/><stop offset="0.0801" stop-color="#0000ff"/><stop offset="0.1035" stop-color="#0080ff"/><stop offset="0.1134" stop-color="#00ffff"/><stop offset="0.1164" stop-color="#00ffc8"/><stop offset="0.1195" stop-color="#00ff82"/><stop offset="0.1203" stop-color="#00fe6f"/><stop offset="0.1220" stop-color="#00fc46"/><stop offset="0.1237" stop-color="#5fff14"/><stop offset="0.1253" stop-color="#afff00"/><stop offset="0.1273" stop-color="#ffff00"/><stop offset="0.1403" stop-color="#ff3900"/><stop offset="0.1555" stop-color="#ff0f00"/><stop offset="0.1677" stop-color="#ffff00"/><stop offset="0.1691" stop-color="#afff00"/><stop offset="0.1703" stop-color="#5fff14"/><stop offset="0.1716" stop-color="#00fc46"/><stop offset="0.1728" stop-color="#00fe6f"/><stop offset="0.1739" stop-color="#00ff82"/><stop offset="0.1785" stop-color="#00ffc8"/><stop offset="0.1829" stop-color="#00ffff"/><stop offset="0.1974" stop-color="#004dff"/><stop offset="0.2420" stop-color="#0018ff"/><stop offset="0.2846" stop-color="#0041ff"/><stop offset="0.3097" stop-color="#00b2ff"/><stop offset="0.3239" stop-color="#00ffff"/><stop offset="0.3300" stop-color="#00ffc8"/><stop offset="0.3362" stop-color="#00ff82"/><stop offset="0.3378" stop-color="#00fe6f"/><stop offset="0.3409" stop-color="#00fc46"/><stop offset="0.3440" stop-color="#5fff14"/><stop offset="0.3471" stop-color="#afff00"/><stop offset="0.3507" stop-color="#ffff00"/><stop offset="0.3613" stop-color="#ff8000"/><stop offset="0.3719" stop-color="#ff0000"/><stop offset="0.3946" stop-color="#f50000"/><stop offset="0.4174" stop-color="#f50000"/><stop offset="0.4345" stop-color="#b80000"/><stop offset="0.4457" stop-color="#950000"/><stop offset="0.4581" stop-color="#b80000"/><stop offset="0.4687" stop-color="#eb0000"/><stop offset="0.4767" stop-color="#ff0000"/><stop offset="0.4987" stop-color="#ff8000"/><stop offset="0.5109" stop-color="#ffff00"/><stop offset="0.5168" stop-color="#afff00"/><stop offset="0.5219" stop-color="#5fff14"/><stop offset="0.5269" stop-color="#00fc46"/><stop offset="0.5320" stop-color="#00fe6f"/><stop offset="0.5351" stop-color="#00ff82"/><stop offset="0.5478" stop-color="#00ffc8"/><stop offset="0.5602" stop-color="#00ffff"/><stop offset="0.5994" stop-color="#0094ff"/><stop offset="0.6360" stop-color="#0070ff"/><stop offset="0.6583" stop-color="#007bff"/><stop offset="0.6922" stop-color="#0038ff"/><stop offset="0.7089" stop-color="#0019ff"/><stop offset="0.7260" stop-color="#000aff"/><stop offset="0.7412" stop-color="#0000ff"/><stop offset="0.7429" stop-color="#0000fe"/><stop offset="0.7654" stop-color="#0000f2"/><stop offset="0.7959" stop-color="#0000dc"/><stop offset="0.8675" stop-color="#0000be"/><stop offset="0.9939" stop-color="#0000b4"/></linearGradient>
<linearGradient id="h44"><stop offset="0.0061" stop-color="#00009a"/><stop offset="0.0550" stop-color="#0000cd"/><stop offset="0.0808" stop-color="#0000ff"/><stop offset="0.1044" stop-color="#0080ff"/><stop offset="0.1143" stop-color="#00ffff"/><stop offset="0.1173" stop-color="#00ffc8"/><stop offset="0.1204" stop-color="#00ff82"/><stop offset="0.1212" stop-color="#00fe6f"/><stop offset="0.1228" stop-color="#00fc46"/><stop offset="0.1245" stop-color="#5fff14"/><stop offset="0.1262" stop-color="#afff00"/><stop offset="0.1281" stop-color="#ffff00"/><stop offset="0.1413" stop-color="#ff3400"/><stop offset="0.1565" stop-color="#ff1100"/><stop offset="0.1684" stop-color="#ffff00"/><stop offset="0.1698" stop-color="#afff00"/><stop offset="0.1710" stop-color="#5fff14"/><stop offset="0.1722" stop-color="#00fc46"/><stop offset="0.1734" stop-color="#00fe6f"/><stop offset="0.1745" stop-color="#00ff82"/><stop offset="0.1790" stop-color="#00ffc8"/><stop offset="0.1835" stop-color="#00ffff"/><stop offset="0.1979" stop-color="#004dff"/><stop offset="0.2435" stop-color="#0017ff"/><stop offset="0.2860" stop-color="#0040ff"/><stop offset="0.3111" stop-color="#00b2ff"/><stop offset="0.3254" stop-color="#00ffff"/><stop offset="0.3315" stop-color="#00ffc8"/><stop offset="0.3377" stop-color="#00ff82"/><stop offset="0.3392" stop-color="#00fe6f"/><stop offset="0.3423" stop-color="#00fc46"/><stop offset="0.3454" stop-color="#5fff14"/><stop offset="0.3485" stop-color="#afff00"/><stop offset="0.3521" stop-color="#ffff00"/><stop offset="0.3627" stop-color="#ff8000"/><stop offset="0.3733" stop-color="#ff0000"/><stop offset="0.3958" stop-color="#f50000"/><stop offset="0.4186" stop-color="#f60000"/><stop offset="0.4362" stop-color="#b90000"/><stop offset="0.4475" stop-color="#950000"/><stop offset="0.4599" stop-color="#b90000"/><stop offset="0.4703" stop-color="#eb0000"/><stop offset="0.4782" stop-color="#ff0000"/><stop offset="0.4999" stop-color="#ff8000"/><stop offset="0.5123" stop-color="#ffff00"/><stop offset="0.5181" stop-color="#afff00"/><stop offset="0.5231" stop-color="#5fff14"/><stop offset="0.5281" stop-color="#00fc46"/><stop offset="0.5331" stop-color="#00fe6f"/><stop offset="0.5362" stop-color="#00ff82"/><stop offset="0.5489" stop-color="#00ffc8"/><stop offset="0.5613" stop-color="#00ffff"/><stop offset="0.6002" stop-color="#0094ff"/><stop offset="0.6364" stop-color="#0070ff"/><stop offset="0.6586" stop-color="#007bff"/><stop offset="0.6922" stop-color="#0038ff"/><stop offset="0.7089" stop-color="#0019ff"/><stop offset="0.7259" stop-color="#000aff"/><stop offset="0.7409" stop-color="#0000ff"/><stop offset="0.7426" stop-color="#0000fe"/><stop offset="0.7648" stop-color="#0000f2"/><stop offset="0.7948" stop-color="#0000dc"/><stop offset="0.8675" stop-color="#0000bd"/><stop offset="0.9939" stop-color="#0000b3"/></linearGradient>
<linearGradient id="h45"><stop offset="0.0061" stop-color="#000099"/><stop offset="0.0557" stop-color="#0000cd"/><stop offset="0.0815" stop-color="#0000ff"/><stop offset="0.1054" stop-color="#0080ff"/><stop offset="0.1153" stop-color="#00ffff"/><stop offset="0.1183" stop-color="#00ffc8"/><stop offset="0.1213" stop-color="#00ff82"/><stop offset="0.1221" stop-color="#00fe6f"/><stop offset="0.1237" stop-color="#00fc46"/><stop offset="0.1254" stop-color="#5fff14"/><stop offset="0.1270" stop-color="#afff00"/><stop offset="0.1289" stop-color="#ffff00"/><stop offset="0.1422" stop-color="#ff2f00"/><stop offset="0.1575" stop-color="#ff1500"/><stop offset="0.1691" stop-color="#ffff00"/><stop offset="0.1706" stop-color="#afff00"/><stop offset="0.1718" stop-color="#5fff14"/><stop offset="0.1730" stop-color="#00fc46"/><stop offset="0.1743" stop-color="#00fe6f"/><stop offset="0.1754" stop-color="#00ff82"/><stop offset="0.1797" stop-color="#00ffc8"/><stop offset="0.1840" stop-color="#00ffff"/><stop offset="0.1984" stop-color="#004dff"/><stop offset="0.2451" stop-color="#0016ff"/><stop offset="0.2875" stop-color="#003fff"/><stop offset="0.3125" stop-color="#00b2ff"/><stop offset="0.3269" stop-color="#00ffff"/><stop offset="0.3330" stop-color="#00ffc8"/><stop offset="0.3391" stop-color="#00ff82"/><stop offset="0.3406" stop-color="#00fe6f"/><stop offset="0.3437" stop-color="#00fc46"/><stop offset="0.3468" stop-color="#5fff14"/><stop offset="0.3499" stop-color="#afff00"/><stop offset="0.3534" stop-color="#ffff00"/><stop offset="0.3641" stop-color="#ff8000"/><stop offset="0.3747" stop-color="#ff0000"/><stop offset="0.3969" stop-color="#f50000"/><stop offset="0.4197" stop-color="#f70000"/><stop offset="0.4379" stop-color="#ba0000"/><stop offset="0.4493" stop-color="#960000"/><stop offset="0.4616" stop-color="#b90000"/><stop offset="0.4720" stop-color="#eb0000"/><stop offset="0.4798" stop-color="#ff0000"/><stop offset="0.5010" stop-color="#ff8000"/><stop offset="0.5136" stop-color="#ffff00"/><stop offset="0.5194" stop-color="#afff00"/><stop offset="0.5243" stop-color="#5fff14"/><stop offset="0.5293" stop-color="#00fc46"/><stop offset="0.5342" stop-color="#00fe6f"/><stop offset="0.5374" stop-color="#00ff82"/><stop offset="0.5500" stop-color="#00ffc8"/><stop offset="0.5624" stop-color="#00ffff"/><stop offset="0.6011" stop-color="#0094ff"/><stop offset="0.6367" stop-color="#0070ff"/><stop offset="0.6589" stop-color="#007bff"/><stop offset="0.6923" stop-color="#0038ff"/><stop offset="0.7089" stop-color="#0019ff"/><stop offset="0.7257" stop-color="#000aff"/><stop offset="0.7405" stop-color="#0000ff"/><stop offset="0.7423" stop-color="#0000fe"/><stop offset="0.7642" stop-color="#0000f2"/><stop offset="0.7939" stop-color="#0000dc"/><stop offset="0.8675" stop-color="#0000bd"/><stop offset="0.9939" stop-color="#0000b2"/></linearGradient>
<linearGradient id="h46"><stop offset="0.0061" stop-color="#000099"/><stop offset="0.0564" stop-color="#0000cd"/><stop offset="0.0823" stop-color="#0000ff"/><stop offset="0.1065" stop-color="#0080ff"/><stop offset="0.1164" stop-color="#00ffff"/><stop offset="0.1193" stop-color="#00ffc8"/><stop offset="0.1223" stop-color="#00ff82"/><stop offset="0.1230" stop-color="#00fe6f"/><stop offset="0.1246" stop-color="#00fc46"/><stop offset="0.1262" stop-color="#5fff14"/><stop offset="0.1278" stop-color="#afff00"/><stop offset="0.1297" stop-color="#ffff00"/><stop offset="0.1430" stop-color="#ff2c00"/><stop offset="0.1585" stop-color="#ff1b00"/><stop offset="0.1700" stop-color="#ffff00"/><stop offset="0.1715" stop-color="#afff00"/><stop offset="0.1727" stop-color="#5fff14"/><stop offset="0.1740" stop-color="#00fc46"/><stop offset="0.1752" stop-color="#00fe6f"/><stop offset="0.1763" stop-color="#00ff82"/><stop offset="0.1805" stop-color="#00ffc8"/><stop offset="0.1847" stop-color="#00ffff"/><stop offset="0.1990" stop-color="#004dff"/><stop offset="0.2467" stop-color="#0015ff"/><stop offset="0.2890" stop-color="#003eff"/><stop offset="0.3139" stop-color="#00b2ff"/><stop offset="0.3284" stop-color="#00ffff"/><stop offset="0.3344" stop-color="#00ffc8"/><stop offset="0.3406" stop-color="#00ff82"/><stop offset="0.3421" stop-color="#00fe6f"/><stop offset="0.3451" stop-color="#00fc46"/><stop offset="0.3482" stop-color="#5fff14"/><stop offset="0.3513" stop-color="#afff00"/><stop offset="0.3548" stop-color="#ffff00"/><stop offset="0.3654" stop-color="#ff8000"/><stop offset="0.3760" stop-color="#ff0000"/><stop offset="0.3980" stop-color="#f50000"/><stop offset="0.4208" stop-color="#f80000"/><stop offset="0.4396" stop-color="#bb0000"/><stop offset="0.4511" stop-color="#970000"/><stop offset="0.4634" stop-color="#ba0000"/><stop offset="0.4736" stop-color="#eb0000"/><stop offset="0.4813" stop-color="#ff0000"/><stop offset="0.5021" stop-color="#ff8000"/><stop offset="0.5150" stop-color="#ffff00"/><stop offset="0.5207" stop-color="#afff00"/><stop offset="0.5256" stop-color="#5fff14"/><stop offset="0.5305" stop-color="#00fc46"/><stop offset="0.5354" stop-color="#00fe6f"/><stop offset="0.5385" stop-color="#00ff82"/><stop offset="0.5512" stop-color="#00ffc8"/><stop offset="0.5636" stop-color="#00ffff"/><stop offset="0.6020" stop-color="#0094ff"/><stop offset="0.6370" stop-color="#0070ff"/><stop offset="0.6593" stop-color="#007cff"/><stop offset="0.6924" stop-color="#0038ff"/><stop offset="0.7089" stop-color="#0019ff"/><stop offset="0.7256" stop-color="#000aff"/><stop offset="0.7401" stop-color="#0000ff"/><stop offset="0.7420" stop-color="#0000fe"/><stop offset="0.7636" stop-color="#0000f2"/><stop offset="0.7930" stop-color="#0000dc"/><stop offset="0.8675" stop-color="#0000bc"/><stop offset="0.9939" stop-color="#0000b1"/></linearGradient>
<linearGradient id="h47"><stop offset="0.0061" stop-color="#000098"/><stop offset="0.0571" stop-color="#0000cd"/><stop offset="0.0830" stop-color="#0000ff"/><stop offset="0.1075" stop-color="#0080ff"/><stop offset="0.1174" stop-color="#00ffff"/><stop offset="0.1203" stop-color="#00ffc8"/><stop offset="0.1232" stop-color="#00ff82"/><stop offset="0.1240" stop-color="#00fe6f"/><stop offset="0.1255" stop-color="#00fc46"/><stop offset="0.1271" stop-color="#5fff14"/><stop offset="0.1287" stop-color="#afff00"/><stop offset="0.1305" stop-color="#ffff00"/><stop offset="0.1439" stop-color="#ff2900"/><stop offset="0.1595" stop-color="#ff2100"/><stop offset="0.1709" stop-color="#ffff00"/><stop offset="0.1724" stop-color="#afff00"/><stop offset="0.1737" stop-color="#5fff14"/><stop offset="0.1750" stop-color="#00fc46"/><stop offset="0.1763" stop-color="#00fe6f"/><stop offset="0.1773" stop-color="#00ff82"/><stop offset="0.1813" stop-color="#00ffc8"/><stop offset="0.1853" stop-color="#00ffff"/><stop offset="0.1997" stop-color="#004dff"/><stop offset="0.2484" stop-color="#0014ff"/><stop offset="0.2905" stop-color="#003dff"/><stop offset="0.3154" stop-color="#00b2ff"/><stop offset="0.3299" stop-color="#00ffff"/><stop offset="0.3359" stop-color="#00ffc8"/><stop offset="0.3420" stop-color="#00ff82"/><stop offset="0.3435" stop-color="#00fe6f"/><stop offset="0.3466" stop-color="#00fc46"/><stop offset="0.3496" stop-color="#5fff14"/><stop offset="0.3527" stop-color="#afff00"/><stop offset="0.3562" stop-color="#ffff00"/><stop offset="0.3668" stop-color="#ff8000"/><stop offset="0.3774" stop-color="#ff0000"/><stop offset="0.3991" stop-color="#f50000"/><stop offset="0.4218" stop-color="#f90000"/><stop offset="0.4413" stop-color="#bd0000"/><stop offset="0.4529" stop-color="#980000"/><stop offset="0.4652" stop-color="#bb0000"/><stop offset="0.4753" stop-color="#eb0000"/><stop offset="0.4829" stop-color="#ff0000"/><stop offset="0.5031" stop-color="#ff8000"/><stop offset="0.5164" stop-color="#ffff00"/><stop offset="0.5220" stop-color="#afff00"/><stop offset="0.5269" stop-color="#5fff14"/><stop offset="0.5318" stop-color="#00fc46"/><stop offset="0.5366" stop-color="#00fe6f"/><stop offset="0.5398" stop-color="#00ff82"/><stop offset="0.5524" stop-color="#00ffc8"/><stop offset="0.5647" stop-color="#00ffff"/><stop offset="0.6029" stop-color="#0094ff"/><stop offset="0.6373" stop-color="#0070ff"/><stop offset="0.6597" stop-color="#007cff"/><stop offset="0.6925" stop-color="#0038ff"/><stop offset="0.7089" stop-color="#0019ff"/><stop offset="0.7254" stop-color="#000aff"/><stop offset="0.7398" stop-color="#0000ff"/><stop offset="0.7417" stop-color="#0000fe"/><stop offset="0.7631" stop-color="#0000f2"/><stop offset="0.7922" stop-color="#0000dc"/><stop offset="0.8675" stop-color="#0000bb"/><stop offset="0.9939" stop-color="#0000b0"/></linearGradient>
<linearGradient id="h48"><stop offset="0.0061" stop-color="#000098"/><stop offset="0.0579" stop-color="#0000cd"/><stop offset="0.0838" stop-color="#0000ff"/><stop offset="0.1086" stop-color="#0080ff"/><stop offset="0.1185" stop-color="#00ffff"/><stop offset="0.1213" stop-color="#00ffc8"/><stop offset="0.1242" stop-color="#00ff82"/><stop offset="0.1249" stop-color="#00fe6f"/><stop offset="0.1264" stop-color="#00fc46"/><stop offset="0.1280" stop-color="#5fff14"/><stop offset="0.1295" stop-color="#afff00"/><stop offset="0.1313" stop-color="#ffff00"/><stop offset="0.1447" stop-color="#ff2600"/><stop offset="0.1605" stop-color="#ff2600"/><stop offset="0.1718" stop-color="#ffff00"/><stop offset="0.1733" stop-color="#afff00"/><stop offset="0.1746" stop-color="#5fff14"/><stop offset="0.1759" stop-color="#00fc46"/><stop offset="0.1773" stop-color="#00fe6f"/><stop offset="0.1782" stop-color="#00ff82"/><stop offset="0.1821" stop-color="#00ffc8"/><stop offset="0.1859" stop-color="#00ffff"/><stop offset="0.2003" stop-color="#004dff"/><stop offset="0.2501" stop-color="#0012ff"/><stop offset="0.2920" stop-color="#003cff"/><stop offset="0.3168" stop-color="#00b2ff"/><stop offset="0.3314" stop-color="#00ffff"/><stop offset="0.3374" stop-color="#00ffc8"/><stop offset="0.3435" stop-color="#00ff82"/><stop offset="0.3450" stop-color="#00fe6f"/><stop offset="0.3480" stop-color="#00fc46"/><stop offset="0.3510" stop-color="#5fff14"/><stop offset="0.3541" stop-color="#afff00"/><stop offset="0.3576" stop-color="#ffff00"/><stop offset="0.3682" stop-color="#ff8000"/><stop offset="0.3787" stop-color="#ff0000"/><stop offset="0.4002" stop-color="#f50000"/><stop offset="0.4228" stop-color="#fa0000"/><stop offset="0.4430" stop-color="#be0000"/><stop offset="0.4548" stop-color="#990000"/><stop offset="0.4670" stop-color="#bc0000"/><stop offset="0.4770" stop-color="#eb0000"/><stop offset="0.4844" stop-color="#ff0000"/><stop offset="0.5041" stop-color="#ff8000"/><stop offset="0.5177" stop-color="#ffff00"/><stop offset="0.5234" stop-color="#afff00"/><stop offset="0.5282" stop-color="#5fff14"/><stop offset="0.5331" stop-color="#00fc46"/><stop offset="0.5379" stop-color="#00fe6f"/><stop offset="0.5410" stop-color="#00ff82"/><stop offset="0.5536" stop-color="#00ffc8"/><stop offset="0.5659" stop-color="#00ffff"/><stop offset="0.6038" stop-color="#0094ff"/><stop offset="0.6375" stop-color="#0070ff"/><stop offset="0.6600" stop-color="#007cff"/><stop offset="0.6926" stop-color="#0038ff"/><stop offset="0.7089" stop-color="#0019ff"/><stop offset="0.7253" stop-color="#000aff"/><stop offset="0.7394" stop-color="#0000ff"/><stop offset="0.7414" stop-color="#0000fe"/><stop offset="0.7626" stop-color="#0000f2"/><stop offset="0.7915" stop-color="#0000dc"/><stop offset="0.8675" stop-color="#0000bb"/><stop offset="0.9939" stop-color="#0000af"/></linearGradient>
<linearGradient id="h49"><stop offset="0.0061" stop-color="#000097"/><stop offset="0.0586" stop-color="#0000cd"/><stop offset="0.0846" stop-color="#0000ff"/><stop offset="0.1096" stop-color="#0080ff"/><stop offset="0.1194" stop-color="#00ffff"/><stop offset="0.1222" stop-color="#00ffc8"/><stop offset="0.1251" stop-color="#00ff82"/><stop offset="0.1258" stop-color="#00fe6f"/><stop offset="0.1273" stop-color="#00fc46"/><stop offset="0.1288" stop-color="#5fff14"/><stop offset="0.1303" stop-color="#afff00"/><stop offset="0.1321" stop-color="#ffff00"/><stop offset="0.1455" stop-color="#ff2400"/><stop offset="0.1614" stop-color="#ff2900"/><stop offset="0.1726" stop-color="#ffff00"/><stop offset="0.1741" stop-color="#afff00"/><stop offset="0.1755" stop-color="#5fff14"/><stop offset="0.1768" stop-color="#00fc46"/><stop offset="0.1782" stop-color="#00fe6f"/><stop offset="0.1791" stop-color="#00ff82"/><stop offset="0.1829" stop-color="#00ffc8"/><stop offset="0.1866" stop-color="#00ffff"/><stop offset="0.2009" stop-color="#004dff"/><stop offset="0.2519" stop-color="#0011ff"/><stop offset="0.2935" stop-color="#003bff"/><stop offset="0.3182" stop-color="#00b2ff"/><stop offset="0.3329" stop-color="#00ffff"/><stop offset="0.3389" stop-color="#00ffc8"/><stop offset="0.3449" stop-color="#00ff82"/><stop offset="0.3464" stop-color="#00fe6f"/><stop offset="0.3494" stop-color="#00fc46"/><stop offset="0.3525" stop-color="#5fff14"/><stop offset="0.3555" stop-color="#afff00"/><stop offset="0.3590" stop-color="#ffff00"/><stop offset="0.3695" stop-color="#ff8000"/><stop offset="0.3801" stop-color="#ff0000"/><stop offset="0.4012" stop-color="#f50000"/><stop offset="0.4238" stop-color="#fa0000"/><stop offset="0.4447" stop-color="#c00000"/><stop offset="0.4566" stop-color="#9a0000"/><stop offset="0.4688" stop-color="#bd0000"/><stop offset="0.4787" stop-color="#ec0000"/><stop offset="0.4859" stop-color="#ff0000"/><stop offset="0.5051" stop-color="#ff8000"/><stop offset="0.5191" stop-color="#ffff00"/><stop offset="0.5248" stop-color="#afff00"/><stop offset="0.5296" stop-color="#5fff14"/><stop offset="0.5344" stop-color="#00fc46"/><stop offset="0.5392" stop-color="#00fe6f"/><stop offset="0.5423" stop-color="#00ff82"/><stop offset="0.5548" stop-color="#00ffc8"/><stop offset="0.5671" stop-color="#00ffff"/><stop offset="0.6047" stop-color="#0094ff"/><stop offset="0.6377" stop-color="#0070ff"/><stop offset="0.6604" stop-color="#007dff"/><stop offset="0.6927" stop-color="#0038ff"/><stop offset="0.7089" stop-color="#0019ff"/><stop offset="0.7251" stop-color="#000aff"/><stop offset="0.7391" stop-color="#0000ff"/><stop offset="0.7411" stop-color="#0000fe"/><stop offset="0.7621" stop-color="#0000f2"/><stop offset="0.7908" stop-color="#0000dc"/><stop offset="0.8675" stop-color="#0000ba"/><stop offset="0.9939" stop-color="#0000af"/></linearGradient>
<linearGradient id="h50"><stop offset="0.0061" stop-color="#000097"/><stop offset="0.0594" stop-color="#0000cd"/><stop offset="0.0854" stop-color="#0000ff"/><stop offset="0.1104" stop-color="#0080ff"/><stop offset="0.1203" stop-color="#00ffff"/><stop offset="0.1231" stop-color="#00ffc8"/><stop offset="0.1259" stop-color="#00ff82"/><stop offset="0.1266" stop-color="#00fe6f"/><stop offset="0.1281" stop-color="#00fc46"/><stop offset="0.1296" stop-color="#5fff14"/><stop offset="0.1311" stop-color="#afff00"/><stop offset="0.1329" stop-color="#ffff00"/><stop offset="0.1462" stop-color="#ff2300"/><stop offset="0.1622" stop-color="#ff2800"/><stop offset="0.1732" stop-color="#ffff00"/><stop offset="0.1748" stop-color="#afff00"/><stop offset="0.1762" stop-color="#5fff14"/><stop offset="0.1775" stop-color="#00fc46"/><stop offset="0.1789" stop-color="#00fe6f"/><stop offset="0.1798" stop-color="#00ff82"/><stop offset="0.1835" stop-color="#00ffc8"/><stop offset="0.1872" stop-color="#00ffff"/><stop offset="0.2015" stop-color="#004dff"/><stop offset="0.2536" stop-color="#0010ff"/><stop offset="0.2950" stop-color="#003aff"/><stop offset="0.3196" stop-color="#00b2ff"/><stop offset="0.3344" stop-color="#00ffff"/><stop offset="0.3403" stop-color="#00ffc8"/><stop offset="0.3464" stop-color="#00ff82"/><stop offset="0.3479" stop-color="#00fe6f"/><stop offset="0.3509" stop-color="#00fc46"/><stop offset="0.3539" stop-color="#5fff14"/><stop offset="0.3569" stop-color="#afff00"/><stop offset="0.3604" stop-color="#ffff00"/><stop offset="0.3709" stop-color="#ff8000"/><stop offset="0.3814" stop-color="#ff0000"/><stop offset="0.4023" stop-color="#f50000"/><stop offset="0.4248" stop-color="#fb0000"/><stop offset="0.4464" stop-color="#c20000"/><stop offset="0.4584" stop-color="#9b0000"/><stop offset="0.4707" stop-color="#bd0000"/><stop offset="0.4803" stop-color="#ec0000"/><stop offset="0.4875" stop-color="#ff0000"/><stop offset="0.5061" stop-color="#ff8000"/><stop offset="0.5206" stop-color="#ffff00"/><stop offset="0.5262" stop-color="#afff00"/><stop offset="0.5309" stop-color="#5fff14"/><stop offset="0.5357" stop-color="#00fc46"/><stop offset="0.5405" stop-color="#00fe6f"/><stop offset="0.5436" stop-color="#00ff82"/><stop offset="0.5561" stop-color="#00ffc8"/><stop offset="0.5683" stop-color="#00ffff"/><stop offset="0.6057" stop-color="#0094ff"/><stop offset="0.6380" stop-color="#0070ff"/><stop offset="0.6608" stop-color="#007dff"/><stop offset="0.6928" stop-color="#0038ff"/><stop offset="0.7089" stop-color="#0019ff"/><stop offset="0.7249" stop-color="#000aff"/><stop offset="0.7387" stop-color="#0000ff"/><stop offset="0.7409" stop-color="#0000fd"/><stop offset="0.7616" stop-color="#0000f2"/><stop offset="0.7901" stop-color="#0000dc"/><stop offset="0.8675" stop-color="#0000ba"/><stop offset="0.9939" stop-color="#0000ae"/></linearGradient>
<linearGradient id="h51"><stop offset="0.0061" stop-color="#000096"/><stop offset="0.0602" stop-color="#0000cd"/><stop offset="0.0861" stop-color="#0000ff"/><stop offset="0.1113" stop-color="#0080ff"/><stop offset="0.1212" stop-color="#00ffff"/><stop offset="0.1239" stop-color="#00ffc8"/><stop offset="0.1267" stop-color="#00ff82"/><stop offset="0.1274" stop-color="#00fe6f"/><stop offset="0.1289" stop-color="#00fc46"/><stop offset="0.1304" stop-color="#5fff14"/><stop offset="0.1319" stop-color="#afff00"/><stop offset="0.1337" stop-color="#ffff00"/><stop offset="0.1470" stop-color="#ff2200"/><stop offset="0.1630" stop-color="#ff2600"/><stop offset="0.1738" stop-color="#ffff00"/><stop offset="0.1754" stop-color="#afff00"/><stop offset="0.1768" stop-color="#5fff14"/><stop offset="0.1781" stop-color="#00fc46"/><stop offset="0.1795" stop-color="#00fe6f"/><stop offset="0.1804" stop-color="#00ff82"/><stop offset="0.1841" stop-color="#00ffc8"/><stop offset="0.1878" stop-color="#00ffff"/><stop offset="0.2021" stop-color="#004dff"/><stop offset="0.2554" stop-color="#000fff"/><stop offset="0.2965" stop-color="#0039ff"/><stop offset="0.3210" stop-color="#00b2ff"/><stop offset="0.3359" stop-color="#00ffff"/><stop offset="0.3418" stop-color="#00ffc8"/><stop offset="0.3478" stop-color="#00ff82"/><stop offset="0.3493" stop-color="#00fe6f"/><stop offset="0.3523" stop-color="#00fc46"/><stop offset="0.3553" stop-color="#5fff14"/><stop offset="0.3583" stop-color="#afff00"/><stop offset="0.3618" stop-color="#ffff00"/><stop offset="0.3723" stop-color="#ff8000"/><stop offset="0.3827" stop-color="#ff0000"/><stop offset="0.4033" stop-color="#f50000"/><stop offset="0.4258" stop-color="#fc0000"/><stop offset="0.4482" stop-color="#c40000"/><stop offset="0.4603" stop-color="#9c0000"/><stop offset="0.4725" stop-color="#be0000"/><stop offset="0.4820" stop-color="#ec0000"/><stop offset="0.4890" stop-color="#ff0000"/><stop offset="0.5070" stop-color="#ff8000"/><stop offset="0.5220" stop-color="#ffff00"/><stop offset="0.5276" stop-color="#afff00"/><stop offset="0.5323" stop-color="#5fff14"/><stop offset="0.5371" stop-color="#00fc46"/><stop offset="0.5419" stop-color="#00fe6f"/><stop offset="0.5450" stop-color="#00ff82"/><stop offset="0.5573" stop-color="#00ffc8"/><stop offset="0.5695" stop-color="#00ffff"/><stop offset="0.6066" stop-color="#0094ff"/><stop offset="0.6382" stop-color="#0070ff"/><stop offset="0.6612" stop-color="#007dff"/><stop offset="0.6930" stop-color="#0038ff"/><stop offset="0.7089" stop-color="#0019ff"/><stop offset="0.7248" stop-color="#000aff"/><stop offset="0.7384" stop-color="#0000ff"/><stop offset="0.7406" stop-color="#0000fd"/><stop offset="0.7612" stop-color="#0000f2"/><stop offset="0.7895" stop-color="#0000dc"/><stop offset="0.8675" stop-color="#0000b9"/><stop offset="0.9939" stop-color="#0000ad"/></linearGradient>
<linearGradient id="h52"><stop offset="0.0061" stop-color="#000096"/><stop offset="0.0609" stop-color="#0000cd"/><stop offset="0.0869" stop-color="#0000ff"/><stop offset="0.1121" stop-color="#0080ff"/><stop offset="0.1220" stop-color="#00ffff"/><stop offset="0.1247" stop-color="#00ffc8"/><stop offset="0.1275" stop-color="#00ff82"/><stop offset="0.1282" stop-color="#00fe6f"/><stop offset="0.1297" stop-color="#00fc46"/><stop offset="0.1312" stop-color="#5fff14"/><stop offset="0.1327" stop-color="#afff00"/><stop offset="0.1345" stop-color="#ffff00"/><stop offset="0.1477" stop-color="#ff2100"/><stop offset="0.1637" stop-color="#ff2200"/><stop offset="0.1744" stop-color="#ffff00"/><stop offset="0.1760" stop-color="#afff00"/><stop offset="0.1773" stop-color="#5fff14"/><stop offset="0.1787" stop-color="#00fc46"/><stop offset="0.1801" stop-color="#00fe6f"/><stop offset="0.1810" stop-color="#00ff82"/><stop offset="0.1847" stop-color="#00ffc8"/><stop offset="0.1884" stop-color="#00ffff"/><stop offset="0.2026" stop-color="#004dff"/><stop offset="0.2572" stop-color="#000eff"/><stop offset="0.2980" stop-color="#0038ff"/><stop offset="0.3224" stop-color="#00b2ff"/><stop offset="0.3374" stop-color="#00ffff"/><stop offset="0.3433" stop-color="#00ffc8"/><stop offset="0.3493" stop-color="#00ff82"/><stop offset="0.3508" stop-color="#00fe6f"/><stop offset="0.3537" stop-color="#00fc46"/><stop offset="0.3567" stop-color="#5fff14"/><stop offset="0.3597" stop-color="#afff00"/><stop offset="0.3632" stop-color="#ffff00"/><stop offset="0.3736" stop-color="#ff8000"/><stop offset="0.3841" stop-color="#ff0000"/><stop offset="0.4043" stop-color="#f50000"/><stop offset="0.4267" stop-color="#fe0000"/><stop offset="0.4498" stop-color="#c60000"/><stop offset="0.4621" stop-color="#9d0000"/><stop offset="0.4743" stop-color="#c00000"/><stop offset="0.4837" stop-color="#ec0000"/><stop offset="0.4905" stop-color="#ff0000"/><stop offset="0.5080" stop-color="#ff8000"/><stop offset="0.5234" stop-color="#ffff00"/><stop offset="0.5290" stop-color="#afff00"/><stop offset="0.5337" stop-color="#5fff14"/><stop offset="0.5385" stop-color="#00fc46"/><stop offset="0.5433" stop-color="#00fe6f"/><stop offset="0.5464" stop-color="#00ff82"/><stop offset="0.5586" stop-color="#00ffc8"/><stop offset="0.5707" stop-color="#00ffff"/><stop offset="0.6076" stop-color="#0094ff"/><stop offset="0.6384" stop-color="#0070ff"/><stop offset="0.6616" stop-color="#007eff"/><stop offset="0.6931" stop-color="#0038ff"/><stop offset="0.7089" stop-color="#0019ff"/><stop offset="0.7246" stop-color="#000aff"/><stop offset="0.7381" stop-color="#0000ff"/><stop offset="0.7403" stop-color="#0000fd"/><stop offset="0.7608" stop-color="#0000f2"/><stop offset="0.7890" stop-color="#0000dc"/><stop offset="0.8675" stop-color="#0000b9"/><stop offset="0.9939" stop-color="#0000ad"/></linearGradient>
<linearGradient id="h53"><stop offset="0.0061" stop-color="#000096"/><stop offset="0.0617" stop-color="#0000cd"/><stop offset="0.0877" stop-color="#0000ff"/><stop offset="0.1129" stop-color="#0080ff"/><stop offset="0.1227" stop-color="#00ffff"/><stop offset="0.1255" stop-color="#00ffc8"/><stop offset="0.1283" stop-color="#00ff82"/><stop offset="0.1290" stop-color="#00fe6f"/><stop offset="0.1305" stop-color="#00fc46"/><stop offset="0.1320" stop-color="#5fff14"/><stop offset="0.1335" stop-color="#afff00"/><stop offset="0.1353" stop-color="#ffff00"/><stop offset="0.1484" stop-color="#ff2000"/><stop offset="0.1644" stop-color="#ff1d00"/><stop offset="0.1749" stop-color="#ffff00"/><stop offset="0.1765" stop-color="#afff00"/><stop offset="0.1779" stop-color="#5fff14"/><stop offset="0.1792" stop-color="#00fc46"/><stop offset="0.1806" stop-color="#00fe6f"/><stop offset="0.1815" stop-color="#00ff82"/><stop offset="0.1853" stop-color="#00ffc8"/><stop offset="0.1889" stop-color="#00ffff"/><stop offset="0.2032" stop-color="#004dff"/><stop offset="0.2590" stop-color="#000dff"/><stop offset="0.2995" stop-color="#0037ff"/><stop offset="0.3239" stop-color="#00b2ff"/><stop offset="0.3389" stop-color="#00ffff"/><stop offset="0.3448" stop-color="#00ffc8"/><stop offset="0.3507" stop-color="#00ff82"/><stop offset="0.3522" stop-color="#00fe6f"/><stop offset="0.3552" stop-color="#00fc46"/><stop offset="0.3581" stop-color="#5fff14"/><stop offset="0.3611" stop-color="#afff00"/><stop offset="0.3646" stop-color="#ffff00"/><stop offset="0.3750" stop-color="#ff8000"/><stop offset="0.3854" stop-color="#ff0000"/><stop offset="0.4053" stop-color="#f50000"/><stop offset="0.4277" stop-color="#ff0000"/><stop offset="0.4515" stop-color="#c80000"/><stop offset="0.4639" stop-color="#9f0000"/><stop offset="0.4761" stop-color="#c10000"/><stop offset="0.4853" stop-color="#ed0000"/><stop offset="0.4921" stop-color="#ff0000"/><stop offset="0.5089" stop-color="#ff8000"/><stop offset="0.5248" stop-color="#ffff00"/><stop offset="0.5304" stop-color="#afff00"/><stop offset="0.5352" stop-color="#5fff14"/><stop offset="0.5399" stop-color="#00fc46"/><stop offset="0.5447" stop-color="#00fe6f"/><stop offset="0.5478" stop-color="#00ff82"/><stop offset="0.5599" stop-color="#00ffc8"/><stop offset="0.5719" stop-color="#00ffff"/><stop offset="0.6086" stop-color="#0094ff"/><stop offset="0.6386" stop-color="#0070ff"/><stop offset="0.6621" stop-color="#007eff"/><stop offset="0.6933" stop-color="#0038ff"/><stop offset="0.7089" stop-color="#0019ff"/><stop offset="0.7244" stop-color="#000aff"/><stop offset="0.7378" stop-color="#0000ff"/><stop offset="0.7401" stop-color="#0000fd"/><stop offset="0.7603" stop-color="#0000f2"/><stop offset="0.7884" stop-color="#0000dc"/><stop offset="0.8675" stop-color="#0000b8"/><stop offset="0.9939" stop-color="#0000ac"/></linearGradient>
<linearGradient id="h54"><stop offset="0.0061" stop-color="#000095"/><stop offset="0.0626" stop-color="#0000cd"/><stop offset="0.0885" stop-color="#0000ff"/><stop offset="0.1136" stop-color="#0080ff"/><stop offset="0.1235" stop-color="#00ffff"/><stop offset="0.1263" stop-color="#00ffc8"/><stop offset="0.1291" stop-color="#00ff82"/><stop offset="0.1298" stop-color="#00fe6f"/><stop offset="0.1313" stop-color="#00fc46"/><stop offset="0.1328" stop-color="#5fff14"/><stop offset="0.1343" stop-color="#afff00"/><stop offset="0.1361" stop-color="#ffff00"/><stop offset="0.1491" stop-color="#ff1f00"/><stop offset="0.1651" stop-color="#ff1900"/><stop offset="0.1755" stop-color="#ffff00"/><stop offset="0.1771" stop-color="#afff00"/><stop offset="0.1785" stop-color="#5fff14"/><stop offset="0.1798" stop-color="#00fc46"/><stop offset="0.1812" stop-color="#00fe6f"/><stop offset="0.1821" stop-color="#00ff82"/><stop offset="0.1859" stop-color="#00ffc8"/><stop offset="0.1895" stop-color="#00ffff"/><stop offset="0.2038" stop-color="#004dff"/><stop offset="0.2608" stop-color="#000cff"/><stop offset="0.3010" stop-color="#0036ff"/><stop offset="0.3253" stop-color="#00b2ff"/><stop offset="0.3404" stop-color="#00ffff"/><stop offset="0.3462" stop-color="#00ffc8"/><stop offset="0.3522" stop-color="#00ff82"/><stop offset="0.3536" stop-color="#00fe6f"/><stop offset="0.3566" stop-color="#00fc46"/><stop offset="0.3596" stop-color="#5fff14"/><stop offset="0.3625" stop-color="#afff00"/><stop offset="0.3660" stop-color="#ffff00"/><stop offset="0.3763" stop-color="#ff8000"/><stop offset="0.3867" stop-color="#ff0000"/><stop offset="0.4064" stop-color="#f50000"/><stop offset="0.4273" stop-color="#ff0000"/><stop offset="0.4286" stop-color="#ff0100"/><stop offset="0.4289" stop-color="#ff0000"/><stop offset="0.4532" stop-color="#ca0000"/><stop offset="0.4657" stop-color="#a00000"/><stop offset="0.4779" stop-color="#c20000"/><stop offset="0.4870" stop-color="#ed0000"/><stop offset="0.4936" stop-color="#ff0000"/><stop offset="0.5098" stop-color="#ff8000"/><stop offset="0.5262" stop-color="#ffff00"/><stop offset="0.5318" stop-color="#afff00"/><stop offset="0.5366" stop-color="#5fff14"/><stop offset="0.5414" stop-color="#00fc46"/><stop offset="0.5461" stop-color="#00fe6f"/><stop offset="0.5492" stop-color="#00ff82"/><stop offset="0.5613" stop-color="#00ffc8"/><stop offset="0.5731" stop-color="#00ffff"/><stop offset="0.6096" stop-color="#0094ff"/><stop offset="0.6388" stop-color="#0070ff"/><stop offset="0.6625" stop-color="#007fff"/><stop offset="0.6934" stop-color="#0038ff"/><stop offset="0.7089" stop-color="#0019ff"/><stop offset="0.7243" stop-color="#000aff"/><stop offset="0.7375" stop-color="#0000ff"/><stop offset="0.7398" stop-color="#0000fd"/><stop offset="0.7599" stop-color="#0000f2"/><stop offset="0.7879" stop-color="#0000dc"/><stop offset="0.8675" stop-color="#0000b8"/><stop offset="0.9939" stop-color="#0000ac"/></linearGradient>
<linearGradient id="h55"><stop offset="0.0061" stop-color="#000095"/><stop offset="0.0634" stop-color="#0000cd"/><stop offset="0.0893" stop-color="#0000ff"/><stop offset="0.1144" stop-color="#0080ff"/><stop offset="0.1243" stop-color="#00ffff"/><stop offset="0.1271" stop-color="#00ffc8"/><stop offset="0.1299" stop-color="#00ff82"/><stop offset="0.1306" stop-color="#00fe6f"/><stop offset="0.1321" stop-color="#00fc46"/><stop offset="0.1336" stop-color="#5fff14"/><stop offset="0.1351" stop-color="#afff00"/><stop offset="0.1369" stop-color="#ffff00"/><stop offset="0.1498" stop-color="#ff1f00"/><stop offset="0.1658" stop-color="#ff1600"/><stop offset="0.1762" stop-color="#ffff00"/><stop offset="0.1777" stop-color="#afff00"/><stop offset="0.1791" stop-color="#5fff14"/><stop offset="0.1805" stop-color="#00fc46"/><stop offset="0.1818" stop-color="#00fe6f"/><stop offset="0.1827" stop-color="#00ff82"/><stop offset="0.1865" stop-color="#00ffc8"/><stop offset="0.1902" stop-color="#00ffff"/><stop offset="0.2044" stop-color="#004dff"/><stop offset="0.2625" stop-color="#000bff"/><stop offset="0.3024" stop-color="#0035ff"/><stop offset="0.3267" stop-color="#00b2ff"/><stop offset="0.3419" stop-color="#00ffff"/><stop offset="0.3477" stop-color="#00ffc8"/><stop offset="0.3536" stop-color="#00ff82"/><stop offset="0.3551" stop-color="#00fe6f"/><stop offset="0.3580" stop-color="#00fc46"/><stop offset="0.3610" stop-color="#5fff14"/><stop offset="0.3639" stop-color="#afff00"/><stop offset="0.3674" stop-color="#ffff00"/><stop offset="0.3777" stop-color="#ff8000"/><stop offset="0.3880" stop-color="#ff0000"/><stop offset="0.4074" stop-color="#f50000"/><stop offset="0.4264" stop-color="#ff0000"/><stop offset="0.4296" stop-color="#ff0200"/><stop offset="0.4304" stop-color="#ff0000"/><stop offset="0.4548" stop-color="#cc0000"/><stop offset="0.4675" stop-color="#a10000"/><stop offset="0.4796" stop-color="#c30000"/><stop offset="0.4886" stop-color="#ed0000"/><stop offset="0.4951" stop-color="#ff0000"/><stop offset="0.5108" stop-color="#ff8000"/><stop offset="0.5277" stop-color="#ffff00"/><stop offset="0.5332" stop-color="#afff00"/><stop offset="0.5380" stop-color="#5fff14"/><stop offset="0.5428" stop-color="#00fc46"/><stop offset="0.5476" stop-color="#00fe6f"/><stop offset="0.5506" stop-color="#00ff82"/><stop offset="0.5626" stop-color="#00ffc8"/><stop offset="0.5744" stop-color="#00ffff"/><stop offset="0.6106" stop-color="#0094ff"/><stop offset="0.6390" stop-color="#0070ff"/><stop offset="0.6629" stop-color="#007fff"/><stop offset="0.6936" stop-color="#0038ff"/><stop offset="0.7089" stop-color="#0019ff"/><stop offset="0.7241" stop-color="#000aff"/><stop offset="0.7372" stop-color="#0000ff"/><stop offset="0.7396" stop-color="#0000fd"/><stop offset="0.7595" stop-color="#0000f2"/><stop offset="0.7874" stop-color="#0000dc"/><stop offset="0.8675" stop-color="#0000b8"/><stop offset="0.9939" stop-color="#0000ab"/></linearGradient>
<linearGradient id="h56"><stop offset="0.0061" stop-color="#000094"/><stop offset="0.0642" stop-color="#0000cd"/><stop offset="0.0902" stop-color="#0000ff"/><stop offset="0.1152" stop-color="#0080ff"/><stop offset="0.1251" stop-color="#00ffff"/><stop offset="0.1279" stop-color="#00ffc8"/><stop offset="0.1307" stop-color="#00ff82"/><stop offset="0.1314" stop-color="#00fe6f"/><stop offset="0.1329" stop-color="#00fc46"/><stop offset="0.1344" stop-color="#5fff14"/><stop offset="0.1359" stop-color="#afff00"/><stop offset="0.1377" stop-color="#ffff00"/><stop offset="0.1506" stop-color="#ff1f00"/><stop offset="0.1666" stop-color="#ff1400"/><stop offset="0.1769" stop-color="#ffff00"/><stop offset="0.1785" stop-color="#afff00"/><stop offset="0.1798" stop-color="#5fff14"/><stop offset="0.1812" stop-color="#00fc46"/><stop offset="0.1825" stop-color="#00fe6f"/><stop offset="0.1835" stop-color="#00ff82"/><stop offset="0.1872" stop-color="#00ffc8"/><stop offset="0.1909" stop-color="#00ffff"/><stop offset="0.2051" stop-color="#004dff"/><stop offset="0.2642" stop-color="#000aff"/><stop offset="0.3039" stop-color="#0034ff"/><stop offset="0.3280" stop-color="#00b2ff"/><stop offset="0.3433" stop-color="#00ffff"/><stop offset="0.3491" stop-color="#00ffc8"/><stop offset="0.3550" stop-color="#00ff82"/><stop offset="0.3565" stop-color="#00fe6f"/><stop offset="0.3595" stop-color="#00fc46"/><stop offset="0.3624" stop-color="#5fff14"/><stop offset="0.3653" stop-color="#afff00"/><stop offset="0.3688" stop-color="#ffff00"/><stop offset="0.3790" stop-color="#ff8000"/><stop offset="0.3893" stop-color="#ff0000"/><stop offset="0.4084" stop-color="#f50000"/><stop offset="0.4258" stop-color="#ff0000"/><stop offset="0.4305" stop-color="#ff0300"/><stop offset="0.4319" stop-color="#ff0000"/><stop offset="0.4564" stop-color="#ce0000"/><stop offset="0.4692" stop-color="#a30000"/><stop offset="0.4814" stop-color="#c40000"/><stop offset="0.4902" stop-color="#ee0000"/><stop offset="0.4966" stop-color="#ff0000"/><stop offset="0.5117" stop-color="#ff8000"/><stop offset="0.5291" stop-color="#ffff00"/><stop offset="0.5347" stop-color="#afff00"/><stop offset="0.5395" stop-color="#5fff14"/><stop offset="0.5442" stop-color="#00fc46"/><stop offset="0.5490" stop-color="#00fe6f"/><stop offset="0.5520" stop-color="#00ff82"/><stop offset="0.5639" stop-color="#00ffc8"/><stop offset="0.5756" stop-color="#00ffff"/><stop offset="0.6116" stop-color="#0094ff"/><stop offset="0.6392" stop-color="#0070ff"/><stop offset="0.6634" stop-color="#0080ff"/><stop offset="0.6938" stop-color="#0038ff"/><stop offset="0.7089" stop-color="#0019ff"/><stop offset="0.7240" stop-color="#000aff"/><stop offset="0.7369" stop-color="#0000ff"/><stop offset="0.7393" stop-color="#0000fd"/><stop offset="0.7591" stop-color="#0000f2"/><stop offset="0.7869" stop-color="#0000dc"/><stop offset="0.8675" stop-color="#0000b7"/><stop offset="0.9939" stop-color="#0000aa"/></linearGradient>
<linearGradient id="h57"><stop offset="0.0061" stop-color="#000094"/><stop offset="0.0651" stop-color="#0000cd"/><stop offset="0.0910" stop-color="#0000ff"/><stop offset="0.1160" stop-color="#0080ff"/><stop offset="0.1259" stop-color="#00ffff"/><stop offset="0.1287" stop-color="#00ffc8"/><stop offset="0.1315" stop-color="#00ff82"/><stop offset="0.1322" stop-color="#00fe6f"/><stop offset="0.1337" stop-color="#00fc46"/><stop offset="0.1353" stop-color="#5fff14"/><stop offset="0.1368" stop-color="#afff00"/><stop offset="0.1385" stop-color="#ffff00"/><stop offset="0.1515" stop-color="#ff1f00"/><stop offset="0.1674" stop-color="#ff1300"/><stop offset="0.1778" stop-color="#ffff00"/><stop offset="0.1794" stop-color="#afff00"/><stop offset="0.1807" stop-color="#5fff14"/><stop offset="0.1821" stop-color="#00fc46"/><stop offset="0.1834" stop-color="#00fe6f"/><stop offset="0.1843" stop-color="#00ff82"/><stop offset="0.1880" stop-color="#00ffc8"/><stop offset="0.1916" stop-color="#00ffff"/><stop offset="0.2058" stop-color="#004dff"/><stop offset="0.2659" stop-color="#0009ff"/><stop offset="0.3053" stop-color="#0033ff"/><stop offset="0.3294" stop-color="#00b2ff"/><stop offset="0.3448" stop-color="#00ffff"/><stop offset="0.3506" stop-color="#00ffc8"/><stop offset="0.3565" stop-color="#00ff82"/><stop offset="0.3579" stop-color="#00fe6f"/><stop offset="0.3609" stop-color="#00fc46"/><stop offset="0.3638" stop-color="#5fff14"/><stop offset="0.3667" stop-color="#afff00"/><stop offset="0.3702" stop-color="#ffff00"/><stop offset="0.3804" stop-color="#ff8000"/><stop offset="0.3906" stop-color="#ff0000"/><stop offset="0.4094" stop-color="#f50000"/><stop offset="0.4254" stop-color="#ff0000"/><stop offset="0.4315" stop-color="#ff0400"/><stop offset="0.4335" stop-color="#ff0000"/><stop offset="0.4580" stop-color="#d00000"/><stop offset="0.4710" stop-color="#a40000"/><stop offset="0.4831" stop-color="#c50000"/><stop offset="0.4918" stop-color="#ee0000"/><stop offset="0.4981" stop-color="#ff0000"/><stop offset="0.5127" stop-color="#ff8000"/><stop offset="0.5305" stop-color="#ffff00"/><stop offset="0.5361" stop-color="#afff00"/><stop offset="0.5409" stop-color="#5fff14"/><stop offset="0.5457" stop-color="#00fc46"/><stop offset="0.5504" stop-color="#00fe6f"/><stop offset="0.5534" stop-color="#00ff82"/><stop offset="0.5652" stop-color="#00ffc8"/><stop offset="0.5769" stop-color="#00ffff"/><stop offset="0.6126" stop-color="#0094ff"/><stop offset="0.6394" stop-color="#0070ff"/><stop offset="0.6638" stop-color="#0080ff"/><stop offset="0.6940" stop-color="#0038ff"/><stop offset="0.7089" stop-color="#0019ff"/><stop offset="0.7238" stop-color="#000aff"/><stop offset="0.7367" stop-color="#0000ff"/><stop offset="0.7391" stop-color="#0000fd"/><stop offset="0.7587" stop-color="#0000f2"/><stop offset="0.7864" stop-color="#0000dc"/><stop offset="0.8675" stop-color="#0000b7"/><stop offset="0.9939" stop-color="#0000aa"/></linearGradient>
<linearGradient id="h58"><stop offset="0.0061" stop-color="#000093"/><stop offset="0.0659" stop-color="#0000cd"/><stop offset="0.0918" stop-color="#0000ff"/><stop offset="0.1168" stop-color="#0080ff"/><stop offset="0.1267" stop-color="#00ffff"/><stop offset="0.1295" stop-color="#00ffc8"/><stop offset="0.1323" stop-color="#00ff82"/><stop offset="0.1330" stop-color="#00fe6f"/><stop offset="0.1346" stop-color="#00fc46"/><stop offset="0.1361" stop-color="#5fff14"/><stop offset="0.1376" stop-color="#afff00"/><stop offset="0.1394" stop-color="#ffff00"/><stop offset="0.1523" stop-color="#ff1f00"/><stop offset="0.1682" stop-color="#ff1200"/><stop offset="0.1788" stop-color="#ffff00"/><stop offset="0.1804" stop-color="#afff00"/><stop offset="0.1817" stop-color="#5fff14"/><stop offset="0.1830" stop-color="#00fc46"/><stop offset="0.1844" stop-color="#00fe6f"/><stop offset="0.1852" stop-color="#00ff82"/><stop offset="0.1888" stop-color="#00ffc8"/><stop offset="0.1923" stop-color="#00ffff"/><stop offset="0.2065" stop-color="#004dff"/><stop offset="0.2675" stop-color="#0008ff"/><stop offset="0.3067" stop-color="#0032ff"/><stop offset="0.3308" stop-color="#00b2ff"/><stop offset="0.3462" stop-color="#00ffff"/><stop offset="0.3520" stop-color="#00ffc8"/><stop offset="0.3579" stop-color="#00ff82"/><stop offset="0.3594" stop-color="#00fe6f"/><stop offset="0.3623" stop-color="#00fc46"/><stop offset="0.3652" stop-color="#5fff14"/><stop offset="0.3681" stop-color="#afff00"/><stop offset="0.3716" stop-color="#ffff00"/><stop offset="0.3817" stop-color="#ff8000"/><stop offset="0.3919" stop-color="#ff0000"/><stop offset="0.4104" stop-color="#f50000"/><stop offset="0.4253" stop-color="#ff0000"/><stop offset="0.4325" stop-color="#ff0500"/><stop offset="0.4351" stop-color="#ff0000"/><stop offset="0.4596" stop-color="#d20000"/><stop offset="0.4726" stop-color="#a60000"/><stop offset="0.4848" stop-color="#c60000"/><stop offset="0.4934" stop-color="#ee0000"/><stop offset="0.4996" stop-color="#ff0000"/><stop offset="0.5137" stop-color="#ff8000"/><stop offset="0.5320" stop-color="#ffff00"/><stop offset="0.5375" stop-color="#afff00"/><stop offset="0.5423" stop-color="#5fff14"/><stop offset="0.5471" stop-color="#00fc46"/><stop offset="0.5519" stop-color="#00fe6f"/><stop offset="0.5548" stop-color="#00ff82"/><stop offset="0.5666" stop-color="#00ffc8"/><stop offset="0.5781" stop-color="#00ffff"/><stop offset="0.6135" stop-color="#0094ff"/><stop offset="0.6397" stop-color="#0070ff"/><stop offset="0.6643" stop-color="#0081ff"/><stop offset="0.6941" stop-color="#0038ff"/><stop offset="0.7089" stop-color="#0019ff"/><stop offset="0.7237" stop-color="#000aff"/><stop offset="0.7364" stop-color="#0000ff"/><stop offset="0.7389" stop-color="#0000fd"/><stop offset="0.7583" stop-color="#0000f2"/><stop offset="0.7859" stop-color="#0000dc"/><stop offset="0.8675" stop-color="#0000b6"/><stop offset="0.9939" stop-color="#0000a9"/></linearGradient>
<linearGradient id="h59"><stop offset="0.0061" stop-color="#000093"/><stop offset="0.0668" stop-color="#0000cd"/><stop offset="0.0926" stop-color="#0000ff"/><stop offset="0.1176" stop-color="#0080ff"/><stop offset="0.1275" stop-color="#00ffff"/><stop offset="0.1303" stop-color="#00ffc8"/><stop offset="0.1332" stop-color="#00ff82"/><stop offset="0.1339" stop-color="#00fe6f"/><stop offset="0.1354" stop-color="#00fc46"/><stop offset="0.1369" stop-color="#5fff14"/><stop offset="0.1385" stop-color="#afff00"/><stop offset="0.1402" stop-color="#ffff00"/><stop offset="0.1532" stop-color="#ff1f00"/><stop offset="0.1690" stop-color="#ff1100"/><stop offset="0.1799" stop-color="#ffff00"/><stop offset="0.1814" stop-color="#afff00"/><stop offset="0.1827" stop-color="#5fff14"/><stop offset="0.1841" stop-color="#00fc46"/><stop offset="0.1854" stop-color="#00fe6f"/><stop offset="0.1862" stop-color="#00ff82"/><stop offset="0.1897" stop-color="#00ffc8"/><stop offset="0.1931" stop-color="#00ffff"/><stop offset="0.2073" stop-color="#004dff"/><stop offset="0.2690" stop-color="#0008ff"/><stop offset="0.3081" stop-color="#0031ff"/><stop offset="0.3322" stop-color="#00b2ff"/><stop offset="0.3476" stop-color="#00ffff"/><stop offset="0.3534" stop-color="#00ffc8"/><stop offset="0.3593" stop-color="#00ff82"/><stop offset="0.3608" stop-color="#00fe6f"/><stop offset="0.3637" stop-color="#00fc46"/><stop offset="0.3666" stop-color="#5fff14"/><stop offset="0.3696" stop-color="#afff00"/><stop offset="0.3730" stop-color="#ffff00"/><stop offset="0.3831" stop-color="#ff8000"/><stop offset="0.3932" stop-color="#ff0000"/><stop offset="0.4115" stop-color="#f50000"/><stop offset="0.4254" stop-color="#ff0000"/><stop offset="0.4335" stop-color="#ff0600"/><stop offset="0.4369" stop-color="#ff0000"/><stop offset="0.4611" stop-color="#d40000"/><stop offset="0.4743" stop-color="#a70000"/><stop offset="0.4864" stop-color="#c70000"/><stop offset="0.4950" stop-color="#ee0000"/><stop offset="0.5011" stop-color="#ff0000"/><stop offset="0.5147" stop-color="#ff8000"/><stop offset="0.5334" stop-color="#ffff00"/><stop offset="0.5389" stop-color="#afff00"/><stop offset="0.5437" stop-color="#5fff14"/><stop offset="0.5485" stop-color="#00fc46"/><stop offset="0.5533" stop-color="#00fe6f"/><stop offset="0.5562" stop-color="#00ff82"/><stop offset="0.5679" stop-color="#00ffc8"/><stop offset="0.5793" stop-color="#00ffff"/><stop offset="0.6145" stop-color="#0094ff"/><stop offset="0.6399" stop-color="#0070ff"/><stop offset="0.6647" stop-color="#0081ff"/><stop offset="0.6943" stop-color="#0038ff"/><stop offset="0.7089" stop-color="#0019ff"/><stop offset="0.7236" stop-color="#000aff"/><stop offset="0.7362" stop-color="#0000ff"/><stop offset="0.7386" stop-color="#0000fd"/><stop offset="0.7579" stop-color="#0000f2"/><stop offset="0.7854" stop-color="#0000dc"/><stop offset="0.8675" stop-color="#0000b6"/><stop offset="0.9939" stop-color="#0000a9"/></linearGradient>
<linearGradient id="h60"><stop offset="0.0061" stop-color="#000092"/><stop offset="0.0676" stop-color="#0000cd"/><stop offset="0.0935" stop-color="#0000ff"/><stop offset="0.1184" stop-color="#0080ff"/><stop offset="0.1283" stop-color="#00ffff"/><stop offset="0.1311" stop-color="#00ffc8"/><stop offset="0.1340" stop-color="#00ff82"/><stop offset="0.1347" stop-color="#00fe6f"/><stop offset="0.1362" stop-color="#00fc46"/><stop offset="0.1378" stop-color="#5fff14"/><stop offset="0.1393" stop-color="#afff00"/><stop offset="0.1411" stop-color="#ffff00"/><stop offset="0.1541" stop-color="#ff1f00"/><stop offset="0.1699" stop-color="#ff1000"/><stop offset="0.1810" stop-color="#ffff00"/><stop offset="0.1825" stop-color="#afff00"/><stop offset="0.1838" stop-color="#5fff14"/><stop offset="0.1851" stop-color="#00fc46"/><stop offset="0.1864" stop-color="#00fe6f"/><stop offset="0.1873" stop-color="#00ff82"/><stop offset="0.1906" stop-color="#00ffc8"/><stop offset="0.1939" stop-color="#00ffff"/><stop offset="0.2081" stop-color="#004dff"/><stop offset="0.2704" stop-color="#0007ff"/><stop offset="0.3094" stop-color="#0031ff"/><stop offset="0.3335" stop-color="#00b2ff"/><stop offset="0.3491" stop-color="#00ffff"/><stop offset="0.3548" stop-color="#00ffc8"/><stop offset="0.3607" stop-color="#00ff82"/><stop offset="0.3622" stop-color="#00fe6f"/><stop offset="0.3651" stop-color="#00fc46"/><stop offset="0.3680" stop-color="#5fff14"/><stop offset="0.3710" stop-color="#afff00"/><stop offset="0.3744" stop-color="#ffff00"/><stop offset="0.3844" stop-color="#ff8000"/><stop offset="0.3945" stop-color="#ff0000"/><stop offset="0.4126" stop-color="#f50000"/><stop offset="0.4256" stop-color="#ff0000"/><stop offset="0.4346" stop-color="#ff0700"/><stop offset="0.4386" stop-color="#ff0000"/><stop offset="0.4626" stop-color="#d60000"/><stop offset="0.4759" stop-color="#a90000"/><stop offset="0.4880" stop-color="#c90000"/><stop offset="0.4965" stop-color="#ef0000"/><stop offset="0.5026" stop-color="#ff0000"/><stop offset="0.5158" stop-color="#ff8000"/><stop offset="0.5348" stop-color="#ffff00"/><stop offset="0.5403" stop-color="#afff00"/><stop offset="0.5451" stop-color="#5fff14"/><stop offset="0.5499" stop-color="#00fc46"/><stop offset="0.5547" stop-color="#00fe6f"/><stop offset="0.5576" stop-color="#00ff82"/><stop offset="0.5692" stop-color="#00ffc8"/><stop offset="0.5806" stop-color="#00ffff"/><stop offset="0.6154" stop-color="#0094ff"/><stop offset="0.6402" stop-color="#0070ff"/><stop offset="0.6652" stop-color="#0082ff"/><stop offset="0.6945" stop-color="#0038ff"/><stop offset="0.7089" stop-color="#0019ff"/><stop offset="0.7235" stop-color="#000aff"/><stop offset="0.7360" stop-color="#0000ff"/><stop offset="0.7384" stop-color="#0000fd"/><stop offset="0.7575" stop-color="#0000f2"/><stop offset="0.7848" stop-color="#0000dc"/><stop offset="0.8675" stop-color="#0000b6"/><stop offset="0.9939" stop-color="#0000a8"/></linearGradient>
<linearGradient id="h61"><stop offset="0.0061" stop-color="#000092"/><stop offset="0.0685" stop-color="#0000cd"/><stop offset="0.0943" stop-color="#0000ff"/><stop offset="0.1192" stop-color="#0080ff"/><stop offset="0.1291" stop-color="#00ffff"/><stop offset="0.1319" stop-color="#00ffc8"/><stop offset="0.1348" stop-color="#00ff82"/><stop offset="0.1355" stop-color="#00fe6f"/><stop offset="0.1370" stop-color="#00fc46"/><stop offset="0.1385" stop-color="#5fff14"/><stop offset="0.1401" stop-color="#afff00"/><stop offset="0.1419" stop-color="#ffff00"/><stop offset="0.1549" stop-color="#ff1f00"/><stop offset="0.1708" stop-color="#ff0f00"/><stop offset="0.1821" stop-color="#ffff00"/><stop offset="0.1836" stop-color="#afff00"/><stop offset="0.1849" stop-color="#5fff14"/><stop offset="0.1862" stop-color="#00fc46"/><stop offset="0.1874" stop-color="#00fe6f"/><stop offset="0.1883" stop-color="#00ff82"/><stop offset="0.1916" stop-color="#00ffc8"/><stop offset="0.1948" stop-color="#00ffff"/><stop offset="0.2089" stop-color="#004dff"/><stop offset="0.2718" stop-color="#0006ff"/><stop offset="0.3107" stop-color="#0030ff"/><stop offset="0.3349" stop-color="#00b2ff"/><stop offset="0.3505" stop-color="#00ffff"/><stop offset="0.3562" stop-color="#00ffc8"/><stop offset="0.3621" stop-color="#00ff82"/><stop offset="0.3636" stop-color="#00fe6f"/><stop offset="0.3665" stop-color="#00fc46"/><stop offset="0.3694" stop-color="#5fff14"/><stop offset="0.3724" stop-color="#afff00"/><stop offset="0.3758" stop-color="#ffff00"/><stop offset="0.3858" stop-color="#ff8000"/><stop offset="0.3958" stop-color="#ff0000"/><stop offset="0.4136" stop-color="#f50000"/><stop offset="0.4260" stop-color="#ff0000"/><stop offset="0.4356" stop-color="#ff0800"/><stop offset="0.4404" stop-color="#ff0000"/><stop offset="0.4640" stop-color="#d80000"/><stop offset="0.4775" stop-color="#aa0000"/><stop offset="0.4896" stop-color="#ca0000"/><stop offset="0.4980" stop-color="#ef0000"/><stop offset="0.5041" stop-color="#ff0000"/><stop offset="0.5169" stop-color="#ff8000"/><stop offset="0.5362" stop-color="#ffff00"/><stop offset="0.5417" stop-color="#afff00"/><stop offset="0.5465" stop-color="#5fff14"/><stop offset="0.5513" stop-color="#00fc46"/><stop offset="0.5560" stop-color="#00fe6f"/><stop offset="0.5589" stop-color="#00ff82"/><stop offset="0.5705" stop-color="#00ffc8"/><stop offset="0.5818" stop-color="#00ffff"/><stop offset="0.6164" stop-color="#0094ff"/><stop offset="0.6405" stop-color="#0070ff"/><stop offset="0.6656" stop-color="#0083ff"/><stop offset="0.6946" stop-color="#0038ff"/><stop offset="0.7089" stop-color="#0019ff"/><stop offset="0.7234" stop-color="#000aff"/><stop offset="0.7358" stop-color="#0000ff"/><stop offset="0.7382" stop-color="#0000fd"/><stop offset="0.7571" stop-color="#0000f2"/><stop offset="0.7842" stop-color="#0000dc"/><stop offset="0.8675" stop-color="#0000b5"/><stop offset="0.9939" stop-color="#0000a7"/></linearGradient>
<linearGradient id="h62"><stop offset="0.0061" stop-color="#000091"/><stop offset="0.0693" stop-color="#0000cd"/><stop offset="0.0952" stop-color="#0000ff"/><stop offset="0.1200" stop-color="#0080ff"/><stop offset="0.1299" stop-color="#00ffff"/><stop offset="0.1327" stop-color="#00ffc8"/><stop offset="0.1355" stop-color="#00ff82"/><stop offset="0.1362" stop-color="#00fe6f"/><stop offset="0.1378" stop-color="#00fc46"/><stop offset="0.1393" stop-color="#5fff14"/><stop offset="0.1408" stop-color="#afff00"/><stop offset="0.1426" stop-color="#ffff00"/><stop offset="0.1557" stop-color="#ff1f00"/><stop offset="0.1717" stop-color="#ff0f00"/><stop offset="0.1831" stop-color="#ffff00"/><stop offset="0.1846" stop-color="#afff00"/><stop offset="0.1859" stop-color="#5fff14"/><stop offset="0.1872" stop-color="#00fc46"/><stop offset="0.1884" stop-color="#00fe6f"/><stop offset="0.1893" stop-color="#00ff82"/><stop offset="0.1925" stop-color="#00ffc8"/><stop offset="0.1957" stop-color="#00ffff"/><stop offset="0.2098" stop-color="#004dff"/><stop offset="0.2731" stop-color="#0006ff"/><stop offset="0.3120" stop-color="#002fff"/><stop offset="0.3362" stop-color="#00b2ff"/><stop offset="0.3518" stop-color="#00ffff"/><stop offset="0.3576" stop-color="#00ffc8"/><stop offset="0.3635" stop-color="#00ff82"/><stop offset="0.3650" stop-color="#00fe6f"/><stop offset="0.3679" stop-color="#00fc46"/><stop offset="0.3708" stop-color="#5fff14"/><stop offset="0.3738" stop-color="#afff00"/><stop offset="0.3772" stop-color="#ffff00"/><stop offset="0.3871" stop-color="#ff8000"/><stop offset="0.3971" stop-color="#ff0000"/><stop offset="0.4148" stop-color="#f50000"/><stop offset="0.4265" stop-color="#ff0000"/><stop offset="0.4368" stop-color="#ff0900"/><stop offset="0.4422" stop-color="#ff0000"/><stop offset="0.4654" stop-color="#d90000"/><stop offset="0.4790" stop-color="#ac0000"/><stop offset="0.4911" stop-color="#cb0000"/><stop offset="0.4995" stop-color="#ef0000"/><stop offset="0.5055" stop-color="#ff0000"/><stop offset="0.5180" stop-color="#ff8000"/><stop offset="0.5376" stop-color="#ffff00"/><stop offset="0.5431" stop-color="#afff00"/><stop offset="0.5479" stop-color="#5fff14"/><stop offset="0.5526" stop-color="#00fc46"/><stop offset="0.5574" stop-color="#00fe6f"/><stop offset="0.5603" stop-color="#00ff82"/><stop offset="0.5718" stop-color="#00ffc8"/><stop offset="0.5830" stop-color="#00ffff"/><stop offset="0.6173" stop-color="#0094ff"/><stop offset="0.6408" stop-color="#0070ff"/><stop offset="0.6661" stop-color="#0083ff"/><stop offset="0.6948" stop-color="#0038ff"/><stop offset="0.7089" stop-color="#0019ff"/><stop offset="0.7234" stop-color="#000aff"/><stop offset="0.7356" stop-color="#0000ff"/><stop offset="0.7380" stop-color="#0000fd"/><stop offset="0.7566" stop-color="#0000f2"/><stop offset="0.7836" stop-color="#0000dc"/><stop offset="0.8675" stop-color="#0000b5"/><stop offset="0.9939" stop-color="#0000a7"/></linearGradient>
<linearGradient id="h63"><stop offset="0.0061" stop-color="#000091"/><stop offset="0.0702" stop-color="#0000cd"/><stop offset="0.0960" stop-color="#0000ff"/><stop offset="0.1208" stop-color="#0080ff"/><stop offset="0.1307" stop-color="#00ffff"/><stop offset="0.1335" stop-color="#00ffc8"/><stop offset="0.1363" stop-color="#00ff82"/><stop offset="0.1370" stop-color="#00fe6f"/><stop offset="0.1385" stop-color="#00fc46"/><stop offset="0.1400" stop-color="#5fff14"/><stop offset="0.1415" stop-color="#afff00"/><stop offset="0.1432" stop-color="#ffff00"/><stop offset="0.1565" stop-color="#ff1f00"/><stop offset="0.1728" stop-color="#ff0f00"/><stop offset="0.1842" stop-color="#ffff00"/><stop offset="0.1857" stop-color="#afff00"/><stop offset="0.1869" stop-color="#5fff14"/><stop offset="0.1882" stop-color="#00fc46"/><stop offset="0.1894" stop-color="#00fe6f"/><stop offset="0.1903" stop-color="#00ff82"/><stop offset="0.1935" stop-color="#00ffc8"/><stop offset="0.1966" stop-color="#00ffff"/><stop offset="0.2107" stop-color="#004dff"/><stop offset="0.2742" stop-color="#0005ff"/><stop offset="0.3133" stop-color="#002eff"/><stop offset="0.3375" stop-color="#00b2ff"/><stop offset="0.3532" stop-color="#00ffff"/><stop offset="0.3590" stop-color="#00ffc8"/><stop offset="0.3649" stop-color="#00ff82"/><stop offset="0.3664" stop-color="#00fe6f"/><stop offset="0.3693" stop-color="#00fc46"/><stop offset="0.3722" stop-color="#5fff14"/><stop offset="0.3752" stop-color="#afff00"/><stop offset="0.3786" stop-color="#ffff00"/><stop offset="0.3885" stop-color="#ff8000"/><stop offset="0.3984" stop-color="#ff0000"/><stop offset="0.4159" stop-color="#f50000"/><stop offset="0.4271" stop-color="#ff0000"/><stop offset="0.4379" stop-color="#ff0a00"/><stop offset="0.4441" stop-color="#ff0000"/><stop offset="0.4668" stop-color="#db0000"/><stop offset="0.4804" stop-color="#ad0000"/><stop offset="0.4925" stop-color="#cc0000"/><stop offset="0.5009" stop-color="#f00000"/><stop offset="0.5070" stop-color="#ff0000"/><stop offset="0.5192" stop-color="#ff8000"/><stop offset="0.5389" stop-color="#ffff00"/><stop offset="0.5445" stop-color="#afff00"/><stop offset="0.5492" stop-color="#5fff14"/><stop offset="0.5540" stop-color="#00fc46"/><stop offset="0.5587" stop-color="#00fe6f"/><stop offset="0.5616" stop-color="#00ff82"/><stop offset="0.5730" stop-color="#00ffc8"/><stop offset="0.5843" stop-color="#00ffff"/><stop offset="0.6182" stop-color="#0094ff"/><stop offset="0.6411" stop-color="#0070ff"/><stop offset="0.6666" stop-color="#0084ff"/><stop offset="0.6950" stop-color="#0038ff"/><stop offset="0.7089" stop-color="#0019ff"/><stop offset="0.7234" stop-color="#000aff"/><stop offset="0.7354" stop-color="#0000ff"/><stop offset="0.7379" stop-color="#0000fd"/><stop offset="0.7562" stop-color="#0000f2"/><stop offset="0.7829" stop-color="#0000dc"/><stop offset="0.8675" stop-color="#0000b5"/><stop offset="0.9939" stop-color="#0000a6"/></linearGradient>
<linearGradient id="h64"><stop offset="0.0061" stop-color="#000091"/><stop offset="0.0711" stop-color="#0000cd"/><stop offset="0.0969" stop-color="#0000ff"/><stop offset="0.1217" stop-color="#0080ff"/><stop offset="0.1315" stop-color="#00ffff"/><stop offset="0.1342" stop-color="#00ffc8"/><stop offset="0.1370" stop-color="#00ff82"/><stop offset="0.1377" stop-color="#00fe6f"/><stop offset="0.1392" stop-color="#00fc46"/><stop offset="0.1406" stop-color="#5fff14"/><stop offset="0.1421" stop-color="#afff00"/><stop offset="0.1438" stop-color="#ffff00"/><stop offset="0.1573" stop-color="#ff1f00"/><stop offset="0.1739" stop-color="#ff0f00"/><stop offset="0.1853" stop-color="#ffff00"/><stop offset="0.1867" stop-color="#afff00"/><stop offset="0.1880" stop-color="#5fff14"/><stop offset="0.1892" stop-color="#00fc46"/><stop offset="0.1905" stop-color="#00fe6f"/><stop offset="0.1913" stop-color="#00ff82"/><stop offset="0.1945" stop-color="#00ffc8"/><stop offset="0.1977" stop-color="#00ffff"/><stop offset="0.2118" stop-color="#004dff"/><stop offset="0.2752" stop-color="#0005ff"/><stop offset="0.3145" stop-color="#002dff"/><stop offset="0.3389" stop-color="#00b2ff"/><stop offset="0.3545" stop-color="#00ffff"/><stop offset="0.3604" stop-color="#00ffc8"/><stop offset="0.3663" stop-color="#00ff82"/><stop offset="0.3678" stop-color="#00fe6f"/><stop offset="0.3707" stop-color="#00fc46"/><stop offset="0.3736" stop-color="#5fff14"/><stop offset="0.3766" stop-color="#afff00"/><stop offset="0.3800" stop-color="#ffff00"/><stop offset="0.3898" stop-color="#ff8000"/><stop offset="0.3996" stop-color="#ff0000"/><stop offset="0.4171" stop-color="#f50000"/><stop offset="0.4278" stop-color="#ff0000"/><stop offset="0.4391" stop-color="#ff0b00"/><stop offset="0.4459" stop-color="#ff0000"/><stop offset="0.4680" stop-color="#dc0000"/><stop offset="0.4818" stop-color="#af0000"/><stop offset="0.4940" stop-color="#cd0000"/><stop offset="0.5023" stop-color="#f00000"/><stop offset="0.5084" stop-color="#ff0000"/><stop offset="0.5205" stop-color="#ff8000"/><stop offset="0.5403" stop-color="#ffff00"/><stop offset="0.5458" stop-color="#afff00"/><stop offset="0.5505" stop-color="#5fff14"/><stop offset="0.5553" stop-color="#00fc46"/><stop offset="0.5600" stop-color="#00fe6f"/><stop offset="0.5629" stop-color="#00ff82"/><stop offset="0.5743" stop-color="#00ffc8"/><stop offset="0.5855" stop-color="#00ffff"/><stop offset="0.6190" stop-color="#0094ff"/><stop offset="0.6415" stop-color="#0070ff"/><stop offset="0.6670" stop-color="#0085ff"/><stop offset="0.6951" stop-color="#0038ff"/><stop offset="0.7089" stop-color="#0019ff"/><stop offset="0.7234" stop-color="#000aff"/><stop offset="0.7353" stop-color="#0000ff"/><stop offset="0.7377" stop-color="#0000fd"/><stop offset="0.7558" stop-color="#0000f2"/><stop offset="0.7822" stop-color="#0000dc"/><stop offset="0.8675" stop-color="#0000b4"/><stop offset="0.9939" stop-color="#0000a5"/></linearGradient>
<linearGradient id="h65"><stop offset="0.0061" stop-color="#000090"/><stop offset="0.0720" stop-color="#0000cd"/><stop offset="0.0978" stop-color="#0000ff"/><stop offset="0.1225" stop-color="#0080ff"/><stop offset="0.1324" stop-color="#00ffff"/><stop offset="0.1350" stop-color="#00ffc8"/><stop offset="0.1377" stop-color="#00ff82"/><stop offset="0.1384" stop-color="#00fe6f"/><stop offset="0.1398" stop-color="#00fc46"/><stop offset="0.1413" stop-color="#5fff14"/><stop offset="0.1427" stop-color="#afff00"/><stop offset="0.1444" stop-color="#ffff00"/><stop offset="0.1580" stop-color="#ff1f00"/><stop offset="0.1750" stop-color="#ff0f00"/><stop offset="0.1863" stop-color="#ffff00"/><stop offset="0.1878" stop-color="#afff00"/><stop offset="0.1890" stop-color="#5fff14"/><stop offset="0.1903" stop-color="#00fc46"/><stop offset="0.1915" stop-color="#00fe6f"/><stop offset="0.1923" stop-color="#00ff82"/><stop offset="0.1956" stop-color="#00ffc8"/><stop offset="0.1988" stop-color="#00ffff"/><stop offset="0.2129" stop-color="#004dff"/><stop offset="0.2762" stop-color="#0004ff"/><stop offset="0.3156" stop-color="#002dff"/><stop offset="0.3402" stop-color="#00b2ff"/><stop offset="0.3559" stop-color="#00ffff"/><stop offset="0.3617" stop-color="#00ffc8"/><stop offset="0.3677" stop-color="#00ff82"/><stop offset="0.3692" stop-color="#00fe6f"/><stop offset="0.3721" stop-color="#00fc46"/><stop offset="0.3750" stop-color="#5fff14"/><stop offset="0.3779" stop-color="#afff00"/><stop offset="0.3814" stop-color="#ffff00"/><stop offset="0.3912" stop-color="#ff8000"/><stop offset="0.4009" stop-color="#ff0000"/><stop offset="0.4182" stop-color="#f50000"/><stop offset="0.4286" stop-color="#ff0000"/><stop offset="0.4404" stop-color="#ff0c00"/><stop offset="0.4478" stop-color="#ff0000"/><stop offset="0.4693" stop-color="#de0000"/><stop offset="0.4831" stop-color="#b00000"/><stop offset="0.4953" stop-color="#ce0000"/><stop offset="0.5037" stop-color="#f00000"/><stop offset="0.5099" stop-color="#ff0000"/><stop offset="0.5218" stop-color="#ff8000"/><stop offset="0.5416" stop-color="#ffff00"/><stop offset="0.5471" stop-color="#afff00"/><stop offset="0.5519" stop-color="#5fff14"/><stop offset="0.5566" stop-color="#00fc46"/><stop offset="0.5613" stop-color="#00fe6f"/><stop offset="0.5641" stop-color="#00ff82"/><stop offset="0.5755" stop-color="#00ffc8"/><stop offset="0.5867" stop-color="#00ffff"/><stop offset="0.6199" stop-color="#0094ff"/><stop offset="0.6420" stop-color="#0070ff"/><stop offset="0.6675" stop-color="#0087ff"/><stop offset="0.6953" stop-color="#0038ff"/><stop offset="0.7089" stop-color="#0019ff"/><stop offset="0.7234" stop-color="#000aff"/><stop offset="0.7352" stop-color="#0000ff"/><stop offset="0.7375" stop-color="#0000fd"/><stop offset="0.7553" stop-color="#0000f2"/><stop offset="0.7815" stop-color="#0000dc"/><stop offset="0.8673" stop-color="#0000b4"/><stop offset="0.9939" stop-color="#0000a4"/></linearGradient>
<linearGradient id="h66"><stop offset="0.0061" stop-color="#000090"/><stop offset="0.0729" stop-color="#0000cd"/><stop offset="0.0987" stop-color="#0000ff"/><stop offset="0.1233" stop-color="#0080ff"/><stop offset="0.1332" stop-color="#00ffff"/><stop offset="0.1358" stop-color="#00ffc8"/><stop offset="0.1384" stop-color="#00ff82"/><stop offset="0.1391" stop-color="#00fe6f"/><stop offset="0.1405" stop-color="#00fc46"/><stop offset="0.1419" stop-color="#5fff14"/><stop offset="0.1433" stop-color="#afff00"/><stop offset="0.1450" stop-color="#ffff00"/><stop offset="0.1588" stop-color="#ff1f00"/><stop offset="0.1762" stop-color="#ff0f00"/><stop offset="0.1874" stop-color="#ffff00"/><stop offset="0.1888" stop-color="#afff00"/><stop offset="0.1900" stop-color="#5fff14"/><stop offset="0.1913" stop-color="#00fc46"/><stop offset="0.1925" stop-color="#00fe6f"/><stop offset="0.1933" stop-color="#00ff82"/><stop offset="0.1966" stop-color="#00ffc8"/><stop offset="0.1999" stop-color="#00ffff"/><stop offset="0.2139" stop-color="#004dff"/><stop offset="0.2771" stop-color="#0004ff"/><stop offset="0.3168" stop-color="#002cff"/><stop offset="0.3415" stop-color="#00b2ff"/><stop offset="0.3572" stop-color="#00ffff"/><stop offset="0.3630" stop-color="#00ffc8"/><stop offset="0.3690" stop-color="#00ff82"/><stop offset="0.3705" stop-color="#00fe6f"/><stop offset="0.3735" stop-color="#00fc46"/><stop offset="0.3764" stop-color="#5fff14"/><stop offset="0.3793" stop-color="#afff00"/><stop offset="0.3828" stop-color="#ffff00"/><stop offset="0.3925" stop-color="#ff8000"/><stop offset="0.4022" stop-color="#ff0000"/><stop offset="0.4194" stop-color="#f50000"/><stop offset="0.4294" stop-color="#ff0000"/><stop offset="0.4417" stop-color="#ff0d00"/><stop offset="0.4497" stop-color="#ff0000"/><stop offset="0.4705" stop-color="#df0000"/><stop offset="0.4844" stop-color="#b20000"/><stop offset="0.4967" stop-color="#cf0000"/><stop offset="0.5050" stop-color="#f00000"/><stop offset="0.5113" stop-color="#ff0000"/><stop offset="0.5232" stop-color="#ff8000"/><stop offset="0.5430" stop-color="#ffff00"/><stop offset="0.5485" stop-color="#afff00"/><stop offset="0.5532" stop-color="#5fff14"/><stop offset="0.5579" stop-color="#00fc46"/><stop offset="0.5626" stop-color="#00fe6f"/><stop offset="0.5654" stop-color="#00ff82"/><stop offset="0.5768" stop-color="#00ffc8"/><stop offset="0.5880" stop-color="#00ffff"/><stop offset="0.6207" stop-color="#0094ff"/><stop offset="0.6424" stop-color="#0070ff"/><stop offset="0.6680" stop-color="#0088ff"/><stop offset="0.6954" stop-color="#0038ff"/><stop offset="0.7090" stop-color="#0019ff"/><stop offset="0.7234" stop-color="#000aff"/><stop offset="0.7351" stop-color="#0000ff"/><stop offset="0.7374" stop-color="#0000fd"/><stop offset="0.7549" stop-color="#0000f2"/><stop offset="0.7807" stop-color="#0000dc"/><stop offset="0.8670" stop-color="#0000b4"/><stop offset="0.9939" stop-color="#0000a4"/></linearGradient>
<linearGradient id="h67"><stop offset="0.0061" stop-color="#000090"/><stop offset="0.0738" stop-color="#0000cd"/><stop offset="0.0996" stop-color="#0000ff"/><stop offset="0.1241" stop-color="#0080ff"/><stop offset="0.1340" stop-color="#00ffff"/><stop offset="0.1366" stop-color="#00ffc8"/><stop offset="0.1391" stop-color="#00ff82"/><stop offset="0.1398" stop-color="#00fe6f"/><stop offset="0.1412" stop-color="#00fc46"/><stop offset="0.1426" stop-color="#5fff14"/><stop offset="0.1440" stop-color="#afff00"/><stop offset="0.1456" stop-color="#ffff00"/><stop offset="0.1595" stop-color="#ff1f00"/><stop offset="0.1773" stop-color="#ff0f00"/><stop offset="0.1883" stop-color="#ffff00"/><stop offset="0.1898" stop-color="#afff00"/><stop offset="0.1910" stop-color="#5fff14"/><stop offset="0.1922" stop-color="#00fc46"/><stop offset="0.1934" stop-color="#00fe6f"/><stop offset="0.1943" stop-color="#00ff82"/><stop offset="0.1977" stop-color="#00ffc8"/><stop offset="0.2010" stop-color="#00ffff"/><stop offset="0.2150" stop-color="#004dff"/><stop offset="0.2780" stop-color="#0004ff"/><stop offset="0.3179" stop-color="#002cff"/><stop offset="0.3428" stop-color="#00b2ff"/><stop offset="0.3585" stop-color="#00ffff"/><stop offset="0.3644" stop-color="#00ffc8"/><stop offset="0.3704" stop-color="#00ff82"/><stop offset="0.3719" stop-color="#00fe6f"/><stop offset="0.3748" stop-color="#00fc46"/><stop offset="0.3778" stop-color="#5fff14"/><stop offset="0.3807" stop-color="#afff00"/><stop offset="0.3842" stop-color="#ffff00"/><stop offset="0.3938" stop-color="#ff8000"/><stop offset="0.4035" stop-color="#ff0000"/><stop offset="0.4207" stop-color="#f50000"/><stop offset="0.4303" stop-color="#ff0000"/><stop offset="0.4430" stop-color="#ff0d00"/><stop offset="0.4516" stop-color="#ff0000"/><stop offset="0.4717" stop-color="#e00000"/><stop offset="0.4857" stop-color="#b30000"/><stop offset="0.4980" stop-color="#d00000"/><stop offset="0.5064" stop-color="#f10000"/><stop offset="0.5127" stop-color="#ff0000"/><stop offset="0.5246" stop-color="#ff8000"/><stop offset="0.5443" stop-color="#ffff00"/><stop offset="0.5498" stop-color="#afff00"/><stop offset="0.5545" stop-color="#5fff14"/><stop offset="0.5592" stop-color="#00fc46"/><stop offset="0.5638" stop-color="#00fe6f"/><stop offset="0.5667" stop-color="#00ff82"/><stop offset="0.5780" stop-color="#00ffc8"/><stop offset="0.5892" stop-color="#00ffff"/><stop offset="0.6215" stop-color="#0094ff"/><stop offset="0.6430" stop-color="#0070ff"/><stop offset="0.6685" stop-color="#008bff"/><stop offset="0.6956" stop-color="#0038ff"/><stop offset="0.7090" stop-color="#0019ff"/><stop offset="0.7234" stop-color="#000aff"/><stop offset="0.7349" stop-color="#0000ff"/><stop offset="0.7373" stop-color="#0000fd"/><stop offset="0.7545" stop-color="#0000f2"/><stop offset="0.7800" stop-color="#0000dc"/><stop offset="0.8665" stop-color="#0000b3"/><stop offset="0.9939" stop-color="#0000a3"/></linearGradient>
<linearGradient id="h68"><stop offset="0.0061" stop-color="#00008f"/><stop offset="0.0747" stop-color="#0000cd"/><stop offset="0.1005" stop-color="#0000ff"/><stop offset="0.1249" stop-color="#0080ff"/><stop offset="0.1348" stop-color="#00ffff"/><stop offset="0.1373" stop-color="#00ffc8"/><stop offset="0.1399" stop-color="#00ff82"/><stop offset="0.1405" stop-color="#00fe6f"/><stop offset="0.1419" stop-color="#00fc46"/><stop offset="0.1433" stop-color="#5fff14"/><stop offset="0.1446" stop-color="#afff00"/><stop offset="0.1462" stop-color="#ffff00"/><stop offset="0.1601" stop-color="#ff1f00"/><stop offset="0.1784" stop-color="#ff0f00"/><stop offset="0.1892" stop-color="#ffff00"/><stop offset="0.1906" stop-color="#afff00"/><stop offset="0.1919" stop-color="#5fff14"/><stop offset="0.1931" stop-color="#00fc46"/><stop offset="0.1943" stop-color="#00fe6f"/><stop offset="0.1952" stop-color="#00ff82"/><stop offset="0.1986" stop-color="#00ffc8"/><stop offset="0.2019" stop-color="#00ffff"/><stop offset="0.2159" stop-color="#004dff"/><stop offset="0.2788" stop-color="#0003ff"/><stop offset="0.3190" stop-color="#002bff"/><stop offset="0.3440" stop-color="#00b2ff"/><stop offset="0.3597" stop-color="#00ffff"/><stop offset="0.3657" stop-color="#00ffc8"/><stop offset="0.3717" stop-color="#00ff82"/><stop offset="0.3732" stop-color="#00fe6f"/><stop offset="0.3762" stop-color="#00fc46"/><stop offset="0.3792" stop-color="#5fff14"/><stop offset="0.3821" stop-color="#afff00"/><stop offset="0.3856" stop-color="#ffff00"/><stop offset="0.3952" stop-color="#ff8000"/><stop offset="0.4047" stop-color="#ff0000"/><stop offset="0.4219" stop-color="#f50000"/><stop offset="0.4313" stop-color="#ff0000"/><stop offset="0.4444" stop-color="#ff0e00"/><stop offset="0.4536" stop-color="#ff0000"/><stop offset="0.4728" stop-color="#e10000"/><stop offset="0.4869" stop-color="#b50000"/><stop offset="0.4992" stop-color="#d10000"/><stop offset="0.5076" stop-color="#f10000"/><stop offset="0.5141" stop-color="#ff0000"/><stop offset="0.5261" stop-color="#ff8000"/><stop offset="0.5457" stop-color="#ffff00"/><stop offset="0.5511" stop-color="#afff00"/><stop offset="0.5558" stop-color="#5fff14"/><stop offset="0.5604" stop-color="#00fc46"/><stop offset="0.5651" stop-color="#00fe6f"/><stop offset="0.5679" stop-color="#00ff82"/><stop offset="0.5793" stop-color="#00ffc8"/><stop offset="0.5905" stop-color="#00ffff"/><stop offset="0.6223" stop-color="#0094ff"/><stop offset="0.6435" stop-color="#0070ff"/><stop offset="0.6691" stop-color="#008dff"/><stop offset="0.6957" stop-color="#0038ff"/><stop offset="0.7091" stop-color="#0019ff"/><stop offset="0.7234" stop-color="#000aff"/><stop offset="0.7348" stop-color="#0000ff"/><stop offset="0.7371" stop-color="#0000fd"/><stop offset="0.7540" stop-color="#0000f2"/><stop offset="0.7792" stop-color="#0000dc"/><stop offset="0.8659" stop-color="#0000b3"/><stop offset="0.9939" stop-color="#0000a2"/></linearGradient>
<linearGradient id="h69"><stop offset="0.0061" stop-color="#00008f"/><stop offset="0.0757" stop-color="#0000cd"/><stop offset="0.1015" stop-color="#0000ff"/><stop offset="0.1258" stop-color="#0080ff"/><stop offset="0.1357" stop-color="#00ffff"/><stop offset="0.1382" stop-color="#00ffc8"/><stop offset="0.1407" stop-color="#00ff82"/><stop offset="0.1413" stop-color="#00fe6f"/><stop offset="0.1427" stop-color="#00fc46"/><stop offset="0.1440" stop-color="#5fff14"/><stop offset="0.1454" stop-color="#afff00"/><stop offset="0.1470" stop-color="#ffff00"/><stop offset="0.1608" stop-color="#ff1f00"/><stop offset="0.1793" stop-color="#ff0f00"/><stop offset="0.1899" stop-color="#ffff00"/><stop offset="0.1914" stop-color="#afff00"/><stop offset="0.1926" stop-color="#5fff14"/><stop offset="0.1939" stop-color="#00fc46"/><stop offset="0.1952" stop-color="#00fe6f"/><stop offset="0.1960" stop-color="#00ff82"/><stop offset="0.1995" stop-color="#00ffc8"/><stop offset="0.2028" stop-color="#00ffff"/><stop offset="0.2168" stop-color="#004dff"/><stop offset="0.2796" stop-color="#0003ff"/><stop offset="0.3200" stop-color="#002aff"/><stop offset="0.3453" stop-color="#00b2ff"/><stop offset="0.3610" stop-color="#00ffff"/><stop offset="0.3670" stop-color="#00ffc8"/><stop offset="0.3731" stop-color="#00ff82"/><stop offset="0.3746" stop-color="#00fe6f"/><stop offset="0.3776" stop-color="#00fc46"/><stop offset="0.3805" stop-color="#5fff14"/><stop offset="0.3835" stop-color="#afff00"/><stop offset="0.3870" stop-color="#ffff00"/><stop offset="0.3965" stop-color="#ff8000"/><stop offset="0.4060" stop-color="#ff0000"/><stop offset="0.4231" stop-color="#f50000"/><stop offset="0.4323" stop-color="#ff0000"/><stop offset="0.4458" stop-color="#ff0f00"/><stop offset="0.4555" stop-color="#ff0000"/><stop offset="0.4739" stop-color="#e20000"/><stop offset="0.4881" stop-color="#b60000"/><stop offset="0.5005" stop-color="#d20000"/><stop offset="0.5089" stop-color="#f10000"/><stop offset="0.5155" stop-color="#ff0000"/><stop offset="0.5276" stop-color="#ff8000"/><stop offset="0.5470" stop-color="#ffff00"/><stop offset="0.5524" stop-color="#afff00"/><stop offset="0.5571" stop-color="#5fff14"/><stop offset="0.5617" stop-color="#00fc46"/><stop offset="0.5664" stop-color="#00fe6f"/><stop offset="0.5692" stop-color="#00ff82"/><stop offset="0.5806" stop-color="#00ffc8"/><stop offset="0.5917" stop-color="#00ffff"/><stop offset="0.6231" stop-color="#0094ff"/><stop offset="0.6441" stop-color="#0070ff"/><stop offset="0.6696" stop-color="#0090ff"/><stop offset="0.6959" stop-color="#0038ff"/><stop offset="0.7092" stop-color="#0019ff"/><stop offset="0.7234" stop-color="#000aff"/><stop offset="0.7347" stop-color="#0000ff"/><stop offset="0.7370" stop-color="#0000fd"/><stop offset="0.7536" stop-color="#0000f2"/><stop offset="0.7784" stop-color="#0000dc"/><stop offset="0.8652" stop-color="#0000b3"/><stop offset="0.9939" stop-color="#0000a1"/></linearGradient>
<linearGradient id="h70"><stop offset="0.0061" stop-color="#00008f"/><stop offset="0.0767" stop-color="#0000cd"/><stop offset="0.1024" stop-color="#0000ff"/><stop offset="0.1266" stop-color="#0080ff"/><stop offset="0.1365" stop-color="#00ffff"/><stop offset="0.1390" stop-color="#00ffc8"/><stop offset="0.1415" stop-color="#00ff82"/><stop offset="0.1422" stop-color="#00fe6f"/><stop offset="0.1435" stop-color="#00fc46"/><stop offset="0.1449" stop-color="#5fff14"/><stop offset="0.1462" stop-color="#afff00"/><stop offset="0.1478" stop-color="#ffff00"/><stop offset="0.1614" stop-color="#ff1f00"/><stop offset="0.1803" stop-color="#ff0e00"/><stop offset="0.1905" stop-color="#ffff00"/><stop offset="0.1921" stop-color="#afff00"/><stop offset="0.1934" stop-color="#5fff14"/><stop offset="0.1946" stop-color="#00fc46"/><stop offset="0.1959" stop-color="#00fe6f"/><stop offset="0.1968" stop-color="#00ff82"/><stop offset="0.2003" stop-color="#00ffc8"/><stop offset="0.2037" stop-color="#00ffff"/><stop offset="0.2177" stop-color="#004dff"/><stop offset="0.2804" stop-color="#0003ff"/><stop offset="0.3211" stop-color="#002aff"/><stop offset="0.3465" stop-color="#00b2ff"/><stop offset="0.3622" stop-color="#00ffff"/><stop offset="0.3683" stop-color="#00ffc8"/><stop offset="0.3744" stop-color="#00ff82"/><stop offset="0.3759" stop-color="#00fe6f"/><stop offset="0.3789" stop-color="#00fc46"/><stop offset="0.3819" stop-color="#5fff14"/><stop offset="0.3849" stop-color="#afff00"/><stop offset="0.3884" stop-color="#ffff00"/><stop offset="0.3979" stop-color="#ff8000"/><stop offset="0.4073" stop-color="#ff0000"/><stop offset="0.4244" stop-color="#f50000"/><stop offset="0.4333" stop-color="#ff0000"/><stop offset="0.4472" stop-color="#ff1000"/><stop offset="0.4574" stop-color="#ff0000"/><stop offset="0.4750" stop-color="#e30000"/><stop offset="0.4893" stop-color="#b80000"/><stop offset="0.5017" stop-color="#d30000"/><stop offset="0.5102" stop-color="#f20000"/><stop offset="0.5169" stop-color="#ff0000"/><stop offset="0.5292" stop-color="#ff8000"/><stop offset="0.5483" stop-color="#ffff00"/><stop offset="0.5537" stop-color="#afff00"/><stop offset="0.5584" stop-color="#5fff14"/><stop offset="0.5630" stop-color="#00fc46"/><stop offset="0.5676" stop-color="#00fe6f"/><stop offset="0.5705" stop-color="#00ff82"/><stop offset="0.5818" stop-color="#00ffc8"/><stop offset="0.5930" stop-color="#00ffff"/><stop offset="0.6239" stop-color="#0094ff"/><stop offset="0.6448" stop-color="#0070ff"/><stop offset="0.6702" stop-color="#0093ff"/><stop offset="0.6960" stop-color="#0038ff"/><stop offset="0.7093" stop-color="#0019ff"/><stop offset="0.7234" stop-color="#000aff"/><stop offset="0.7346" stop-color="#0000ff"/><stop offset="0.7369" stop-color="#0000fd"/><stop offset="0.7532" stop-color="#0000f2"/><stop offset="0.7777" stop-color="#0000dc"/><stop offset="0.8644" stop-color="#0000b3"/><stop offset="0.9939" stop-color="#0000a0"/></linearGradient>
<linearGradient id="h71"><stop offset="0.0061" stop-color="#00008e"/><stop offset="0.0776" stop-color="#0000cd"/><stop offset="0.1033" stop-color="#0000ff"/><stop offset="0.1275" stop-color="#0080ff"/><stop offset="0.1374" stop-color="#00ffff"/><stop offset="0.1399" stop-color="#00ffc8"/><stop offset="0.1424" stop-color="#00ff82"/><stop offset="0.1430" stop-color="#00fe6f"/><stop offset="0.1444" stop-color="#00fc46"/><stop offset="0.1457" stop-color="#5fff14"/><stop offset="0.1471" stop-color="#afff00"/><stop offset="0.1487" stop-color="#ffff00"/><stop offset="0.1620" stop-color="#ff2000"/><stop offset="0.1813" stop-color="#ff0e00"/><stop offset="0.1911" stop-color="#ffff00"/><stop offset="0.1927" stop-color="#afff00"/><stop offset="0.1940" stop-color="#5fff14"/><stop offset="0.1954" stop-color="#00fc46"/><stop offset="0.1967" stop-color="#00fe6f"/><stop offset="0.1976" stop-color="#00ff82"/><stop offset="0.2011" stop-color="#00ffc8"/><stop offset="0.2046" stop-color="#00ffff"/><stop offset="0.2185" stop-color="#004dff"/><stop offset="0.2812" stop-color="#0003ff"/><stop offset="0.3221" stop-color="#0029ff"/><stop offset="0.3478" stop-color="#00b2ff"/><stop offset="0.3635" stop-color="#00ffff"/><stop offset="0.3695" stop-color="#00ffc8"/><stop offset="0.3757" stop-color="#00ff82"/><stop offset="0.3773" stop-color="#00fe6f"/><stop offset="0.3803" stop-color="#00fc46"/><stop offset="0.3833" stop-color="#5fff14"/><stop offset="0.3863" stop-color="#afff00"/><stop offset="0.3898" stop-color="#ffff00"/><stop offset="0.3992" stop-color="#ff8000"/><stop offset="0.4085" stop-color="#ff0000"/><stop offset="0.4257" stop-color="#f50000"/><stop offset="0.4344" stop-color="#ff0000"/><stop offset="0.4487" stop-color="#ff1100"/><stop offset="0.4593" stop-color="#ff0000"/><stop offset="0.4761" stop-color="#e50000"/><stop offset="0.4904" stop-color="#ba0000"/><stop offset="0.5029" stop-color="#d50000"/><stop offset="0.5114" stop-color="#f20000"/><stop offset="0.5182" stop-color="#ff0000"/><stop offset="0.5307" stop-color="#ff8000"/><stop offset="0.5497" stop-color="#ffff00"/><stop offset="0.5550" stop-color="#afff00"/><stop offset="0.5597" stop-color="#5fff14"/><stop offset="0.5643" stop-color="#00fc46"/><stop offset="0.5689" stop-color="#00fe6f"/><stop offset="0.5717" stop-color="#00ff82"/><stop offset="0.5831" stop-color="#00ffc8"/><stop offset="0.5942" stop-color="#00ffff"/><stop offset="0.6247" stop-color="#0094ff"/><stop offset="0.6454" stop-color="#0070ff"/><stop offset="0.6707" stop-color="#0096ff"/><stop offset="0.6962" stop-color="#0038ff"/><stop offset="0.7093" stop-color="#0019ff"/><stop offset="0.7234" stop-color="#000aff"/><stop offset="0.7345" stop-color="#0000ff"/><stop offset="0.7367" stop-color="#0000fd"/><stop offset="0.7528" stop-color="#0000f2"/><stop offset="0.7769" stop-color="#0000dc"/><stop offset="0.8636" stop-color="#0000b2"/><stop offset="0.9939" stop-color="#0000a0"/></linearGradient>
<linearGradient id="h72"><stop offset="0.0061" stop-color="#00008e"/><stop offset="0.0786" stop-color="#0000cd"/><stop offset="0.1043" stop-color="#0000ff"/><stop offset="0.1283" stop-color="#0080ff"/><stop offset="0.1382" stop-color="#00ffff"/><stop offset="0.1407" stop-color="#00ffc8"/><stop offset="0.1432" stop-color="#00ff82"/><stop offset="0.1439" stop-color="#00fe6f"/><stop offset="0.1452" stop-color="#00fc46"/><stop offset="0.1466" stop-color="#5fff14"/><stop offset="0.1480" stop-color="#afff00"/><stop offset="0.1496" stop-color="#ffff00"/><stop offset="0.1626" stop-color="#ff2100"/><stop offset="0.1822" stop-color="#ff0d00"/><stop offset="0.1917" stop-color="#ffff00"/><stop offset="0.1933" stop-color="#afff00"/><stop offset="0.1947" stop-color="#5fff14"/><stop offset="0.1961" stop-color="#00fc46"/><stop offset="0.1974" stop-color="#00fe6f"/><stop offset="0.1983" stop-color="#00ff82"/><stop offset="0.2019" stop-color="#00ffc8"/><stop offset="0.2054" stop-color="#00ffff"/><stop offset="0.2193" stop-color="#004dff"/><stop offset="0.2819" stop-color="#0002ff"/><stop offset="0.3231" stop-color="#0029ff"/><stop offset="0.3490" stop-color="#00b2ff"/><stop offset="0.3647" stop-color="#00ffff"/><stop offset="0.3708" stop-color="#00ffc8"/><stop offset="0.3770" stop-color="#00ff82"/><stop offset="0.3786" stop-color="#00fe6f"/><stop offset="0.3816" stop-color="#00fc46"/><stop offset="0.3847" stop-color="#5fff14"/><stop offset="0.3877" stop-color="#afff00"/><stop offset="0.3912" stop-color="#ffff00"/><stop offset="0.4006" stop-color="#ff8000"/><stop offset="0.4098" stop-color="#ff0000"/><stop offset="0.4269" stop-color="#f50000"/><stop offset="0.4355" stop-color="#ff0000"/><stop offset="0.4501" stop-color="#ff1200"/><stop offset="0.4612" stop-color="#ff0000"/><stop offset="0.4771" stop-color="#e60000"/><stop offset="0.4916" stop-color="#bc0000"/><stop offset="0.5040" stop-color="#d60000"/><stop offset="0.5126" stop-color="#f20000"/><stop offset="0.5196" stop-color="#ff0000"/><stop offset="0.5324" stop-color="#ff8000"/><stop offset="0.5510" stop-color="#ffff00"/><stop offset="0.5563" stop-color="#afff00"/><stop offset="0.5609" stop-color="#5fff14"/><stop offset="0.5655" stop-color="#00fc46"/><stop offset="0.5701" stop-color="#00fe6f"/><stop offset="0.5730" stop-color="#00ff82"/><stop offset="0.5843" stop-color="#00ffc8"/><stop offset="0.5955" stop-color="#00ffff"/><stop offset="0.6255" stop-color="#0094ff"/><stop offset="0.6461" stop-color="#0070ff"/><stop offset="0.6713" stop-color="#009aff"/><stop offset="0.6964" stop-color="#0038ff"/><stop offset="0.7094" stop-color="#0019ff"/><stop offset="0.7234" stop-color="#000aff"/><stop offset="0.7344" stop-color="#0000ff"/><stop offset="0.7366" stop-color="#0000fd"/><stop offset="0.7524" stop-color="#0000f2"/><stop offset="0.7761" stop-color="#0000dc"/><stop offset="0.8626" stop-color="#0000b2"/><stop offset="0.9939" stop-color="#00009f"/></linearGradient>
<linearGradient id="h73"><stop offset="0.0061" stop-color="#00008e"/><stop offset="0.0796" stop-color="#0000cd"/><stop offset="0.1052" stop-color="#0000ff"/><stop offset="0.1291" stop-color="#0080ff"/><stop offset="0.1390" stop-color="#00ffff"/><stop offset="0.1415" stop-color="#00ffc8"/><stop offset="0.1441" stop-color="#00ff82"/><stop offset="0.1447" stop-color="#00fe6f"/><stop offset="0.1461" stop-color="#00fc46"/><stop offset="0.1474" stop-color="#5fff14"/><stop offset="0.1488" stop-color="#afff00"/><stop offset="0.1504" stop-color="#ffff00"/><stop offset="0.1632" stop-color="#ff2200"/><stop offset="0.1829" stop-color="#ff0b00"/><stop offset="0.1923" stop-color="#ffff00"/><stop offset="0.1939" stop-color="#afff00"/><stop offset="0.1953" stop-color="#5fff14"/><stop offset="0.1967" stop-color="#00fc46"/><stop offset="0.1981" stop-color="#00fe6f"/><stop offset="0.1990" stop-color="#00ff82"/><stop offset="0.2026" stop-color="#00ffc8"/><stop offset="0.2061" stop-color="#00ffff"/><stop offset="0.2201" stop-color="#004dff"/><stop offset="0.2826" stop-color="#0002ff"/><stop offset="0.3241" stop-color="#0028ff"/><stop offset="0.3503" stop-color="#00b2ff"/><stop offset="0.3659" stop-color="#00ffff"/><stop offset="0.3721" stop-color="#00ffc8"/><stop offset="0.3784" stop-color="#00ff82"/><stop offset="0.3799" stop-color="#00fe6f"/><stop offset="0.3830" stop-color="#00fc46"/><stop offset="0.3860" stop-color="#5fff14"/><stop offset="0.3891" stop-color="#afff00"/><stop offset="0.3926" stop-color="#ffff00"/><stop offset="0.4019" stop-color="#ff8000"/><stop offset="0.4110" stop-color="#ff0000"/><stop offset="0.4282" stop-color="#f50000"/><stop offset="0.4366" stop-color="#ff0000"/><stop offset="0.4516" stop-color="#ff1200"/><stop offset="0.4630" stop-color="#ff0000"/><stop offset="0.4782" stop-color="#e70000"/><stop offset="0.4927" stop-color="#bd0000"/><stop offset="0.5052" stop-color="#d70000"/><stop offset="0.5139" stop-color="#f20000"/><stop offset="0.5210" stop-color="#ff0000"/><stop offset="0.5340" stop-color="#ff8000"/><stop offset="0.5523" stop-color="#ffff00"/><stop offset="0.5576" stop-color="#afff00"/><stop offset="0.5622" stop-color="#5fff14"/><stop offset="0.5668" stop-color="#00fc46"/><stop offset="0.5714" stop-color="#00fe6f"/><stop offset="0.5742" stop-color="#00ff82"/><stop offset="0.5856" stop-color="#00ffc8"/><stop offset="0.5967" stop-color="#00ffff"/><stop offset="0.6263" stop-color="#0094ff"/><stop offset="0.6468" stop-color="#0070ff"/><stop offset="0.6718" stop-color="#009eff"/><stop offset="0.6965" stop-color="#0038ff"/><stop offset="0.7096" stop-color="#0019ff"/><stop offset="0.7234" stop-color="#000aff"/><stop offset="0.7343" stop-color="#0000ff"/><stop offset="0.7365" stop-color="#0000fd"/><stop offset="0.7520" stop-color="#0000f2"/><stop offset="0.7753" stop-color="#0000dc"/><stop offset="0.8616" stop-color="#0000b2"/><stop offset="0.9939" stop-color="#00009e"/></linearGradient>
<linearGradient id="h74"><stop offset="0.0061" stop-color="#00008d"/><stop offset="0.0806" stop-color="#0000cd"/><stop offset="0.1062" stop-color="#0000ff"/><stop offset="0.1299" stop-color="#0080ff"/><stop offset="0.1398" stop-color="#00ffff"/><stop offset="0.1423" stop-color="#00ffc8"/><stop offset="0.1448" stop-color="#00ff82"/><stop offset="0.1455" stop-color="#00fe6f"/><stop offset="0.1468" stop-color="#00fc46"/><stop offset="0.1482" stop-color="#5fff14"/><stop offset="0.1496" stop-color="#afff00"/><stop offset="0.1512" stop-color="#ffff00"/><stop offset="0.1638" stop-color="#ff2300"/><stop offset="0.1836" stop-color="#ff0a00"/><stop offset="0.1929" stop-color="#ffff00"/><stop offset="0.1945" stop-color="#afff00"/><stop offset="0.1959" stop-color="#5fff14"/><stop offset="0.1973" stop-color="#00fc46"/><stop offset="0.1988" stop-color="#00fe6f"/><stop offset="0.1997" stop-color="#00ff82"/><stop offset="0.2033" stop-color="#00ffc8"/><stop offset="0.2068" stop-color="#00ffff"/><stop offset="0.2207" stop-color="#004dff"/><stop offset="0.2833" stop-color="#0002ff"/><stop offset="0.3251" stop-color="#0028ff"/><stop offset="0.3515" stop-color="#00b2ff"/><stop offset="0.3672" stop-color="#00ffff"/><stop offset="0.3734" stop-color="#00ffc8"/><stop offset="0.3797" stop-color="#00ff82"/><stop offset="0.3813" stop-color="#00fe6f"/><stop offset="0.3843" stop-color="#00fc46"/><stop offset="0.3874" stop-color="#5fff14"/><stop offset="0.3905" stop-color="#afff00"/><stop offset="0.3940" stop-color="#ffff00"/><stop offset="0.4032" stop-color="#ff8000"/><stop offset="0.4123" stop-color="#ff0000"/><stop offset="0.4295" stop-color="#f50000"/><stop offset="0.4377" stop-color="#ff0000"/><stop offset="0.4531" stop-color="#ff1300"/><stop offset="0.4649" stop-color="#ff0000"/><stop offset="0.4792" stop-color="#e80000"/><stop offset="0.4938" stop-color="#bf0000"/><stop offset="0.5064" stop-color="#d80000"/><stop offset="0.5151" stop-color="#f30000"/><stop offset="0.5223" stop-color="#ff0000"/><stop offset="0.5356" stop-color="#ff8000"/><stop offset="0.5536" stop-color="#ffff00"/><stop offset="0.5589" stop-color="#afff00"/><stop offset="0.5635" stop-color="#5fff14"/><stop offset="0.5681" stop-color="#00fc46"/><stop offset="0.5726" stop-color="#00fe6f"/><stop offset="0.5755" stop-color="#00ff82"/><stop offset="0.5868" stop-color="#00ffc8"/><stop offset="0.5980" stop-color="#00ffff"/><stop offset="0.6271" stop-color="#0094ff"/><stop offset="0.6475" stop-color="#0070ff"/><stop offset="0.6724" stop-color="#00a1ff"/><stop offset="0.6967" stop-color="#0038ff"/><stop offset="0.7097" stop-color="#0019ff"/><stop offset="0.7234" stop-color="#000aff"/><stop offset="0.7342" stop-color="#0000ff"/><stop offset="0.7364" stop-color="#0000fd"/><stop offset="0.7515" stop-color="#0000f2"/><stop offset="0.7745" stop-color="#0000dc"/><stop offset="0.8606" stop-color="#0000b2"/><stop offset="0.9939" stop-color="#00009d"/></linearGradient>
<linearGradient id="h75"><stop offset="0.0061" stop-color="#00008d"/><stop offset="0.0816" stop-color="#0000cd"/><stop offset="0.1072" stop-color="#0000ff"/><stop offset="0.1306" stop-color="#0080ff"/><stop offset="0.1405" stop-color="#00ffff"/><stop offset="0.1430" stop-color="#00ffc8"/><stop offset="0.1455" stop-color="#00ff82"/><stop offset="0.1462" stop-color="#00fe6f"/><stop offset="0.1475" stop-color="#00fc46"/><stop offset="0.1489" stop-color="#5fff14"/><stop offset="0.1503" stop-color="#afff00"/><stop offset="0.1519" stop-color="#ffff00"/><stop offset="0.1644" stop-color="#ff2500"/><stop offset="0.1841" stop-color="#ff0a00"/><stop offset="0.1935" stop-color="#ffff00"/><stop offset="0.1951" stop-color="#afff00"/><stop offset="0.1965" stop-color="#5fff14"/><stop offset="0.1980" stop-color="#00fc46"/><stop offset="0.1994" stop-color="#00fe6f"/><stop offset="0.2003" stop-color="#00ff82"/><stop offset="0.2038" stop-color="#00ffc8"/><stop offset="0.2073" stop-color="#00ffff"/><stop offset="0.2212" stop-color="#004dff"/><stop offset="0.2840" stop-color="#0002ff"/><stop offset="0.3261" stop-color="#0027ff"/><stop offset="0.3528" stop-color="#00b2ff"/><stop offset="0.3684" stop-color="#00ffff"/><stop offset="0.3746" stop-color="#00ffc8"/><stop offset="0.3810" stop-color="#00ff82"/><stop offset="0.3826" stop-color="#00fe6f"/><stop offset="0.3857" stop-color="#00fc46"/><stop offset="0.3888" stop-color="#5fff14"/><stop offset="0.3919" stop-color="#afff00"/><stop offset="0.3955" stop-color="#ffff00"/><stop offset="0.4046" stop-color="#ff8000"/><stop offset="0.4135" stop-color="#ff0000"/><stop offset="0.4308" stop-color="#f50000"/><stop offset="0.4388" stop-color="#ff0000"/><stop offset="0.4546" stop-color="#ff1400"/><stop offset="0.4667" stop-color="#ff0000"/><stop offset="0.4802" stop-color="#e90000"/><stop offset="0.4949" stop-color="#c10000"/><stop offset="0.5075" stop-color="#d90000"/><stop offset="0.5163" stop-color="#f30000"/><stop offset="0.5237" stop-color="#ff0000"/><stop offset="0.5373" stop-color="#ff8000"/><stop offset="0.5549" stop-color="#ffff00"/><stop offset="0.5602" stop-color="#afff00"/><stop offset="0.5648" stop-color="#5fff14"/><stop offset="0.5693" stop-color="#00fc46"/><stop offset="0.5739" stop-color="#00fe6f"/><stop offset="0.5767" stop-color="#00ff82"/><stop offset="0.5881" stop-color="#00ffc8"/><stop offset="0.5992" stop-color="#00ffff"/><stop offset="0.6278" stop-color="#0094ff"/><stop offset="0.6482" stop-color="#0070ff"/><stop offset="0.6730" stop-color="#00a5ff"/><stop offset="0.6968" stop-color="#0038ff"/><stop offset="0.7098" stop-color="#0019ff"/><stop offset="0.7234" stop-color="#000aff"/><stop offset="0.7341" stop-color="#0000ff"/><stop offset="0.7363" stop-color="#0000fd"/><stop offset="0.7511" stop-color="#0000f2"/><stop offset="0.7737" stop-color="#0000dc"/><stop offset="0.8596" stop-color="#0000b1"/><stop offset="0.9939" stop-color="#00009c"/></linearGradient>
<linearGradient id="h76"><stop offset="0.0061" stop-color="#00008d"/><stop offset="0.0826" stop-color="#0000cd"/><stop offset="0.1081" stop-color="#0000ff"/><stop offset="0.1312" stop-color="#0080ff"/><stop offset="0.1411" stop-color="#00ffff"/><stop offset="0.1436" stop-color="#00ffc8"/><stop offset="0.1462" stop-color="#00ff82"/><stop offset="0.1468" stop-color="#00fe6f"/><stop offset="0.1482" stop-color="#00fc46"/><stop offset="0.1495" stop-color="#5fff14"/><stop offset="0.1509" stop-color="#afff00"/><stop offset="0.1525" stop-color="#ffff00"/><stop offset="0.1650" stop-color="#ff2700"/><stop offset="0.1845" stop-color="#ff0900"/><stop offset="0.1941" stop-color="#ffff00"/><stop offset="0.1957" stop-color="#afff00"/><stop offset="0.1971" stop-color="#5fff14"/><stop offset="0.1986" stop-color="#00fc46"/><stop offset="0.2000" stop-color="#00fe6f"/><stop offset="0.2008" stop-color="#00ff82"/><stop offset="0.2043" stop-color="#00ffc8"/><stop offset="0.2077" stop-color="#00ffff"/><stop offset="0.2216" stop-color="#004dff"/><stop offset="0.2847" stop-color="#0001ff"/><stop offset="0.3271" stop-color="#0027ff"/><stop offset="0.3540" stop-color="#00b2ff"/><stop offset="0.3696" stop-color="#00ffff"/><stop offset="0.3759" stop-color="#00ffc8"/><stop offset="0.3823" stop-color="#00ff82"/><stop offset="0.3839" stop-color="#00fe6f"/><stop offset="0.3870" stop-color="#00fc46"/><stop offset="0.3901" stop-color="#5fff14"/><stop offset="0.3932" stop-color="#afff00"/><stop offset="0.3969" stop-color="#ffff00"/><stop offset="0.4059" stop-color="#ff8000"/><stop offset="0.4148" stop-color="#ff0000"/><stop offset="0.4321" stop-color="#f50000"/><stop offset="0.4400" stop-color="#ff0000"/><stop offset="0.4561" stop-color="#ff1500"/><stop offset="0.4686" stop-color="#ff0000"/><stop offset="0.4812" stop-color="#ea0000"/><stop offset="0.4960" stop-color="#c30000"/><stop offset="0.5087" stop-color="#da0000"/><stop offset="0.5175" stop-color="#f30000"/><stop offset="0.5251" stop-color="#ff0000"/><stop offset="0.5389" stop-color="#ff8000"/><stop offset="0.5563" stop-color="#ffff00"/><stop offset="0.5615" stop-color="#afff00"/><stop offset="0.5661" stop-color="#5fff14"/><stop offset="0.5706" stop-color="#00fc46"/><stop offset="0.5751" stop-color="#00fe6f"/><stop offset="0.5780" stop-color="#00ff82"/><stop offset="0.5893" stop-color="#00ffc8"/><stop offset="0.6005" stop-color="#00ffff"/><stop offset="0.6286" stop-color="#0094ff"/><stop offset="0.6489" stop-color="#0070ff"/><stop offset="0.6735" stop-color="#00a9ff"/><stop offset="0.6970" stop-color="#0038ff"/><stop offset="0.7099" stop-color="#0019ff"/><stop offset="0.7234" stop-color="#000aff"/><stop offset="0.7340" stop-color="#0000ff"/><stop offset="0.7362" stop-color="#0000fd"/><stop offset="0.7507" stop-color="#0000f2"/><stop offset="0.7729" stop-color="#0000dc"/><stop offset="0.8585" stop-color="#0000b1"/><stop offset="0.9939" stop-color="#00009b"/></linearGradient>
<linearGradient id="h77"><stop offset="0.0061" stop-color="#00008c"/><stop offset="0.0836" stop-color="#0000cd"/><stop offset="0.1091" stop-color="#0000ff"/><stop offset="0.1318" stop-color="#0080ff"/><stop offset="0.1417" stop-color="#00ffff"/><stop offset="0.1442" stop-color="#00ffc8"/><stop offset="0.1468" stop-color="#00ff82"/><stop offset="0.1474" stop-color="#00fe6f"/><stop offset="0.1488" stop-color="#00fc46"/><stop offset="0.1501" stop-color="#5fff14"/><stop offset="0.1515" stop-color="#afff00"/><stop offset="0.1531" stop-color="#ffff00"/><stop offset="0.1657" stop-color="#ff2900"/><stop offset="0.1848" stop-color="#ff0700"/><stop offset="0.1947" stop-color="#ffff00"/><stop offset="0.1963" stop-color="#afff00"/><stop offset="0.1977" stop-color="#5fff14"/><stop offset="0.1991" stop-color="#00fc46"/><stop offset="0.2005" stop-color="#00fe6f"/><stop offset="0.2014" stop-color="#00ff82"/><stop offset="0.2048" stop-color="#00ffc8"/><stop offset="0.2081" stop-color="#00ffff"/><stop offset="0.2219" stop-color="#004dff"/><stop offset="0.2854" stop-color="#0001ff"/><stop offset="0.3281" stop-color="#0026ff"/><stop offset="0.3552" stop-color="#00b2ff"/><stop offset="0.3708" stop-color="#00ffff"/><stop offset="0.3772" stop-color="#00ffc8"/><stop offset="0.3836" stop-color="#00ff82"/><stop offset="0.3852" stop-color="#00fe6f"/><stop offset="0.3884" stop-color="#00fc46"/><stop offset="0.3915" stop-color="#5fff14"/><stop offset="0.3946" stop-color="#afff00"/><stop offset="0.3983" stop-color="#ffff00"/><stop offset="0.4073" stop-color="#ff8000"/><stop offset="0.4160" stop-color="#ff0000"/><stop offset="0.4334" stop-color="#f50000"/><stop offset="0.4411" stop-color="#ff0000"/><stop offset="0.4576" stop-color="#ff1600"/><stop offset="0.4704" stop-color="#ff0000"/><stop offset="0.4823" stop-color="#eb0000"/><stop offset="0.4971" stop-color="#c40000"/><stop offset="0.5098" stop-color="#db0000"/><stop offset="0.5187" stop-color="#f40000"/><stop offset="0.5264" stop-color="#ff0000"/><stop offset="0.5406" stop-color="#ff8000"/><stop offset="0.5576" stop-color="#ffff00"/><stop offset="0.5628" stop-color="#afff00"/><stop offset="0.5674" stop-color="#5fff14"/><stop offset="0.5719" stop-color="#00fc46"/><stop offset="0.5764" stop-color="#00fe6f"/><stop offset="0.5792" stop-color="#00ff82"/><stop offset="0.5906" stop-color="#00ffc8"/><stop offset="0.6017" stop-color="#00ffff"/><stop offset="0.6294" stop-color="#0094ff"/><stop offset="0.6496" stop-color="#0070ff"/><stop offset="0.6741" stop-color="#00adff"/><stop offset="0.6972" stop-color="#0038ff"/><stop offset="0.7100" stop-color="#0019ff"/><stop offset="0.7234" stop-color="#000aff"/><stop offset="0.7339" stop-color="#0000ff"/><stop offset="0.7361" stop-color="#0000fd"/><stop offset="0.7503" stop-color="#0000f2"/><stop offset="0.7721" stop-color="#0000dc"/><stop offset="0.8575" stop-color="#0000b1"/><stop offset="0.9939" stop-color="#00009b"/></linearGradient>
<linearGradient id="h78"><stop offset="0.0061" stop-color="#00008c"/><stop offset="0.0846" stop-color="#0000cd"/><stop offset="0.1101" stop-color="#0000ff"/><stop offset="0.1324" stop-color="#0080ff"/><stop offset="0.1423" stop-color="#00ffff"/><stop offset="0.1448" stop-color="#00ffc8"/><stop offset="0.1473" stop-color="#00ff82"/><stop offset="0.1480" stop-color="#00fe6f"/><stop offset="0.1493" stop-color="#00fc46"/><stop offset="0.1507" stop-color="#5fff14"/><stop offset="0.1521" stop-color="#afff00"/><stop offset="0.1536" stop-color="#ffff00"/><stop offset="0.1663" stop-color="#ff2b00"/><stop offset="0.1851" stop-color="#ff0600"/><stop offset="0.1953" stop-color="#ffff00"/><stop offset="0.1969" stop-color="#afff00"/><stop offset="0.1983" stop-color="#5fff14"/><stop offset="0.1997" stop-color="#00fc46"/><stop offset="0.2010" stop-color="#00fe6f"/><stop offset="0.2019" stop-color="#00ff82"/><stop offset="0.2052" stop-color="#00ffc8"/><stop offset="0.2084" stop-color="#00ffff"/><stop offset="0.2223" stop-color="#004dff"/><stop offset="0.2861" stop-color="#0001ff"/><stop offset="0.3291" stop-color="#0026ff"/><stop offset="0.3565" stop-color="#00b2ff"/><stop offset="0.3720" stop-color="#00ffff"/><stop offset="0.3784" stop-color="#00ffc8"/><stop offset="0.3849" stop-color="#00ff82"/><stop offset="0.3866" stop-color="#00fe6f"/><stop offset="0.3897" stop-color="#00fc46"/><stop offset="0.3929" stop-color="#5fff14"/><stop offset="0.3960" stop-color="#afff00"/><stop offset="0.3997" stop-color="#ffff00"/><stop offset="0.4086" stop-color="#ff8000"/><stop offset="0.4173" stop-color="#ff0000"/><stop offset="0.4347" stop-color="#f50000"/><stop offset="0.4423" stop-color="#ff0000"/><stop offset="0.4591" stop-color="#ff1700"/><stop offset="0.4722" stop-color="#ff0000"/><stop offset="0.4833" stop-color="#ec0000"/><stop offset="0.4982" stop-color="#c60000"/><stop offset="0.5110" stop-color="#dd0000"/><stop offset="0.5199" stop-color="#f40000"/><stop offset="0.5278" stop-color="#ff0000"/><stop offset="0.5422" stop-color="#ff8000"/><stop offset="0.5589" stop-color="#ffff00"/><stop offset="0.5641" stop-color="#afff00"/><stop offset="0.5686" stop-color="#5fff14"/><stop offset="0.5731" stop-color="#00fc46"/><stop offset="0.5776" stop-color="#00fe6f"/><stop offset="0.5805" stop-color="#00ff82"/><stop offset="0.5918" stop-color="#00ffc8"/><stop offset="0.6030" stop-color="#00ffff"/><stop offset="0.6302" stop-color="#0094ff"/><stop offset="0.6503" stop-color="#0070ff"/><stop offset="0.6747" stop-color="#00b1ff"/><stop offset="0.6973" stop-color="#0038ff"/><stop offset="0.7101" stop-color="#0019ff"/><stop offset="0.7234" stop-color="#000aff"/><stop offset="0.7338" stop-color="#0000ff"/><stop offset="0.7359" stop-color="#0000fd"/><stop offset="0.7499" stop-color="#0000f2"/><stop offset="0.7713" stop-color="#0000dc"/><stop offset="0.8565" stop-color="#0000b1"/><stop offset="0.9939" stop-color="#00009a"/></linearGradient>
<linearGradient id="h79"><stop offset="0.0061" stop-color="#00008c"/><stop offset="0.0856" stop-color="#0000cd"/><stop offset="0.1110" stop-color="#0000ff"/><stop offset="0.1330" stop-color="#0080ff"/><stop offset="0.1429" stop-color="#00ffff"/><stop offset="0.1454" stop-color="#00ffc8"/><stop offset="0.1479" stop-color="#00ff82"/><stop offset="0.1485" stop-color="#00fe6f"/><stop offset="0.1499" stop-color="#00fc46"/><stop offset="0.1513" stop-color="#5fff14"/><stop offset="0.1526" stop-color="#afff00"/><stop offset="0.1542" stop-color="#ffff00"/><stop offset="0.1669" stop-color="#ff2d00"/><stop offset="0.1854" stop-color="#ff0600"/><stop offset="0.1959" stop-color="#ffff00"/><stop offset="0.1975" stop-color="#afff00"/><stop offset="0.1988" stop-color="#5fff14"/><stop offset="0.2002" stop-color="#00fc46"/><stop offset="0.2016" stop-color="#00fe6f"/><stop offset="0.2024" stop-color="#00ff82"/><stop offset="0.2056" stop-color="#00ffc8"/><stop offset="0.2088" stop-color="#00ffff"/><stop offset="0.2226" stop-color="#004dff"/><stop offset="0.2868" stop-color="#0001ff"/><stop offset="0.3302" stop-color="#0025ff"/><stop offset="0.3577" stop-color="#00b2ff"/><stop offset="0.3733" stop-color="#00ffff"/><stop offset="0.3797" stop-color="#00ffc8"/><stop offset="0.3863" stop-color="#00ff82"/><stop offset="0.3879" stop-color="#00fe6f"/><stop offset="0.3911" stop-color="#00fc46"/><stop offset="0.3942" stop-color="#5fff14"/><stop offset="0.3974" stop-color="#afff00"/><stop offset="0.4011" stop-color="#ffff00"/><stop offset="0.4099" stop-color="#ff8000"/><stop offset="0.4185" stop-color="#ff0000"/><stop offset="0.4360" stop-color="#f50000"/><stop offset="0.4434" stop-color="#ff0000"/><stop offset="0.4606" stop-color="#ff1700"/><stop offset="0.4740" stop-color="#ff0000"/><stop offset="0.4843" stop-color="#ed0000"/><stop offset="0.4993" stop-color="#c80000"/><stop offset="0.5121" stop-color="#de0000"/><stop offset="0.5211" stop-color="#f40000"/><stop offset="0.5292" stop-color="#ff0000"/><stop offset="0.5438" stop-color="#ff8000"/><stop offset="0.5602" stop-color="#ffff00"/><stop offset="0.5654" stop-color="#afff00"/><stop offset="0.5699" stop-color="#5fff14"/><stop offset="0.5744" stop-color="#00fc46"/><stop offset="0.5789" stop-color="#00fe6f"/><stop offset="0.5817" stop-color="#00ff82"/><stop offset="0.5931" stop-color="#00ffc8"/><stop offset="0.6043" stop-color="#00ffff"/><stop offset="0.6309" stop-color="#0094ff"/><stop offset="0.6510" stop-color="#0070ff"/><stop offset="0.6752" stop-color="#00b4ff"/><stop offset="0.6975" stop-color="#0038ff"/><stop offset="0.7102" stop-color="#0019ff"/><stop offset="0.7234" stop-color="#000aff"/><stop offset="0.7337" stop-color="#0000ff"/><stop offset="0.7358" stop-color="#0000fd"/><stop offset="0.7495" stop-color="#0000f2"/><stop offset="0.7705" stop-color="#0000dc"/><stop offset="0.8555" stop-color="#0000b0"/><stop offset="0.9939" stop-color="#000099"/></linearGradient>
<linearGradient id="h80"><stop offset="0.0061" stop-color="#00008b"/><stop offset="0.0865" stop-color="#0000cd"/><stop offset="0.1120" stop-color="#0000ff"/><stop offset="0.1336" stop-color="#0080ff"/><stop offset="0.1435" stop-color="#00ffff"/><stop offset="0.1460" stop-color="#00ffc8"/><stop offset="0.1485" stop-color="#00ff82"/><stop offset="0.1491" stop-color="#00fe6f"/><stop offset="0.1505" stop-color="#00fc46"/><stop offset="0.1518" stop-color="#5fff14"/><stop offset="0.1532" stop-color="#afff00"/><stop offset="0.1548" stop-color="#ffff00"/><stop offset="0.1675" stop-color="#ff2e00"/><stop offset="0.1858" stop-color="#ff0500"/><stop offset="0.1965" stop-color="#ffff00"/><stop offset="0.1981" stop-color="#afff00"/><stop offset="0.1994" stop-color="#5fff14"/><stop offset="0.2008" stop-color="#00fc46"/><stop offset="0.2021" stop-color="#00fe6f"/><stop offset="0.2029" stop-color="#00ff82"/><stop offset="0.2061" stop-color="#00ffc8"/><stop offset="0.2092" stop-color="#00ffff"/><stop offset="0.2230" stop-color="#004dff"/><stop offset="0.2875" stop-color="#0000ff"/><stop offset="0.3312" stop-color="#0025ff"/><stop offset="0.3590" stop-color="#00b2ff"/><stop offset="0.3745" stop-color="#00ffff"/><stop offset="0.3810" stop-color="#00ffc8"/><stop offset="0.3876" stop-color="#00ff82"/><stop offset="0.3892" stop-color="#00fe6f"/><stop offset="0.3924" stop-color="#00fc46"/><stop offset="0.3956" stop-color="#5fff14"/><stop offset="0.3988" stop-color="#afff00"/><stop offset="0.4025" stop-color="#ffff00"/><stop offset="0.4113" stop-color="#ff8000"/><stop offset="0.4198" stop-color="#ff0000"/><stop offset="0.4372" stop-color="#f50000"/><stop offset="0.4446" stop-color="#ff0000"/><stop offset="0.4620" stop-color="#ff1800"/><stop offset="0.4758" stop-color="#ff0000"/><stop offset="0.4854" stop-color="#ee0000"/><stop offset="0.5005" stop-color="#ca0000"/><stop offset="0.5133" stop-color="#df0000"/><stop offset="0.5224" stop-color="#f40000"/><stop offset="0.5305" stop-color="#ff0000"/><stop offset="0.5454" stop-color="#ff8000"/><stop offset="0.5615" stop-color="#ffff00"/><stop offset="0.5667" stop-color="#afff00"/><stop offset="0.5712" stop-color="#5fff14"/><stop offset="0.5757" stop-color="#00fc46"/><stop offset="0.5801" stop-color="#00fe6f"/><stop offset="0.5830" stop-color="#00ff82"/><stop offset="0.5943" stop-color="#00ffc8"/><stop offset="0.6055" stop-color="#00ffff"/><stop offset="0.6317" stop-color="#0094ff"/><stop offset="0.6517" stop-color="#0070ff"/><stop offset="0.6758" stop-color="#00b8ff"/><stop offset="0.6977" stop-color="#0038ff"/><stop offset="0.7103" stop-color="#0019ff"/><stop offset="0.7234" stop-color="#000aff"/><stop offset="0.7336" stop-color="#0000ff"/><stop offset="0.7357" stop-color="#0000fd"/><stop offset="0.7491" stop-color="#0000f2"/><stop offset="0.7698" stop-color="#0000dc"/><stop offset="0.8546" stop-color="#0000b0"/><stop offset="0.9939" stop-color="#000098"/></linearGradient>
<linearGradient id="h81"><stop offset="0.0061" stop-color="#00008b"/><stop offset="0.0875" stop-color="#0000cd"/><stop offset="0.1129" stop-color="#0000ff"/><stop offset="0.1342" stop-color="#0080ff"/><stop offset="0.1441" stop-color="#00ffff"/><stop offset="0.1466" stop-color="#00ffc8"/><stop offset="0.1491" stop-color="#00ff82"/><stop offset="0.1497" stop-color="#00fe6f"/><stop offset="0.1511" stop-color="#00fc46"/><stop offset="0.1524" stop-color="#5fff14"/><stop offset="0.1538" stop-color="#afff00"/><stop offset="0.1554" stop-color="#ffff00"/><stop offset="0.1681" stop-color="#ff2e00"/><stop offset="0.1863" stop-color="#ff0500"/><stop offset="0.1971" stop-color="#ffff00"/><stop offset="0.1987" stop-color="#afff00"/><stop offset="0.2000" stop-color="#5fff14"/><stop offset="0.2013" stop-color="#00fc46"/><stop offset="0.2026" stop-color="#00fe6f"/><stop offset="0.2034" stop-color="#00ff82"/><stop offset="0.2066" stop-color="#00ffc8"/><stop offset="0.2097" stop-color="#00ffff"/><stop offset="0.2235" stop-color="#004dff"/><stop offset="0.2883" stop-color="#0000ff"/><stop offset="0.3322" stop-color="#0024ff"/><stop offset="0.3602" stop-color="#00b2ff"/><stop offset="0.3757" stop-color="#00ffff"/><stop offset="0.3823" stop-color="#00ffc8"/><stop offset="0.3889" stop-color="#00ff82"/><stop offset="0.3906" stop-color="#00fe6f"/><stop offset="0.3938" stop-color="#00fc46"/><stop offset="0.3970" stop-color="#5fff14"/><stop offset="0.4002" stop-color="#afff00"/><stop offset="0.4039" stop-color="#ffff00"/><stop offset="0.4126" stop-color="#ff8000"/><stop offset="0.4210" stop-color="#ff0000"/><stop offset="0.4385" stop-color="#f50000"/><stop offset="0.4457" stop-color="#ff0000"/><stop offset="0.4635" stop-color="#ff1900"/><stop offset="0.4776" stop-color="#ff0000"/><stop offset="0.4865" stop-color="#ef0000"/><stop offset="0.5016" stop-color="#cb0000"/><stop offset="0.5145" stop-color="#e00000"/><stop offset="0.5236" stop-color="#f50000"/><stop offset="0.5319" stop-color="#ff0000"/><stop offset="0.5470" stop-color="#ff8000"/><stop offset="0.5629" stop-color="#ffff00"/><stop offset="0.5681" stop-color="#afff00"/><stop offset="0.5725" stop-color="#5fff14"/><stop offset="0.5769" stop-color="#00fc46"/><stop offset="0.5814" stop-color="#00fe6f"/><stop offset="0.5842" stop-color="#00ff82"/><stop offset="0.5956" stop-color="#00ffc8"/><stop offset="0.6068" stop-color="#00ffff"/><stop offset="0.6325" stop-color="#0094ff"/><stop offset="0.6524" stop-color="#0070ff"/><stop offset="0.6763" stop-color="#00bbff"/><stop offset="0.6978" stop-color="#0038ff"/><stop offset="0.7104" stop-color="#0019ff"/><stop offset="0.7234" stop-color="#000aff"/><stop offset="0.7335" stop-color="#0000ff"/><stop offset="0.7356" stop-color="#0000fd"/><stop offset="0.7487" stop-color="#0000f2"/><stop offset="0.7690" stop-color="#0000dc"/><stop offset="0.8537" stop-color="#0000b0"/><stop offset="0.9939" stop-color="#000097"/></linearGradient>
<linearGradient id="h82"><stop offset="0.0061" stop-color="#00008b"/><stop offset="0.0885" stop-color="#0000cd"/><stop offset="0.1139" stop-color="#0000ff"/><stop offset="0.1348" stop-color="#0080ff"/><stop offset="0.1447" stop-color="#00ffff"/><stop offset="0.1471" stop-color="#00ffc8"/><stop offset="0.1497" stop-color="#00ff82"/><stop offset="0.1503" stop-color="#00fe6f"/><stop offset="0.1517" stop-color="#00fc46"/><stop offset="0.1530" stop-color="#5fff14"/><stop offset="0.1544" stop-color="#afff00"/><stop offset="0.1560" stop-color="#ffff00"/><stop offset="0.1686" stop-color="#ff2e00"/><stop offset="0.1869" stop-color="#ff0500"/><stop offset="0.1977" stop-color="#ffff00"/><stop offset="0.1992" stop-color="#afff00"/><stop offset="0.2005" stop-color="#5fff14"/><stop offset="0.2019" stop-color="#00fc46"/><stop offset="0.2032" stop-color="#00fe6f"/><stop offset="0.2040" stop-color="#00ff82"/><stop offset="0.2071" stop-color="#00ffc8"/><stop offset="0.2102" stop-color="#00ffff"/><stop offset="0.2240" stop-color="#004dff"/><stop offset="0.2889" stop-color="#0000ff"/><stop offset="0.2890" stop-color="#0000ff"/><stop offset="0.2892" stop-color="#0000ff"/><stop offset="0.3332" stop-color="#0023ff"/><stop offset="0.3615" stop-color="#00b2ff"/><stop offset="0.3770" stop-color="#00ffff"/><stop offset="0.3835" stop-color="#00ffc8"/><stop offset="0.3902" stop-color="#00ff82"/><stop offset="0.3919" stop-color="#00fe6f"/><stop offset="0.3951" stop-color="#00fc46"/><stop offset="0.3984" stop-color="#5fff14"/><stop offset="0.4016" stop-color="#afff00"/><stop offset="0.4053" stop-color="#ffff00"/><stop offset="0.4140" stop-color="#ff8000"/><stop offset="0.4223" stop-color="#ff0000"/><stop offset="0.4398" stop-color="#f50000"/><stop offset="0.4469" stop-color="#ff0000"/><stop offset="0.4649" stop-color="#ff1a00"/><stop offset="0.4793" stop-color="#ff0000"/><stop offset="0.4875" stop-color="#f00000"/><stop offset="0.5028" stop-color="#cd0000"/><stop offset="0.5157" stop-color="#e10000"/><stop offset="0.5249" stop-color="#f50000"/><stop offset="0.5333" stop-color="#ff0000"/><stop offset="0.5486" stop-color="#ff8000"/><stop offset="0.5642" stop-color="#ffff00"/><stop offset="0.5694" stop-color="#afff00"/><stop offset="0.5738" stop-color="#5fff14"/><stop offset="0.5782" stop-color="#00fc46"/><stop offset="0.5826" stop-color="#00fe6f"/><stop offset="0.5855" stop-color="#00ff82"/><stop offset="0.5968" stop-color="#00ffc8"/><stop offset="0.6080" stop-color="#00ffff"/><stop offset="0.6333" stop-color="#0094ff"/><stop offset="0.6530" stop-color="#0070ff"/><stop offset="0.6769" stop-color="#00beff"/><stop offset="0.6980" stop-color="#0038ff"/><stop offset="0.7105" stop-color="#0019ff"/><stop offset="0.7234" stop-color="#000aff"/><stop offset="0.7334" stop-color="#0000ff"/><stop offset="0.7355" stop-color="#0000fd"/><stop offset="0.7482" stop-color="#0000f2"/><stop offset="0.7682" stop-color="#0000dc"/><stop offset="0.8529" stop-color="#0000b0"/><stop offset="0.9939" stop-color="#000096"/></linearGradient>
<linearGradient id="h83"><stop offset="0.0061" stop-color="#00008a"/><stop offset="0.0895" stop-color="#0000cd"/><stop offset="0.1148" stop-color="#0000ff"/><stop offset="0.1354" stop-color="#0080ff"/><stop offset="0.1452" stop-color="#00ffff"/><stop offset="0.1477" stop-color="#00ffc8"/><stop offset="0.1503" stop-color="#00ff82"/><stop offset="0.1509" stop-color="#00fe6f"/><stop offset="0.1523" stop-color="#00fc46"/><stop offset="0.1536" stop-color="#5fff14"/><stop offset="0.1550" stop-color="#afff00"/><stop offset="0.1566" stop-color="#ffff00"/><stop offset="0.1692" stop-color="#ff2e00"/><stop offset="0.1876" stop-color="#ff0500"/><stop offset="0.1983" stop-color="#ffff00"/><stop offset="0.1998" stop-color="#afff00"/><stop offset="0.2011" stop-color="#5fff14"/><stop offset="0.2024" stop-color="#00fc46"/><stop offset="0.2037" stop-color="#00fe6f"/><stop offset="0.2045" stop-color="#00ff82"/><stop offset="0.2077" stop-color="#00ffc8"/><stop offset="0.2108" stop-color="#00ffff"/><stop offset="0.2246" stop-color="#004dff"/><stop offset="0.2895" stop-color="#0000ff"/><stop offset="0.2898" stop-color="#0000ff"/><stop offset="0.2903" stop-color="#0000ff"/><stop offset="0.3343" stop-color="#0023ff"/><stop offset="0.3627" stop-color="#00b2ff"/><stop offset="0.3782" stop-color="#00ffff"/><stop offset="0.3848" stop-color="#00ffc8"/><stop offset="0.3916" stop-color="#00ff82"/><stop offset="0.3933" stop-color="#00fe6f"/><stop offset="0.3965" stop-color="#00fc46"/><stop offset="0.3997" stop-color="#5fff14"/><stop offset="0.4030" stop-color="#afff00"/><stop offset="0.4067" stop-color="#ffff00"/><stop offset="0.4153" stop-color="#ff8000"/><stop offset="0.4235" stop-color="#ff0000"/><stop offset="0.4410" stop-color="#f50000"/><stop offset="0.4480" stop-color="#ff0000"/><stop offset="0.4663" stop-color="#ff1b00"/><stop offset="0.4811" stop-color="#ff0000"/><stop offset="0.4886" stop-color="#f10000"/><stop offset="0.5040" stop-color="#cf0000"/><stop offset="0.5169" stop-color="#e20000"/><stop offset="0.5261" stop-color="#f50000"/><stop offset="0.5347" stop-color="#ff0000"/><stop offset="0.5501" stop-color="#ff8000"/><stop offset="0.5655" stop-color="#ffff00"/><stop offset="0.5707" stop-color="#afff00"/><stop offset="0.5751" stop-color="#5fff14"/><stop offset="0.5795" stop-color="#00fc46"/><stop offset="0.5839" stop-color="#00fe6f"/><stop offset="0.5867" stop-color="#00ff82"/><stop offset="0.5981" stop-color="#00ffc8"/><stop offset="0.6093" stop-color="#00ffff"/><stop offset="0.6341" stop-color="#0094ff"/><stop offset="0.6536" stop-color="#0070ff"/><stop offset="0.6774" stop-color="#00c1ff"/><stop offset="0.6981" stop-color="#0038ff"/><stop offset="0.7106" stop-color="#0019ff"/><stop offset="0.7234" stop-color="#000aff"/><stop offset="0.7333" stop-color="#0000ff"/><stop offset="0.7353" stop-color="#0000fd"/><stop offset="0.7478" stop-color="#0000f2"/><stop offset="0.7674" stop-color="#0000dc"/><stop offset="0.8521" stop-color="#0000af"/><stop offset="0.9939" stop-color="#000096"/></linearGradient>
<linearGradient id="h84"><stop offset="0.0061" stop-color="#00008a"/><stop offset="0.0904" stop-color="#0000cd"/><stop offset="0.1157" stop-color="#0000ff"/><stop offset="0.1360" stop-color="#0080ff"/><stop offset="0.1458" stop-color="#00ffff"/><stop offset="0.1483" stop-color="#00ffc8"/><stop offset="0.1509" stop-color="#00ff82"/><stop offset="0.1515" stop-color="#00fe6f"/><stop offset="0.1529" stop-color="#00fc46"/><stop offset="0.1543" stop-color="#5fff14"/><stop offset="0.1556" stop-color="#afff00"/><stop offset="0.1572" stop-color="#ffff00"/><stop offset="0.1697" stop-color="#ff2e00"/><stop offset="0.1884" stop-color="#ff0500"/><stop offset="0.1989" stop-color="#ffff00"/><stop offset="0.2004" stop-color="#afff00"/><stop offset="0.2017" stop-color="#5fff14"/><stop offset="0.2030" stop-color="#00fc46"/><stop offset="0.2042" stop-color="#00fe6f"/><stop offset="0.2051" stop-color="#00ff82"/><stop offset="0.2083" stop-color="#00ffc8"/><stop offset="0.2115" stop-color="#00ffff"/><stop offset="0.2252" stop-color="#004dff"/><stop offset="0.2900" stop-color="#0000ff"/><stop offset="0.2906" stop-color="#0000fe"/><stop offset="0.2915" stop-color="#0000ff"/><stop offset="0.3353" stop-color="#0022ff"/><stop offset="0.3640" stop-color="#00b2ff"/><stop offset="0.3795" stop-color="#00ffff"/><stop offset="0.3861" stop-color="#00ffc8"/><stop offset="0.3929" stop-color="#00ff82"/><stop offset="0.3946" stop-color="#00fe6f"/><stop offset="0.3978" stop-color="#00fc46"/><stop offset="0.4011" stop-color="#5fff14"/><stop offset="0.4044" stop-color="#afff00"/><stop offset="0.4081" stop-color="#ffff00"/><stop offset="0.4166" stop-color="#ff8000"/><stop offset="0.4248" stop-color="#ff0000"/><stop offset="0.4423" stop-color="#f50000"/><stop offset="0.4491" stop-color="#ff0000"/><stop offset="0.4678" stop-color="#ff1c00"/><stop offset="0.4829" stop-color="#ff0000"/><stop offset="0.4897" stop-color="#f30000"/><stop offset="0.5051" stop-color="#d00000"/><stop offset="0.5182" stop-color="#e30000"/><stop offset="0.5274" stop-color="#f60000"/><stop offset="0.5361" stop-color="#ff0000"/><stop offset="0.5517" stop-color="#ff8000"/><stop offset="0.5669" stop-color="#ffff00"/><stop offset="0.5720" stop-color="#afff00"/><stop offset="0.5764" stop-color="#5fff14"/><stop offset="0.5808" stop-color="#00fc46"/><stop offset="0.5851" stop-color="#00fe6f"/><stop offset="0.5880" stop-color="#00ff82"/><stop offset="0.5994" stop-color="#00ffc8"/><stop offset="0.6105" stop-color="#00ffff"/><stop offset="0.6349" stop-color="#0094ff"/><stop offset="0.6543" stop-color="#0070ff"/><stop offset="0.6780" stop-color="#00c4ff"/><stop offset="0.6983" stop-color="#0038ff"/><stop offset="0.7107" stop-color="#0019ff"/><stop offset="0.7234" stop-color="#000aff"/><stop offset="0.7332" stop-color="#0000ff"/><stop offset="0.7352" stop-color="#0000fd"/><stop offset="0.7474" stop-color="#0000f2"/><stop offset="0.7666" stop-color="#0000dc"/><stop offset="0.8514" stop-color="#0000af"/><stop offset="0.9939" stop-color="#000095"/></linearGradient>
<linearGradient id="h85"><stop offset="0.0061" stop-color="#00008a"/><stop offset="0.0912" stop-color="#0000cd"/><stop offset="0.1165" stop-color="#0000ff"/><stop offset="0.1364" stop-color="#0080ff"/><stop offset="0.1463" stop-color="#00ffff"/><stop offset="0.1488" stop-color="#00ffc8"/><stop offset="0.1514" stop-color="#00ff82"/><stop offset="0.1520" stop-color="#00fe6f"/><stop offset="0.1534" stop-color="#00fc46"/><stop offset="0.1547" stop-color="#5fff14"/><stop offset="0.1561" stop-color="#afff00"/><stop offset="0.1577" stop-color="#ffff00"/><stop offset="0.1701" stop-color="#ff2e00"/><stop offset="0.1891" stop-color="#ff0500"/><stop offset="0.1993" stop-color="#ffff00"/><stop offset="0.2008" stop-color="#afff00"/><stop offset="0.2021" stop-color="#5fff14"/><stop offset="0.2034" stop-color="#00fc46"/><stop offset="0.2047" stop-color="#00fe6f"/><stop offset="0.2055" stop-color="#00ff82"/><stop offset="0.2088" stop-color="#00ffc8"/><stop offset="0.2120" stop-color="#00ffff"/><stop offset="0.2257" stop-color="#004dff"/><stop offset="0.2904" stop-color="#0000ff"/><stop offset="0.2912" stop-color="#0000fe"/><stop offset="0.2924" stop-color="#0000ff"/><stop offset="0.3362" stop-color="#0022ff"/><stop offset="0.3650" stop-color="#00b2ff"/><stop offset="0.3805" stop-color="#00ffff"/><stop offset="0.3872" stop-color="#00ffc8"/><stop offset="0.3940" stop-color="#00ff82"/><stop offset="0.3957" stop-color="#00fe6f"/><stop offset="0.3989" stop-color="#00fc46"/><stop offset="0.4022" stop-color="#5fff14"/><stop offset="0.4055" stop-color="#afff00"/><stop offset="0.4093" stop-color="#ffff00"/><stop offset="0.4177" stop-color="#ff8000"/><stop offset="0.4258" stop-color="#ff0000"/><stop offset="0.4433" stop-color="#f50000"/><stop offset="0.4501" stop-color="#ff0000"/><stop offset="0.4689" stop-color="#ff1c00"/><stop offset="0.4843" stop-color="#ff0000"/><stop offset="0.4906" stop-color="#f30000"/><stop offset="0.5061" stop-color="#d20000"/><stop offset="0.5191" stop-color="#e40000"/><stop offset="0.5284" stop-color="#f60000"/><stop offset="0.5372" stop-color="#ff0000"/><stop offset="0.5529" stop-color="#ff8000"/><stop offset="0.5679" stop-color="#ffff00"/><stop offset="0.5730" stop-color="#afff00"/><stop offset="0.5774" stop-color="#5fff14"/><stop offset="0.5818" stop-color="#00fc46"/><stop offset="0.5862" stop-color="#00fe6f"/><stop offset="0.5890" stop-color="#00ff82"/><stop offset="0.6004" stop-color="#00ffc8"/><stop offset="0.6115" stop-color="#00ffff"/><stop offset="0.6356" stop-color="#0094ff"/><stop offset="0.6548" stop-color="#0070ff"/><stop offset="0.6784" stop-color="#00c7ff"/><stop offset="0.6984" stop-color="#0038ff"/><stop offset="0.7107" stop-color="#0019ff"/><stop offset="0.7234" stop-color="#000aff"/><stop offset="0.7331" stop-color="#0000ff"/><stop offset="0.7351" stop-color="#0000fd"/><stop offset="0.7471" stop-color="#0000f2"/><stop offset="0.7660" stop-color="#0000dc"/><stop offset="0.8507" stop-color="#0000af"/><stop offset="0.9939" stop-color="#000094"/></linearGradient>
<linearGradient id="cb" x1="0" y1="0" x2="0" y2="1"><stop offset="0.0000" stop-color="#a30000"/><stop offset="0.0878" stop-color="#fa0000"/><stop offset="0.1145" stop-color="#ff0000"/><stop offset="0.1333" stop-color="#ff0a00"/><stop offset="0.2493" stop-color="#ff8700"/><stop offset="0.3732" stop-color="#ffff00"/><stop offset="0.4249" stop-color="#aaff00"/><stop offset="0.4743" stop-color="#6cff34"/><stop offset="0.4853" stop-color="#00f962"/><stop offset="0.5143" stop-color="#00ff82"/><stop offset="0.5691" stop-color="#00ffc8"/><stop offset="0.6240" stop-color="#00ffff"/><stop offset="0.7479" stop-color="#0080ff"/><stop offset="0.8717" stop-color="#0000ff"/><stop offset="1.0000" stop-color="#000085"/></linearGradient>
</defs>
<g id="panel-a">
<line x1="273.4" y1="205.8" x2="1542.0" y2="205.8" stroke="#ebebeb" stroke-width="1.6"/>
<line x1="273.4" y1="488.4" x2="1542.0" y2="488.4" stroke="#ebebeb" stroke-width="1.6"/>
<line x1="780.0" y1="488.4" x2="780.0" y2="961.6" stroke="#ebebeb" stroke-width="1.6"/>
<line x1="805.4" y1="205.8" x2="805.4" y2="961.6" stroke="#ebebeb" stroke-width="1.6"/>
<line x1="970.0" y1="205.8" x2="970.0" y2="961.6" stroke="#ebebeb" stroke-width="1.6"/>
<line x1="1024.6" y1="488.4" x2="1024.6" y2="961.6" stroke="#ebebeb" stroke-width="1.6"/>
<path d="M273.4 961.6v-20M273.4 16.9v20M379.1 961.6v-10.5M379.1 16.9v10.5M484.8 961.6v-20M484.8 16.9v20M590.5 961.6v-10.5M590.5 16.9v10.5M696.3 961.6v-20M696.3 16.9v20M802.0 961.6v-10.5M802.0 16.9v10.5M907.7 961.6v-20M907.7 16.9v20M1013.4 961.6v-10.5M1013.4 16.9v10.5M1119.1 961.6v-20M1119.1 16.9v20M1224.8 961.6v-10.5M1224.8 16.9v10.5M1330.6 961.6v-20M1330.6 16.9v20M1436.3 961.6v-10.5M1436.3 16.9v10.5M1542.0 961.6v-20M1542.0 16.9v20M273.4 961.6h20M1542.0 961.6h-20M273.4 867.1h11M1542.0 867.1h-11M273.4 772.7h20M1542.0 772.7h-20M273.4 678.2h11M1542.0 678.2h-11M273.4 583.7h20M1542.0 583.7h-20M273.4 489.2h11M1542.0 489.2h-11M273.4 394.8h20M1542.0 394.8h-20M273.4 300.3h11M1542.0 300.3h-11M273.4 205.8h20M1542.0 205.8h-20M273.4 111.4h11M1542.0 111.4h-11M273.4 16.9h20M1542.0 16.9h-20" stroke="#262626" stroke-width="3.0" fill="none"/>
<path d="M273.4 926.7L274.9 926.5L276.4 926.2L277.9 926.0L279.4 925.7L280.9 925.5L282.4 925.2L283.9 924.9L285.4 924.6L286.9 924.2L288.4 923.9L289.9 923.6L291.4 923.2L292.9 922.8L294.4 922.5L295.9 922.1L297.4 921.7L298.9 921.3L300.4 920.9L301.9 920.5L303.4 920.1L304.3 919.8L304.9 919.6L306.4 919.2L307.9 918.7L309.4 918.2L310.9 917.7L312.4 917.2L313.9 916.7L315.4 916.2L316.9 915.6L318.4 915.0L319.9 914.4L321.4 913.8L322.9 913.2L324.4 912.6L325.9 912.0L327.4 911.3L328.9 910.7L330.4 910.0L331.9 909.3L333.4 908.6L334.9 907.9L336.4 907.2L337.9 906.5L338.7 906.1L339.4 905.8L340.9 905.0L342.4 904.2L343.9 903.4L345.4 902.5L346.9 901.6L348.4 900.7L349.9 899.8L351.4 898.9L352.9 897.9L354.4 897.0L355.9 896.1L356.0 896.0L357.4 895.1L358.9 894.2L360.4 893.3L361.9 892.4L363.4 891.5L364.9 890.5L366.4 889.5L367.9 888.5L369.4 887.4L370.9 886.3L371.7 885.7L372.4 885.1L373.9 883.9L375.4 882.6L376.9 881.3L378.4 879.9L379.9 878.4L381.4 876.9L382.9 875.3L384.4 873.7L385.9 872.0L387.4 870.3L388.9 868.5L390.4 866.6L391.9 864.7L393.4 862.7L394.9 860.6L396.4 858.4L397.9 856.2L399.4 853.8L400.9 851.3L402.4 848.7L403.9 846.0L405.2 843.5L405.4 843.1L406.9 840.0L408.4 836.7L409.9 833.2L411.4 829.4L412.9 825.5L414.4 821.3L415.9 816.9L416.6 814.8L417.4 812.3L418.9 807.3L420.4 801.9L421.9 796.2L423.4 790.3L424.9 784.1L425.8 780.4L426.4 777.9L427.9 771.3L429.4 764.4L430.9 757.2L432.4 749.7L433.1 746.1L433.9 741.9L435.4 733.7L436.9 725.1L438.4 716.0L439.1 711.7L439.9 706.6L441.4 696.5L442.9 686.0L444.1 677.4L444.4 675.2L445.9 664.3L447.4 653.1L448.7 643.0L448.9 641.4L450.4 629.1L451.9 616.4L452.8 608.7L453.4 603.6L454.9 590.8L456.4 577.2L456.7 574.3L457.9 562.1L459.4 545.7L460.6 532.0L460.9 528.6L462.4 511.2L463.9 492.2L464.2 488.0L465.4 469.2L466.9 442.4L468.4 415.2L469.0 405.0L469.9 390.3L471.4 366.7L472.9 343.4L474.4 319.8L475.0 310.0L475.9 294.9L477.4 269.0L478.9 242.9L480.4 217.3L481.1 205.8L481.9 192.8L483.4 168.6L484.9 144.7L486.4 121.9L487.9 100.5L488.7 90.0L489.4 80.8L490.9 62.9L491.5 58.0L492.4 52.4L493.9 46.6L495.0 51.0L495.4 52.6L496.9 58.6L497.0 59.0L498.4 64.6L499.9 70.7L500.0 71.1L501.4 76.7L502.9 82.8L503.0 83.2L504.4 88.0L505.9 93.3L507.0 99.3L507.4 103.3L508.2 115.0L508.9 125.8L509.3 133.0L510.4 159.4L511.9 199.3L512.2 205.8L513.4 228.0L514.9 251.9L516.4 274.3L517.9 298.3L518.0 300.0L519.4 325.6L520.9 354.4L522.4 383.2L523.6 405.0L523.9 410.2L525.4 436.1L526.9 460.9L528.4 483.7L528.7 488.0L529.9 504.1L531.4 522.7L532.9 540.0L534.4 556.3L535.9 571.5L536.6 578.0L537.4 585.1L538.9 597.4L540.4 609.0L540.8 612.0L541.9 620.1L543.4 630.8L544.9 641.0L546.0 648.0L546.4 650.5L547.9 659.4L549.4 667.8L550.9 675.8L551.7 680.0L552.4 683.6L553.9 691.3L555.4 698.6L556.9 705.7L558.4 712.2L558.6 713.0L559.9 718.2L561.4 723.9L562.9 729.3L564.4 734.5L565.9 739.3L566.6 741.5L567.4 743.9L568.9 748.4L570.4 752.7L571.9 756.8L573.4 760.8L574.9 764.5L576.4 767.9L576.9 769.0L577.9 771.1L579.4 774.1L580.9 777.0L582.4 779.7L583.9 782.3L585.4 784.8L586.9 787.2L588.4 789.6L589.9 792.0L591.4 794.3L592.9 796.5L594.4 798.7L595.9 800.8L597.4 802.8L598.9 804.6L599.8 805.6L600.4 806.3L601.9 807.9L603.4 809.4L604.9 810.9L606.4 812.3L607.9 813.6L609.4 814.7L610.9 815.7L611.3 815.9L612.4 816.5L613.9 817.3L615.4 818.0L616.9 818.7L618.4 819.3L619.9 819.8L621.4 820.2L622.7 820.5L622.9 820.5L624.4 820.8L625.9 821.1L627.4 821.3L628.9 821.4L630.4 821.6L631.9 821.6L633.4 821.6L634.9 821.4L636.4 821.2L637.9 821.0L639.4 820.7L640.9 820.4L642.4 820.0L643.3 819.8L643.9 819.7L645.4 819.2L646.9 818.6L648.4 818.0L649.9 817.3L651.4 816.6L652.9 815.8L654.4 815.0L654.8 814.8L655.9 814.2L657.4 813.3L658.9 812.4L660.4 811.5L661.9 810.5L663.4 809.4L664.9 808.3L666.4 807.2L667.9 806.1L668.5 805.6L669.4 804.9L670.9 803.7L672.4 802.4L673.9 801.0L675.4 799.6L676.9 798.2L678.4 796.7L679.9 795.3L681.4 793.8L682.2 793.0L682.9 792.3L684.4 790.8L685.9 789.3L687.4 787.7L688.9 786.1L690.4 784.5L691.9 782.8L693.4 781.1L694.9 779.4L696.0 778.1L696.4 777.6L697.9 775.8L699.4 773.9L700.9 772.0L702.4 770.0L703.9 768.0L705.4 766.0L706.9 763.9L708.4 761.7L709.7 759.8L709.9 759.5L711.4 757.2L712.9 754.9L714.4 752.5L715.9 750.0L717.4 747.5L718.9 744.9L720.4 742.3L721.9 739.6L723.4 736.9L724.9 734.2L726.4 731.4L727.9 728.6L729.4 725.7L730.9 722.7L732.4 719.6L733.9 716.3L734.9 714.0L735.4 712.8L736.9 709.1L738.4 705.1L739.9 700.9L741.4 696.6L742.9 692.1L744.0 688.8L744.4 687.6L745.9 682.9L747.4 678.1L748.9 673.0L750.4 667.7L751.9 662.2L752.1 661.4L753.4 656.2L754.9 649.9L756.4 643.2L757.9 636.3L758.9 631.6L759.4 629.2L760.9 621.9L762.4 614.2L763.9 606.2L764.7 601.8L765.4 597.8L766.9 588.6L768.4 579.2L769.2 574.3L769.9 570.2L771.4 561.9L772.9 553.0L773.8 546.9L774.4 542.3L775.9 529.2L777.4 514.5L778.9 498.9L780.0 487.5L780.4 483.4L781.9 467.5L783.4 451.0L784.9 434.1L786.4 416.9L787.0 410.0L787.9 399.5L789.4 381.5L790.9 363.3L792.0 350.0L792.4 345.2L793.9 327.0L795.4 308.9L796.9 291.0L797.5 284.0L798.4 273.3L799.9 255.0L801.4 237.6L802.9 222.9L803.0 222.0L804.4 212.5L805.3 205.8L805.9 199.3L807.4 177.0L808.9 152.8L809.9 140.0L810.4 134.9L811.9 121.5L813.4 110.6L813.5 110.0L814.9 101.9L816.4 94.7L816.8 93.0L817.9 88.3L819.4 82.7L820.5 80.0L820.9 79.3L822.4 77.1L823.9 75.6L824.8 75.3L825.4 75.5L826.9 77.5L828.4 80.7L829.0 82.0L829.9 84.3L831.4 89.3L832.8 94.7L832.9 95.1L834.4 101.7L835.9 109.3L837.4 117.3L838.9 125.2L839.7 129.1L840.4 132.4L841.9 139.5L843.4 146.5L844.9 153.4L846.4 160.1L847.9 166.6L848.8 170.3L849.4 172.8L850.9 179.3L852.4 185.8L853.9 192.0L855.4 197.6L856.9 202.1L858.0 204.6L858.4 205.3L859.9 207.7L861.4 209.5L862.0 210.0L862.9 210.7L864.4 211.4L864.9 211.5L865.9 211.3L867.4 210.3L868.5 209.5L868.9 209.2L870.4 207.7L871.9 205.7L873.4 203.3L874.0 202.3L874.9 200.5L876.4 196.8L877.9 192.4L879.4 187.5L880.9 182.4L882.4 177.4L883.2 174.9L883.9 172.7L885.4 168.0L886.9 163.2L888.4 158.3L889.9 153.4L891.4 148.6L892.9 143.7L894.4 138.8L894.6 138.2L895.9 134.0L897.4 129.1L898.9 124.1L900.4 119.2L901.9 114.3L903.4 109.6L904.9 105.1L906.1 101.6L906.4 100.7L907.9 96.4L909.4 92.0L910.9 87.7L912.4 83.7L913.9 80.1L915.4 77.0L916.4 75.3L916.9 74.6L918.4 72.5L919.9 70.7L921.4 69.4L922.0 69.0L922.9 68.5L924.4 67.7L925.9 67.3L926.7 67.2L927.4 67.3L928.9 67.8L930.4 68.8L931.9 69.9L932.0 70.0L933.4 71.4L934.9 73.4L936.4 75.7L937.9 78.3L938.1 78.7L939.4 81.2L940.9 84.5L942.4 88.1L943.9 92.0L945.4 96.1L946.9 100.4L947.3 101.6L948.4 104.9L949.9 109.7L951.4 114.8L952.9 120.2L954.4 125.8L955.9 131.6L956.4 133.6L957.4 137.6L958.9 143.6L960.4 149.8L961.9 156.4L963.4 163.4L964.9 171.1L965.6 174.9L966.4 179.8L967.9 190.5L969.4 201.4L970.1 205.8L970.9 210.4L972.4 218.5L973.9 226.0L975.4 233.2L976.9 240.1L978.4 246.9L979.9 253.7L981.4 260.7L982.9 268.1L983.9 273.3L984.4 276.0L985.9 284.3L987.4 292.9L988.9 301.8L990.4 310.8L991.9 319.8L993.4 328.8L994.9 337.7L996.4 346.3L997.7 353.5L997.9 354.6L999.4 362.4L1000.9 370.1L1002.4 377.8L1003.0 381.0L1003.9 386.0L1005.4 394.5L1006.9 403.4L1008.4 412.2L1009.9 420.8L1011.4 428.9L1012.0 432.0L1012.9 436.5L1014.4 443.6L1015.9 450.4L1017.4 457.0L1018.9 463.5L1020.4 469.9L1021.9 476.4L1023.4 483.0L1024.5 488.0L1024.9 489.9L1026.4 497.0L1027.9 504.4L1029.4 511.9L1030.9 519.3L1032.4 526.4L1033.9 533.2L1035.4 539.5L1035.6 540.3L1036.9 545.3L1038.4 550.8L1039.9 556.1L1041.4 561.2L1042.9 566.1L1044.4 570.9L1045.9 575.6L1047.4 580.2L1048.9 584.8L1050.4 589.3L1051.6 593.0L1051.9 593.9L1053.4 598.5L1054.9 603.1L1056.4 607.6L1057.9 612.1L1059.4 616.5L1060.9 620.8L1062.4 625.0L1063.9 629.1L1065.4 633.1L1066.9 637.0L1067.6 638.7L1068.4 640.7L1069.9 644.2L1071.4 647.7L1072.9 651.2L1074.4 654.5L1075.9 657.7L1077.4 660.9L1078.9 664.0L1080.4 667.0L1081.9 669.9L1083.4 672.7L1083.6 673.1L1084.9 675.5L1086.4 678.2L1087.9 680.8L1089.4 683.4L1090.9 685.9L1092.4 688.4L1093.9 690.8L1095.4 693.2L1096.9 695.5L1098.4 697.7L1099.9 699.9L1101.4 702.0L1102.0 702.8L1102.9 704.0L1104.4 706.1L1105.9 708.1L1107.4 710.1L1108.9 711.9L1110.4 713.7L1111.9 715.2L1113.4 716.6L1114.9 717.9L1116.4 719.3L1117.9 720.4L1119.4 721.1L1120.3 721.2L1120.9 721.2L1122.4 720.7L1123.9 719.7L1125.4 718.5L1126.0 718.0L1126.9 716.9L1128.4 713.9L1129.9 710.3L1130.0 710.0L1131.4 706.0L1132.9 700.6L1134.0 696.0L1134.4 694.1L1135.9 685.2L1137.4 674.7L1138.6 666.2L1138.9 664.0L1140.4 651.7L1141.9 641.5L1142.0 641.0L1143.4 635.6L1144.5 633.0L1146.0 635.4L1147.5 641.0L1149.0 653.5L1150.5 671.0L1151.0 676.0L1152.0 684.9L1153.5 697.7L1155.0 709.3L1156.3 718.0L1156.5 719.2L1158.0 727.7L1159.5 735.4L1161.0 742.2L1162.5 748.0L1164.0 752.9L1165.5 757.1L1167.0 761.0L1168.4 764.7L1168.5 765.0L1170.0 769.1L1171.5 773.2L1173.0 777.0L1174.5 780.2L1176.0 782.9L1177.5 785.5L1179.0 787.9L1180.5 790.1L1182.0 792.2L1183.5 794.2L1185.0 796.0L1186.5 797.8L1188.0 799.4L1188.1 799.5L1189.5 800.9L1191.0 802.4L1192.5 803.9L1194.0 805.2L1195.5 806.6L1197.0 807.9L1198.5 809.1L1200.0 810.3L1201.5 811.4L1203.0 812.6L1204.5 813.6L1206.0 814.7L1207.5 815.7L1209.0 816.8L1210.5 817.8L1212.0 818.7L1212.1 818.8L1213.5 819.7L1215.0 820.7L1216.5 821.6L1218.0 822.5L1219.5 823.4L1221.0 824.3L1222.5 825.2L1224.0 826.0L1225.5 826.9L1227.0 827.7L1228.5 828.5L1230.0 829.3L1231.5 830.0L1233.0 830.8L1234.5 831.5L1236.0 832.2L1237.5 832.9L1239.0 833.6L1240.5 834.2L1241.0 834.4L1242.0 834.8L1243.5 835.4L1245.0 836.0L1246.5 836.7L1248.0 837.3L1249.5 837.8L1251.0 838.4L1252.5 839.0L1254.0 839.6L1255.5 840.1L1257.0 840.6L1258.5 841.1L1260.0 841.6L1261.5 842.0L1263.0 842.5L1264.5 842.9L1266.0 843.2L1267.5 843.6L1269.0 843.9L1269.8 844.0L1270.5 844.1L1272.0 844.4L1273.5 844.6L1275.0 844.8L1276.5 845.0L1278.0 845.2L1279.5 845.4L1281.0 845.5L1282.5 845.7L1284.0 845.8L1285.5 846.0L1287.0 846.1L1288.5 846.3L1290.0 846.5L1291.5 846.6L1293.0 846.8L1293.9 846.9L1294.5 847.0L1296.0 847.1L1297.5 847.3L1299.0 847.5L1300.5 847.6L1302.0 847.8L1303.5 847.9L1305.0 848.1L1306.5 848.2L1308.0 848.4L1309.5 848.6L1311.0 848.8L1312.5 849.0L1314.0 849.2L1315.5 849.5L1317.0 849.8L1318.5 850.1L1320.0 850.5L1321.5 851.0L1323.0 851.5L1324.5 852.0L1326.0 852.5L1327.5 853.0L1329.0 853.6L1330.5 854.1L1332.0 854.7L1332.3 854.8L1333.5 855.3L1335.0 855.8L1336.5 856.5L1338.0 857.1L1339.5 857.8L1341.0 858.5L1342.5 859.2L1344.0 859.9L1345.5 860.6L1347.0 861.4L1348.5 862.1L1350.0 862.8L1351.5 863.5L1353.0 864.2L1354.5 864.9L1356.0 865.5L1356.4 865.7L1357.5 866.2L1359.0 866.8L1360.5 867.5L1362.0 868.1L1363.5 868.7L1365.0 869.4L1366.5 870.0L1368.0 870.6L1369.5 871.3L1371.0 871.9L1372.5 872.5L1374.0 873.0L1375.5 873.6L1377.0 874.1L1378.5 874.7L1380.0 875.2L1380.4 875.3L1381.5 875.7L1383.0 876.1L1384.5 876.6L1386.0 877.0L1387.5 877.5L1389.0 877.9L1390.5 878.4L1392.0 878.8L1393.5 879.2L1395.0 879.6L1396.5 880.0L1398.0 880.4L1399.5 880.8L1401.0 881.2L1402.5 881.6L1404.0 881.9L1405.5 882.3L1407.0 882.7L1408.5 883.0L1410.0 883.4L1411.5 883.7L1413.0 884.1L1414.5 884.4L1416.0 884.8L1416.5 884.9L1417.5 885.1L1419.0 885.5L1420.5 885.8L1422.0 886.1L1423.5 886.4L1425.0 886.8L1426.5 887.1L1428.0 887.4L1429.5 887.7L1431.0 888.0L1432.5 888.3L1434.0 888.6L1435.5 888.9L1437.0 889.2L1438.5 889.5L1440.0 889.8L1441.5 890.1L1443.0 890.3L1444.5 890.6L1446.0 890.9L1447.5 891.2L1449.0 891.5L1450.5 891.7L1452.0 892.0L1452.5 892.1L1453.5 892.3L1455.0 892.6L1456.5 892.8L1458.0 893.1L1459.5 893.4L1461.0 893.7L1462.5 893.9L1464.0 894.2L1465.5 894.5L1467.0 894.7L1468.5 895.0L1470.0 895.3L1471.5 895.5L1473.0 895.8L1474.5 896.0L1476.0 896.3L1477.5 896.5L1479.0 896.8L1480.5 897.0L1482.0 897.2L1483.5 897.4L1485.0 897.6L1486.5 897.8L1488.0 898.0L1488.6 898.1L1489.5 898.2L1491.0 898.4L1492.5 898.6L1494.0 898.8L1495.5 899.0L1497.0 899.2L1498.5 899.4L1500.0 899.5L1501.5 899.7L1503.0 899.9L1504.5 900.0L1506.0 900.1L1507.5 900.3L1509.0 900.4L1510.5 900.4L1512.0 900.5L1512.6 900.5L1513.5 900.5L1515.0 900.5L1516.5 900.6L1518.0 900.6L1519.5 900.6L1521.0 900.6L1522.5 900.7L1524.0 900.7L1525.5 900.7L1527.0 900.7L1528.5 900.7L1530.0 900.8L1531.5 900.8L1533.0 900.8L1534.5 900.8L1536.0 900.8L1537.5 900.8L1539.0 900.8L1540.5 900.8L1541.0 900.8" fill="none" stroke="#000" stroke-width="5.1" stroke-linejoin="round" stroke-linecap="butt"/>
<text transform="translate(803.59 358.65) scale(0.6776 0.7496)" font-size="100" fill="#1c1c1c">0.8um</text>
<text transform="translate(826.75 855.60) scale(0.6642 0.7409)" font-size="100" fill="#1c1c1c">1.17µm</text>
<path d="M285.0 200.0H309.3V211.6H285.0ZM357.1 200.0H405.1V211.6H357.1ZM453.0 200.0H501.0V211.6H453.0ZM548.8 200.0H596.8V211.6H548.8ZM644.7 200.0H692.7V211.6H644.7ZM740.5 200.0H788.5V211.6H740.5ZM836.3 200.0H884.3V211.6H836.3ZM932.2 200.0H980.2V211.6H932.2ZM1028.0 200.0H1076.0V211.6H1028.0ZM1123.9 200.0H1171.9V211.6H1123.9ZM1219.7 200.0H1267.7V211.6H1219.7ZM1315.5 200.0H1363.5V211.6H1315.5ZM1411.4 200.0H1459.4V211.6H1411.4ZM1507.2 200.0H1531.0V211.6H1507.2ZM285.0 482.6H309.3V494.2H285.0ZM357.1 482.6H405.1V494.2H357.1ZM453.0 482.6H501.0V494.2H453.0ZM548.8 482.6H596.8V494.2H548.8ZM644.7 482.6H692.7V494.2H644.7ZM740.5 482.6H788.5V494.2H740.5ZM836.3 482.6H884.3V494.2H836.3ZM932.2 482.6H980.2V494.2H932.2ZM1028.0 482.6H1076.0V494.2H1028.0ZM1123.9 482.6H1171.9V494.2H1123.9ZM1219.7 482.6H1267.7V494.2H1219.7ZM1315.5 482.6H1363.5V494.2H1315.5ZM1411.4 482.6H1459.4V494.2H1411.4ZM1507.2 482.6H1531.0V494.2H1507.2ZM774.2 488.4H785.8V511.9H774.2ZM774.2 561.6H785.8V606.6H774.2ZM774.2 656.3H785.8V701.3H774.2ZM774.2 751.0H785.8V796.0H774.2ZM774.2 845.7H785.8V890.7H774.2ZM774.2 940.4H785.8V961.6H774.2ZM799.6 205.8H811.2V227.8H799.6ZM799.6 277.5H811.2V322.5H799.6ZM799.6 372.2H811.2V417.2H799.6ZM799.6 466.9H811.2V511.9H799.6ZM799.6 561.6H811.2V606.6H799.6ZM799.6 656.3H811.2V701.3H799.6ZM799.6 751.0H811.2V796.0H799.6ZM799.6 845.7H811.2V890.7H799.6ZM799.6 940.4H811.2V961.6H799.6ZM964.2 205.8H975.8V227.8H964.2ZM964.2 277.5H975.8V322.5H964.2ZM964.2 372.2H975.8V417.2H964.2ZM964.2 466.9H975.8V511.9H964.2ZM964.2 561.6H975.8V606.6H964.2ZM964.2 656.3H975.8V701.3H964.2ZM964.2 751.0H975.8V796.0H964.2ZM964.2 845.7H975.8V890.7H964.2ZM964.2 940.4H975.8V961.6H964.2ZM1018.8 488.4H1030.4V511.9H1018.8ZM1018.8 561.6H1030.4V606.6H1018.8ZM1018.8 656.3H1030.4V701.3H1018.8ZM1018.8 751.0H1030.4V796.0H1018.8ZM1018.8 845.7H1030.4V890.7H1018.8ZM1018.8 940.4H1030.4V961.6H1018.8Z" fill="#000"/>
<path d="M841.2 381.1H934.3V390.6H841.2Z" fill="#000"/>
<path d="M811.2 385.8Q836.0 374.1 856.2 359.8Q847.2 374.1 846.2 385.8Q847.2 397.5 856.2 411.8Q836.0 397.5 811.2 385.8Z" fill="#000"/>
<path d="M964.3 385.8Q939.5 374.1 919.3 359.8Q928.3 374.1 929.3 385.8Q928.3 397.5 919.3 411.8Q939.5 397.5 964.3 385.8Z" fill="#000"/>
<path d="M820.7 767.1H985.3V777.6H820.7Z" fill="#000"/>
<path d="M786.7 772.4Q812.9 760.0 834.4 744.9Q826.7 760.0 825.7 772.4Q826.7 784.8 834.4 799.9Q812.9 784.8 786.7 772.4Z" fill="#000"/>
<path d="M1019.3 772.4Q993.1 760.0 971.6 744.9Q979.3 760.0 980.3 772.4Q979.3 784.8 971.6 799.9Q993.1 784.8 1019.3 772.4Z" fill="#000"/>
<rect x="273.4" y="16.9" width="1268.6" height="944.7" fill="none" stroke="#262626" stroke-width="3.2"/>
<text transform="translate(223.67 60.90) scale(0.6507 0.8303)" font-size="100" fill="#000" stroke="#000" stroke-width="0.72">1</text>
<text transform="translate(157.70 239.30) scale(0.8000 0.8000)" font-size="100" fill="#000" stroke="#000" stroke-width="0.75">0.8</text>
<text transform="translate(150.40 427.00) scale(0.8000 0.8000)" font-size="100" fill="#000" stroke="#000" stroke-width="0.75">0.6</text>
<text transform="translate(150.40 609.50) scale(0.8000 0.8000)" font-size="100" fill="#000" stroke="#000" stroke-width="0.75">0.4</text>
<text transform="translate(150.40 795.40) scale(0.8000 0.8000)" font-size="100" fill="#000" stroke="#000" stroke-width="0.75">0.2</text>
<text transform="translate(201.60 960.00) scale(0.8000 0.8000)" font-size="100" fill="#000" stroke="#000" stroke-width="0.75">0</text>
<text transform="translate(266.65 1029.80) scale(0.8000 0.8000)" font-size="100" fill="#000" stroke="#000" stroke-width="0.75">8</text>
<text transform="translate(466.85 1029.80) scale(0.8000 0.8000)" font-size="100" fill="#000" stroke="#000" stroke-width="0.75">9</text>
<text transform="translate(664.45 1029.80) scale(0.8000 0.8000)" font-size="100" fill="#000" stroke="#000" stroke-width="0.75">10</text>
<text transform="translate(867.70 1029.80) scale(0.8000 0.8000)" font-size="100" fill="#000" stroke="#000" stroke-width="0.75">11</text>
<text transform="translate(1088.30 1029.80) scale(0.8000 0.8000)" font-size="100" fill="#000" stroke="#000" stroke-width="0.75">12</text>
<text transform="translate(1298.70 1029.80) scale(0.8000 0.8000)" font-size="100" fill="#000" stroke="#000" stroke-width="0.75">13</text>
<text transform="translate(1495.05 1029.80) scale(0.8000 0.8000)" font-size="100" fill="#000" stroke="#000" stroke-width="0.75">14</text>
<text transform="translate(610.30 1115.93) scale(0.9165 0.9119)" font-size="100" fill="#000" stroke="#000" stroke-width="0.65">Wavelength (µm)</text>
<text transform="translate(1359.57 790.44) scale(0.8961 0.8725)" font-size="100" fill="#000" stroke="#000" stroke-width="1.90">(a)</text>
<text transform="translate(107.80 797.15) rotate(-90) scale(0.9451 1.0242)" font-size="100" fill="#000" stroke="#000" stroke-width="0.59">Absorptance</text>
</g>
<g id="panel-b">
<g clip-path="url(#hclip)"><g filter="url(#hblur)">
<rect x="227.2" y="1167" width="1315.8" height="16.0" fill="url(#h0)"/>
<rect x="227.2" y="1183" width="1315.8" height="8.0" fill="url(#h1)"/>
<rect x="227.2" y="1191" width="1315.8" height="8.0" fill="url(#h2)"/>
<rect x="227.2" y="1199" width="1315.8" height="8.0" fill="url(#h3)"/>
<rect x="227.2" y="1207" width="1315.8" height="8.0" fill="url(#h4)"/>
<rect x="227.2" y="1215" width="1315.8" height="8.0" fill="url(#h5)"/>
<rect x="227.2" y="1223" width="1315.8" height="8.0" fill="url(#h6)"/>
<rect x="227.2" y="1231" width="1315.8" height="8.0" fill="url(#h7)"/>
<rect x="227.2" y="1239" width="1315.8" height="8.0" fill="url(#h8)"/>
<rect x="227.2" y="1247" width="1315.8" height="8.0" fill="url(#h9)"/>
<rect x="227.2" y="1255" width="1315.8" height="8.0" fill="url(#h10)"/>
<rect x="227.2" y="1263" width="1315.8" height="8.0" fill="url(#h11)"/>
<rect x="227.2" y="1271" width="1315.8" height="8.0" fill="url(#h12)"/>
<rect x="227.2" y="1279" width="1315.8" height="8.0" fill="url(#h13)"/>
<rect x="227.2" y="1287" width="1315.8" height="8.0" fill="url(#h14)"/>
<rect x="227.2" y="1295" width="1315.8" height="8.0" fill="url(#h15)"/>
<rect x="227.2" y="1303" width="1315.8" height="8.0" fill="url(#h16)"/>
<rect x="227.2" y="1311" width="1315.8" height="8.0" fill="url(#h17)"/>
<rect x="227.2" y="1319" width="1315.8" height="8.0" fill="url(#h18)"/>
<rect x="227.2" y="1327" width="1315.8" height="8.0" fill="url(#h19)"/>
<rect x="227.2" y="1335" width="1315.8" height="8.0" fill="url(#h20)"/>
<rect x="227.2" y="1343" width="1315.8" height="8.0" fill="url(#h21)"/>
<rect x="227.2" y="1351" width="1315.8" height="8.0" fill="url(#h22)"/>
<rect x="227.2" y="1359" width="1315.8" height="8.0" fill="url(#h23)"/>
<rect x="227.2" y="1367" width="1315.8" height="8.0" fill="url(#h24)"/>
<rect x="227.2" y="1375" width="1315.8" height="8.0" fill="url(#h25)"/>
<rect x="227.2" y="1383" width="1315.8" height="8.0" fill="url(#h26)"/>
<rect x="227.2" y="1391" width="1315.8" height="8.0" fill="url(#h27)"/>
<rect x="227.2" y="1399" width="1315.8" height="8.0" fill="url(#h28)"/>
<rect x="227.2" y="1407" width="1315.8" height="8.0" fill="url(#h29)"/>
<rect x="227.2" y="1415" width="1315.8" height="8.0" fill="url(#h30)"/>
<rect x="227.2" y="1423" width="1315.8" height="8.0" fill="url(#h31)"/>
<rect x="227.2" y="1431" width="1315.8" height="8.0" fill="url(#h32)"/>
<rect x="227.2" y="1439" width="1315.8" height="8.0" fill="url(#h33)"/>
<rect x="227.2" y="1447" width="1315.8" height="8.0" fill="url(#h34)"/>
<rect x="227.2" y="1455" width="1315.8" height="8.0" fill="url(#h35)"/>
<rect x="227.2" y="1463" width="1315.8" height="8.0" fill="url(#h36)"/>
<rect x="227.2" y="1471" width="1315.8" height="8.0" fill="url(#h37)"/>
<rect x="227.2" y="1479" width="1315.8" height="8.0" fill="url(#h38)"/>
<rect x="227.2" y="1487" width="1315.8" height="8.0" fill="url(#h39)"/>
<rect x="227.2" y="1495" width="1315.8" height="8.0" fill="url(#h40)"/>
<rect x="227.2" y="1503" width="1315.8" height="8.0" fill="url(#h41)"/>
<rect x="227.2" y="1511" width="1315.8" height="8.0" fill="url(#h42)"/>
<rect x="227.2" y="1519" width="1315.8" height="8.0" fill="url(#h43)"/>
<rect x="227.2" y="1527" width="1315.8" height="8.0" fill="url(#h44)"/>
<rect x="227.2" y="1535" width="1315.8" height="8.0" fill="url(#h45)"/>
<rect x="227.2" y="1543" width="1315.8" height="8.0" fill="url(#h46)"/>
<rect x="227.2" y="1551" width="1315.8" height="8.0" fill="url(#h47)"/>
<rect x="227.2" y="1559" width="1315.8" height="8.0" fill="url(#h48)"/>
<rect x="227.2" y="1567" width="1315.8" height="8.0" fill="url(#h49)"/>
<rect x="227.2" y="1575" width="1315.8" height="8.0" fill="url(#h50)"/>
<rect x="227.2" y="1583" width="1315.8" height="8.0" fill="url(#h51)"/>
<rect x="227.2" y="1591" width="1315.8" height="8.0" fill="url(#h52)"/>
<rect x="227.2" y="1599" width="1315.8" height="8.0" fill="url(#h53)"/>
<rect x="227.2" y="1607" width="1315.8" height="8.0" fill="url(#h54)"/>
<rect x="227.2" y="1615" width="1315.8" height="8.0" fill="url(#h55)"/>
<rect x="227.2" y="1623" width="1315.8" height="8.0" fill="url(#h56)"/>
<rect x="227.2" y="1631" width="1315.8" height="8.0" fill="url(#h57)"/>
<rect x="227.2" y="1639" width="1315.8" height="8.0" fill="url(#h58)"/>
<rect x="227.2" y="1647" width="1315.8" height="8.0" fill="url(#h59)"/>
<rect x="227.2" y="1655" width="1315.8" height="8.0" fill="url(#h60)"/>
<rect x="227.2" y="1663" width="1315.8" height="8.0" fill="url(#h61)"/>
<rect x="227.2" y="1671" width="1315.8" height="8.0" fill="url(#h62)"/>
<rect x="227.2" y="1679" width="1315.8" height="8.0" fill="url(#h63)"/>
<rect x="227.2" y="1687" width="1315.8" height="8.0" fill="url(#h64)"/>
<rect x="227.2" y="1695" width="1315.8" height="8.0" fill="url(#h65)"/>
<rect x="227.2" y="1703" width="1315.8" height="8.0" fill="url(#h66)"/>
<rect x="227.2" y="1711" width="1315.8" height="8.0" fill="url(#h67)"/>
<rect x="227.2" y="1719" width="1315.8" height="8.0" fill="url(#h68)"/>
<rect x="227.2" y="1727" width="1315.8" height="8.0" fill="url(#h69)"/>
<rect x="227.2" y="1735" width="1315.8" height="8.0" fill="url(#h70)"/>
<rect x="227.2" y="1743" width="1315.8" height="8.0" fill="url(#h71)"/>
<rect x="227.2" y="1751" width="1315.8" height="8.0" fill="url(#h72)"/>
<rect x="227.2" y="1759" width="1315.8" height="8.0" fill="url(#h73)"/>
<rect x="227.2" y="1767" width="1315.8" height="8.0" fill="url(#h74)"/>
<rect x="227.2" y="1775" width="1315.8" height="8.0" fill="url(#h75)"/>
<rect x="227.2" y="1783" width="1315.8" height="8.0" fill="url(#h76)"/>
<rect x="227.2" y="1791" width="1315.8" height="8.0" fill="url(#h77)"/>
<rect x="227.2" y="1799" width="1315.8" height="8.0" fill="url(#h78)"/>
<rect x="227.2" y="1807" width="1315.8" height="8.0" fill="url(#h79)"/>
<rect x="227.2" y="1815" width="1315.8" height="8.0" fill="url(#h80)"/>
<rect x="227.2" y="1823" width="1315.8" height="8.0" fill="url(#h81)"/>
<rect x="227.2" y="1831" width="1315.8" height="8.0" fill="url(#h82)"/>
<rect x="227.2" y="1839" width="1315.8" height="8.0" fill="url(#h83)"/>
<rect x="227.2" y="1847" width="1315.8" height="8.0" fill="url(#h84)"/>
<rect x="227.2" y="1855" width="1315.8" height="10.4" fill="url(#h85)"/>
</g></g>
<rect x="1585.6" y="1207.0" width="43.8" height="637.8" fill="url(#cb)" stroke="#111" stroke-width="2.8"/>
<path d="M1585.6 1270.2h8.5M1629.4 1270.2h-8.5M1585.6 1335.7h8.5M1629.4 1335.7h-8.5M1585.6 1401.9h8.5M1629.4 1401.9h-8.5M1585.6 1470.2h8.5M1629.4 1470.2h-8.5M1585.6 1536h8.5M1629.4 1536h-8.5M1585.6 1602.7h8.5M1629.4 1602.7h-8.5M1585.6 1668.9h8.5M1629.4 1668.9h-8.5M1585.6 1734.3h8.5M1629.4 1734.3h-8.5M1585.6 1806.0h8.5M1629.4 1806.0h-8.5" stroke="#111" stroke-width="3.4" fill="none"/>
<text transform="translate(129.78 1196.93) scale(0.8550 0.8700)" font-size="100" fill="#000" stroke="#000" stroke-width="0.69">0.9</text>
<text transform="translate(126.38 1344.63) scale(0.8550 0.8700)" font-size="100" fill="#000" stroke="#000" stroke-width="0.69">0.8</text>
<text transform="translate(126.98 1478.73) scale(0.8550 0.8700)" font-size="100" fill="#000" stroke="#000" stroke-width="0.69">0.7</text>
<text transform="translate(126.98 1612.73) scale(0.8550 0.8700)" font-size="100" fill="#000" stroke="#000" stroke-width="0.69">0.6</text>
<text transform="translate(126.98 1741.93) scale(0.8550 0.8700)" font-size="100" fill="#000" stroke="#000" stroke-width="0.69">0.5</text>
<text transform="translate(126.98 1852.73) scale(0.8550 0.8700)" font-size="100" fill="#000" stroke="#000" stroke-width="0.69">0.4</text>
<text transform="translate(234.62 1928.73) scale(0.8550 0.8700)" font-size="100" fill="#000" stroke="#000" stroke-width="0.69">8</text>
<text transform="translate(425.50 1928.73) scale(0.8550 0.8700)" font-size="100" fill="#000" stroke="#000" stroke-width="0.69">9</text>
<text transform="translate(631.18 1928.73) scale(0.8550 0.8700)" font-size="100" fill="#000" stroke="#000" stroke-width="0.69">10</text>
<text transform="translate(837.28 1928.73) scale(0.8550 0.8700)" font-size="100" fill="#000" stroke="#000" stroke-width="0.69">11</text>
<text transform="translate(1057.47 1928.73) scale(0.8550 0.8700)" font-size="100" fill="#000" stroke="#000" stroke-width="0.69">12</text>
<text transform="translate(1280.38 1928.73) scale(0.8550 0.8700)" font-size="100" fill="#000" stroke="#000" stroke-width="0.69">13</text>
<text transform="translate(1492.11 1928.73) scale(0.8550 0.8700)" font-size="100" fill="#000" stroke="#000" stroke-width="0.69">14</text>
<text transform="translate(1647.35 1253.00) scale(0.6056 0.8636)" font-size="100" fill="#000" stroke="#000" stroke-width="0.41">1</text>
<text transform="translate(1636.78 1563.13) scale(0.8550 0.8700)" font-size="100" fill="#000" stroke="#000" stroke-width="0.40">0.5</text>
<text transform="translate(1641.58 1857.33) scale(0.8550 0.8700)" font-size="100" fill="#000" stroke="#000" stroke-width="0.40">0</text>
<text transform="translate(632.70 2020.03) scale(0.8454 0.9134)" font-size="100" fill="#000" stroke="#000" stroke-width="0.66">Wavelength (µm)</text>
<text transform="translate(1434.21 2023.28) scale(0.8861 0.8846)" font-size="100" fill="#000" stroke="#000" stroke-width="1.92">(b)</text>
<text transform="translate(87.40 1650.30) rotate(-90) scale(0.9025 0.9069)" font-size="100" font-style="italic" fill="#000" stroke="#000" stroke-width="1.43">E</text>
<text transform="translate(98.64 1602.86) rotate(-90) scale(0.8571 0.4913)" font-size="100" font-style="italic" fill="#000" stroke="#000" stroke-width="0.70">f</text>
<text transform="translate(70.15 1560.67) rotate(-90) scale(0.8476 0.8626)" font-size="100" font-style="italic" fill="#000" stroke="#000" stroke-width="1.51">(eV)</text>
</g>
</svg>
</body></html>
